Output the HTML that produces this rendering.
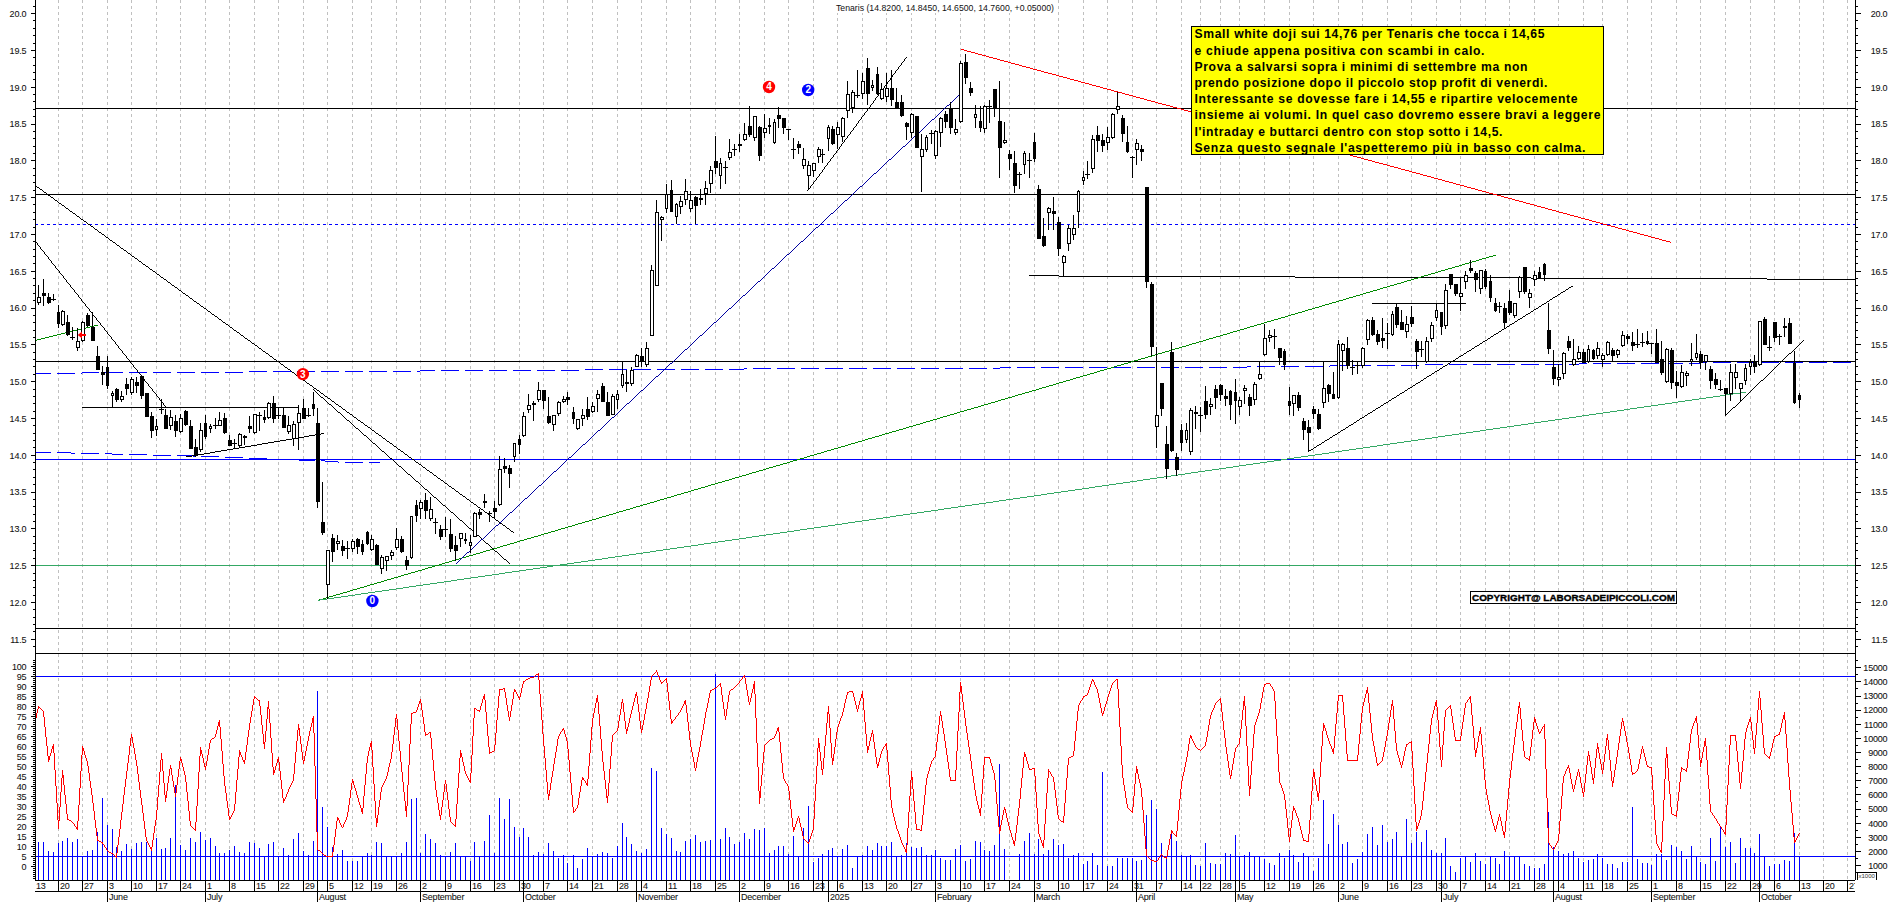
<!DOCTYPE html>
<html><head><meta charset="utf-8"><title>Tenaris</title>
<style>html,body{margin:0;padding:0;background:#fff;overflow:hidden}svg{display:block}</style></head>
<body>
<svg width="1890" height="902" viewBox="0 0 1890 902" style="display:block">
<rect width="1890" height="902" fill="#fff"/>
<g stroke="#c0c0c0" stroke-width="1" stroke-dasharray="3 3" shape-rendering="crispEdges">
<line x1="58.5" y1="0" x2="58.5" y2="880"/>
<line x1="82.5" y1="0" x2="82.5" y2="880"/>
<line x1="107.5" y1="0" x2="107.5" y2="880"/>
<line x1="131.5" y1="0" x2="131.5" y2="880"/>
<line x1="156.5" y1="0" x2="156.5" y2="880"/>
<line x1="180.5" y1="0" x2="180.5" y2="880"/>
<line x1="205.5" y1="0" x2="205.5" y2="880"/>
<line x1="229.5" y1="0" x2="229.5" y2="880"/>
<line x1="254.5" y1="0" x2="254.5" y2="880"/>
<line x1="278.5" y1="0" x2="278.5" y2="880"/>
<line x1="303.5" y1="0" x2="303.5" y2="880"/>
<line x1="327.5" y1="0" x2="327.5" y2="880"/>
<line x1="352.5" y1="0" x2="352.5" y2="880"/>
<line x1="371.5" y1="0" x2="371.5" y2="880"/>
<line x1="396.5" y1="0" x2="396.5" y2="880"/>
<line x1="420.5" y1="0" x2="420.5" y2="880"/>
<line x1="445.5" y1="0" x2="445.5" y2="880"/>
<line x1="470.5" y1="0" x2="470.5" y2="880"/>
<line x1="494.5" y1="0" x2="494.5" y2="880"/>
<line x1="519.5" y1="0" x2="519.5" y2="880"/>
<line x1="543.5" y1="0" x2="543.5" y2="880"/>
<line x1="567.5" y1="0" x2="567.5" y2="880"/>
<line x1="592.5" y1="0" x2="592.5" y2="880"/>
<line x1="617.5" y1="0" x2="617.5" y2="880"/>
<line x1="641.5" y1="0" x2="641.5" y2="880"/>
<line x1="666.5" y1="0" x2="666.5" y2="880"/>
<line x1="690.5" y1="0" x2="690.5" y2="880"/>
<line x1="715.5" y1="0" x2="715.5" y2="880"/>
<line x1="739.5" y1="0" x2="739.5" y2="880"/>
<line x1="764.5" y1="0" x2="764.5" y2="880"/>
<line x1="788.5" y1="0" x2="788.5" y2="880"/>
<line x1="813.5" y1="0" x2="813.5" y2="880"/>
<line x1="837.5" y1="0" x2="837.5" y2="880"/>
<line x1="862.5" y1="0" x2="862.5" y2="880"/>
<line x1="886.5" y1="0" x2="886.5" y2="880"/>
<line x1="911.5" y1="0" x2="911.5" y2="880"/>
<line x1="935.5" y1="0" x2="935.5" y2="880"/>
<line x1="960.5" y1="0" x2="960.5" y2="880"/>
<line x1="984.5" y1="0" x2="984.5" y2="880"/>
<line x1="1009.5" y1="0" x2="1009.5" y2="880"/>
<line x1="1034.5" y1="0" x2="1034.5" y2="880"/>
<line x1="1058.5" y1="0" x2="1058.5" y2="880"/>
<line x1="1083.5" y1="0" x2="1083.5" y2="880"/>
<line x1="1107.5" y1="0" x2="1107.5" y2="880"/>
<line x1="1132.5" y1="0" x2="1132.5" y2="880"/>
<line x1="1156.5" y1="0" x2="1156.5" y2="880"/>
<line x1="1181.5" y1="0" x2="1181.5" y2="880"/>
<line x1="1200.5" y1="0" x2="1200.5" y2="880"/>
<line x1="1220.5" y1="0" x2="1220.5" y2="880"/>
<line x1="1239.5" y1="0" x2="1239.5" y2="880"/>
<line x1="1264.5" y1="0" x2="1264.5" y2="880"/>
<line x1="1289.5" y1="0" x2="1289.5" y2="880"/>
<line x1="1313.5" y1="0" x2="1313.5" y2="880"/>
<line x1="1338.5" y1="0" x2="1338.5" y2="880"/>
<line x1="1362.5" y1="0" x2="1362.5" y2="880"/>
<line x1="1387.5" y1="0" x2="1387.5" y2="880"/>
<line x1="1411.5" y1="0" x2="1411.5" y2="880"/>
<line x1="1436.5" y1="0" x2="1436.5" y2="880"/>
<line x1="1460.5" y1="0" x2="1460.5" y2="880"/>
<line x1="1485.5" y1="0" x2="1485.5" y2="880"/>
<line x1="1509.5" y1="0" x2="1509.5" y2="880"/>
<line x1="1534.5" y1="0" x2="1534.5" y2="880"/>
<line x1="1558.5" y1="0" x2="1558.5" y2="880"/>
<line x1="1583.5" y1="0" x2="1583.5" y2="880"/>
<line x1="1602.5" y1="0" x2="1602.5" y2="880"/>
<line x1="1627.5" y1="0" x2="1627.5" y2="880"/>
<line x1="1651.5" y1="0" x2="1651.5" y2="880"/>
<line x1="1676.5" y1="0" x2="1676.5" y2="880"/>
<line x1="1700.5" y1="0" x2="1700.5" y2="880"/>
<line x1="1725.5" y1="0" x2="1725.5" y2="880"/>
<line x1="1750.5" y1="0" x2="1750.5" y2="880"/>
<line x1="1774.5" y1="0" x2="1774.5" y2="880"/>
<line x1="1799.5" y1="0" x2="1799.5" y2="880"/>
<line x1="1823.5" y1="0" x2="1823.5" y2="880"/>
<line x1="1847.5" y1="0" x2="1847.5" y2="880"/>
</g>
<clipPath id="cp"><rect x="36" y="0" width="1819" height="653"/></clipPath>
<clipPath id="cl"><rect x="36" y="653" width="1819" height="227"/></clipPath>
<g clip-path="url(#cl)">
<g fill="#0000ff" shape-rendering="crispEdges">
<rect x="38" y="842" width="1" height="38"/>
<rect x="43" y="842" width="1" height="38"/>
<rect x="48" y="851" width="1" height="29"/>
<rect x="53" y="852" width="1" height="28"/>
<rect x="58" y="843" width="1" height="37"/>
<rect x="62" y="841" width="1" height="39"/>
<rect x="67" y="838" width="1" height="42"/>
<rect x="72" y="842" width="1" height="38"/>
<rect x="77" y="839" width="1" height="41"/>
<rect x="82" y="856" width="1" height="24"/>
<rect x="87" y="851" width="1" height="29"/>
<rect x="92" y="850" width="1" height="30"/>
<rect x="97" y="832" width="1" height="48"/>
<rect x="102" y="798" width="1" height="82"/>
<rect x="107" y="825" width="1" height="55"/>
<rect x="112" y="829" width="1" height="51"/>
<rect x="116" y="847" width="1" height="33"/>
<rect x="121" y="851" width="1" height="29"/>
<rect x="126" y="844" width="1" height="36"/>
<rect x="131" y="849" width="1" height="31"/>
<rect x="136" y="843" width="1" height="37"/>
<rect x="141" y="842" width="1" height="38"/>
<rect x="146" y="842" width="1" height="38"/>
<rect x="151" y="851" width="1" height="29"/>
<rect x="156" y="838" width="1" height="42"/>
<rect x="161" y="849" width="1" height="31"/>
<rect x="165" y="848" width="1" height="32"/>
<rect x="170" y="838" width="1" height="42"/>
<rect x="175" y="785" width="1" height="95"/>
<rect x="180" y="845" width="1" height="35"/>
<rect x="185" y="850" width="1" height="30"/>
<rect x="190" y="838" width="1" height="42"/>
<rect x="195" y="842" width="1" height="38"/>
<rect x="200" y="832" width="1" height="48"/>
<rect x="205" y="840" width="1" height="40"/>
<rect x="210" y="838" width="1" height="42"/>
<rect x="215" y="846" width="1" height="34"/>
<rect x="219" y="853" width="1" height="27"/>
<rect x="224" y="853" width="1" height="27"/>
<rect x="229" y="850" width="1" height="30"/>
<rect x="234" y="846" width="1" height="34"/>
<rect x="239" y="852" width="1" height="28"/>
<rect x="244" y="853" width="1" height="27"/>
<rect x="249" y="842" width="1" height="38"/>
<rect x="254" y="843" width="1" height="37"/>
<rect x="259" y="848" width="1" height="32"/>
<rect x="264" y="857" width="1" height="23"/>
<rect x="268" y="844" width="1" height="36"/>
<rect x="273" y="842" width="1" height="38"/>
<rect x="278" y="856" width="1" height="24"/>
<rect x="283" y="848" width="1" height="32"/>
<rect x="288" y="855" width="1" height="25"/>
<rect x="293" y="839" width="1" height="41"/>
<rect x="298" y="833" width="1" height="47"/>
<rect x="303" y="851" width="1" height="29"/>
<rect x="308" y="855" width="1" height="25"/>
<rect x="313" y="841" width="1" height="39"/>
<rect x="317" y="691" width="1" height="189"/>
<rect x="322" y="807" width="1" height="73"/>
<rect x="327" y="827" width="1" height="53"/>
<rect x="332" y="847" width="1" height="33"/>
<rect x="337" y="854" width="1" height="26"/>
<rect x="342" y="850" width="1" height="30"/>
<rect x="347" y="861" width="1" height="19"/>
<rect x="352" y="861" width="1" height="19"/>
<rect x="357" y="861" width="1" height="19"/>
<rect x="362" y="856" width="1" height="24"/>
<rect x="367" y="853" width="1" height="27"/>
<rect x="371" y="855" width="1" height="25"/>
<rect x="376" y="842" width="1" height="38"/>
<rect x="381" y="843" width="1" height="37"/>
<rect x="386" y="856" width="1" height="24"/>
<rect x="391" y="856" width="1" height="24"/>
<rect x="396" y="856" width="1" height="24"/>
<rect x="401" y="853" width="1" height="27"/>
<rect x="406" y="842" width="1" height="38"/>
<rect x="411" y="799" width="1" height="81"/>
<rect x="416" y="798" width="1" height="82"/>
<rect x="420" y="853" width="1" height="27"/>
<rect x="425" y="834" width="1" height="46"/>
<rect x="430" y="839" width="1" height="41"/>
<rect x="435" y="843" width="1" height="37"/>
<rect x="440" y="855" width="1" height="25"/>
<rect x="445" y="856" width="1" height="24"/>
<rect x="450" y="852" width="1" height="28"/>
<rect x="455" y="843" width="1" height="37"/>
<rect x="460" y="856" width="1" height="24"/>
<rect x="465" y="857" width="1" height="23"/>
<rect x="470" y="861" width="1" height="19"/>
<rect x="474" y="842" width="1" height="38"/>
<rect x="479" y="857" width="1" height="23"/>
<rect x="484" y="841" width="1" height="39"/>
<rect x="489" y="815" width="1" height="65"/>
<rect x="494" y="853" width="1" height="27"/>
<rect x="499" y="798" width="1" height="82"/>
<rect x="504" y="819" width="1" height="61"/>
<rect x="509" y="799" width="1" height="81"/>
<rect x="514" y="827" width="1" height="53"/>
<rect x="519" y="837" width="1" height="43"/>
<rect x="523" y="828" width="1" height="52"/>
<rect x="528" y="837" width="1" height="43"/>
<rect x="533" y="855" width="1" height="25"/>
<rect x="538" y="852" width="1" height="28"/>
<rect x="543" y="854" width="1" height="26"/>
<rect x="548" y="843" width="1" height="37"/>
<rect x="553" y="851" width="1" height="29"/>
<rect x="558" y="858" width="1" height="22"/>
<rect x="563" y="855" width="1" height="25"/>
<rect x="567" y="863" width="1" height="17"/>
<rect x="573" y="855" width="1" height="25"/>
<rect x="577" y="868" width="1" height="12"/>
<rect x="582" y="859" width="1" height="21"/>
<rect x="587" y="848" width="1" height="32"/>
<rect x="592" y="856" width="1" height="24"/>
<rect x="597" y="854" width="1" height="26"/>
<rect x="602" y="852" width="1" height="28"/>
<rect x="607" y="853" width="1" height="27"/>
<rect x="612" y="858" width="1" height="22"/>
<rect x="617" y="846" width="1" height="34"/>
<rect x="622" y="823" width="1" height="57"/>
<rect x="626" y="837" width="1" height="43"/>
<rect x="631" y="844" width="1" height="36"/>
<rect x="636" y="851" width="1" height="29"/>
<rect x="641" y="853" width="1" height="27"/>
<rect x="646" y="849" width="1" height="31"/>
<rect x="651" y="768" width="1" height="112"/>
<rect x="656" y="771" width="1" height="109"/>
<rect x="661" y="828" width="1" height="52"/>
<rect x="666" y="834" width="1" height="46"/>
<rect x="671" y="838" width="1" height="42"/>
<rect x="676" y="851" width="1" height="29"/>
<rect x="680" y="852" width="1" height="28"/>
<rect x="685" y="841" width="1" height="39"/>
<rect x="690" y="839" width="1" height="41"/>
<rect x="695" y="835" width="1" height="45"/>
<rect x="700" y="842" width="1" height="38"/>
<rect x="705" y="841" width="1" height="39"/>
<rect x="710" y="840" width="1" height="40"/>
<rect x="715" y="674" width="1" height="206"/>
<rect x="720" y="839" width="1" height="41"/>
<rect x="725" y="828" width="1" height="52"/>
<rect x="729" y="837" width="1" height="43"/>
<rect x="734" y="844" width="1" height="36"/>
<rect x="739" y="842" width="1" height="38"/>
<rect x="744" y="833" width="1" height="47"/>
<rect x="749" y="839" width="1" height="41"/>
<rect x="754" y="829" width="1" height="51"/>
<rect x="759" y="830" width="1" height="50"/>
<rect x="764" y="828" width="1" height="52"/>
<rect x="769" y="853" width="1" height="27"/>
<rect x="774" y="850" width="1" height="30"/>
<rect x="778" y="846" width="1" height="34"/>
<rect x="783" y="846" width="1" height="34"/>
<rect x="788" y="854" width="1" height="26"/>
<rect x="793" y="836" width="1" height="44"/>
<rect x="798" y="856" width="1" height="24"/>
<rect x="803" y="828" width="1" height="52"/>
<rect x="808" y="806" width="1" height="74"/>
<rect x="813" y="862" width="1" height="18"/>
<rect x="818" y="858" width="1" height="22"/>
<rect x="822" y="854" width="1" height="26"/>
<rect x="828" y="850" width="1" height="30"/>
<rect x="832" y="848" width="1" height="32"/>
<rect x="837" y="856" width="1" height="24"/>
<rect x="842" y="849" width="1" height="31"/>
<rect x="847" y="845" width="1" height="35"/>
<rect x="852" y="868" width="1" height="12"/>
<rect x="857" y="857" width="1" height="23"/>
<rect x="862" y="855" width="1" height="25"/>
<rect x="867" y="846" width="1" height="34"/>
<rect x="872" y="850" width="1" height="30"/>
<rect x="877" y="843" width="1" height="37"/>
<rect x="881" y="846" width="1" height="34"/>
<rect x="886" y="846" width="1" height="34"/>
<rect x="891" y="842" width="1" height="38"/>
<rect x="896" y="857" width="1" height="23"/>
<rect x="901" y="855" width="1" height="25"/>
<rect x="906" y="843" width="1" height="37"/>
<rect x="911" y="847" width="1" height="33"/>
<rect x="916" y="848" width="1" height="32"/>
<rect x="921" y="847" width="1" height="33"/>
<rect x="926" y="855" width="1" height="25"/>
<rect x="931" y="855" width="1" height="25"/>
<rect x="935" y="850" width="1" height="30"/>
<rect x="940" y="858" width="1" height="22"/>
<rect x="945" y="860" width="1" height="20"/>
<rect x="950" y="860" width="1" height="20"/>
<rect x="955" y="849" width="1" height="31"/>
<rect x="960" y="845" width="1" height="35"/>
<rect x="965" y="861" width="1" height="19"/>
<rect x="970" y="859" width="1" height="21"/>
<rect x="975" y="841" width="1" height="39"/>
<rect x="980" y="842" width="1" height="38"/>
<rect x="984" y="850" width="1" height="30"/>
<rect x="989" y="851" width="1" height="29"/>
<rect x="994" y="845" width="1" height="35"/>
<rect x="999" y="764" width="1" height="116"/>
<rect x="1004" y="849" width="1" height="31"/>
<rect x="1019" y="854" width="1" height="26"/>
<rect x="1024" y="841" width="1" height="39"/>
<rect x="1029" y="833" width="1" height="47"/>
<rect x="1034" y="854" width="1" height="26"/>
<rect x="1038" y="839" width="1" height="41"/>
<rect x="1043" y="854" width="1" height="26"/>
<rect x="1048" y="850" width="1" height="30"/>
<rect x="1053" y="839" width="1" height="41"/>
<rect x="1058" y="845" width="1" height="35"/>
<rect x="1063" y="844" width="1" height="36"/>
<rect x="1068" y="858" width="1" height="22"/>
<rect x="1073" y="855" width="1" height="25"/>
<rect x="1078" y="853" width="1" height="27"/>
<rect x="1083" y="864" width="1" height="16"/>
<rect x="1087" y="861" width="1" height="19"/>
<rect x="1092" y="853" width="1" height="27"/>
<rect x="1097" y="865" width="1" height="15"/>
<rect x="1102" y="772" width="1" height="108"/>
<rect x="1107" y="866" width="1" height="14"/>
<rect x="1112" y="866" width="1" height="14"/>
<rect x="1117" y="858" width="1" height="22"/>
<rect x="1122" y="858" width="1" height="22"/>
<rect x="1127" y="858" width="1" height="22"/>
<rect x="1132" y="858" width="1" height="22"/>
<rect x="1136" y="861" width="1" height="19"/>
<rect x="1141" y="860" width="1" height="20"/>
<rect x="1146" y="815" width="1" height="65"/>
<rect x="1151" y="800" width="1" height="80"/>
<rect x="1156" y="809" width="1" height="71"/>
<rect x="1161" y="843" width="1" height="37"/>
<rect x="1166" y="858" width="1" height="22"/>
<rect x="1171" y="833" width="1" height="47"/>
<rect x="1176" y="841" width="1" height="39"/>
<rect x="1181" y="855" width="1" height="25"/>
<rect x="1186" y="857" width="1" height="23"/>
<rect x="1190" y="855" width="1" height="25"/>
<rect x="1195" y="865" width="1" height="15"/>
<rect x="1200" y="866" width="1" height="14"/>
<rect x="1205" y="843" width="1" height="37"/>
<rect x="1210" y="863" width="1" height="17"/>
<rect x="1215" y="864" width="1" height="16"/>
<rect x="1220" y="864" width="1" height="16"/>
<rect x="1225" y="853" width="1" height="27"/>
<rect x="1230" y="854" width="1" height="26"/>
<rect x="1235" y="835" width="1" height="45"/>
<rect x="1239" y="857" width="1" height="23"/>
<rect x="1244" y="855" width="1" height="25"/>
<rect x="1249" y="852" width="1" height="28"/>
<rect x="1254" y="857" width="1" height="23"/>
<rect x="1259" y="857" width="1" height="23"/>
<rect x="1264" y="859" width="1" height="21"/>
<rect x="1269" y="863" width="1" height="17"/>
<rect x="1274" y="865" width="1" height="15"/>
<rect x="1279" y="853" width="1" height="27"/>
<rect x="1284" y="858" width="1" height="22"/>
<rect x="1289" y="850" width="1" height="30"/>
<rect x="1293" y="855" width="1" height="25"/>
<rect x="1298" y="862" width="1" height="18"/>
<rect x="1303" y="853" width="1" height="27"/>
<rect x="1308" y="857" width="1" height="23"/>
<rect x="1313" y="871" width="1" height="9"/>
<rect x="1318" y="858" width="1" height="22"/>
<rect x="1323" y="800" width="1" height="80"/>
<rect x="1328" y="844" width="1" height="36"/>
<rect x="1333" y="814" width="1" height="66"/>
<rect x="1338" y="825" width="1" height="55"/>
<rect x="1342" y="844" width="1" height="36"/>
<rect x="1347" y="842" width="1" height="38"/>
<rect x="1352" y="863" width="1" height="17"/>
<rect x="1357" y="859" width="1" height="21"/>
<rect x="1362" y="852" width="1" height="28"/>
<rect x="1367" y="834" width="1" height="46"/>
<rect x="1372" y="827" width="1" height="53"/>
<rect x="1377" y="845" width="1" height="35"/>
<rect x="1382" y="825" width="1" height="55"/>
<rect x="1387" y="842" width="1" height="38"/>
<rect x="1392" y="839" width="1" height="41"/>
<rect x="1396" y="832" width="1" height="48"/>
<rect x="1401" y="857" width="1" height="23"/>
<rect x="1406" y="819" width="1" height="61"/>
<rect x="1411" y="843" width="1" height="37"/>
<rect x="1416" y="832" width="1" height="48"/>
<rect x="1421" y="842" width="1" height="38"/>
<rect x="1426" y="830" width="1" height="50"/>
<rect x="1431" y="850" width="1" height="30"/>
<rect x="1436" y="853" width="1" height="27"/>
<rect x="1441" y="853" width="1" height="27"/>
<rect x="1445" y="838" width="1" height="42"/>
<rect x="1450" y="866" width="1" height="14"/>
<rect x="1455" y="872" width="1" height="8"/>
<rect x="1460" y="858" width="1" height="22"/>
<rect x="1465" y="857" width="1" height="23"/>
<rect x="1470" y="862" width="1" height="18"/>
<rect x="1475" y="853" width="1" height="27"/>
<rect x="1480" y="861" width="1" height="19"/>
<rect x="1485" y="864" width="1" height="16"/>
<rect x="1490" y="857" width="1" height="23"/>
<rect x="1495" y="858" width="1" height="22"/>
<rect x="1499" y="864" width="1" height="16"/>
<rect x="1504" y="851" width="1" height="29"/>
<rect x="1509" y="857" width="1" height="23"/>
<rect x="1514" y="857" width="1" height="23"/>
<rect x="1519" y="857" width="1" height="23"/>
<rect x="1524" y="864" width="1" height="16"/>
<rect x="1529" y="866" width="1" height="14"/>
<rect x="1534" y="868" width="1" height="12"/>
<rect x="1539" y="868" width="1" height="12"/>
<rect x="1544" y="864" width="1" height="16"/>
<rect x="1548" y="812" width="1" height="68"/>
<rect x="1553" y="847" width="1" height="33"/>
<rect x="1558" y="851" width="1" height="29"/>
<rect x="1563" y="854" width="1" height="26"/>
<rect x="1568" y="853" width="1" height="27"/>
<rect x="1573" y="851" width="1" height="29"/>
<rect x="1578" y="858" width="1" height="22"/>
<rect x="1583" y="862" width="1" height="18"/>
<rect x="1588" y="860" width="1" height="20"/>
<rect x="1593" y="859" width="1" height="21"/>
<rect x="1597" y="854" width="1" height="26"/>
<rect x="1602" y="858" width="1" height="22"/>
<rect x="1607" y="864" width="1" height="16"/>
<rect x="1612" y="864" width="1" height="16"/>
<rect x="1617" y="868" width="1" height="12"/>
<rect x="1622" y="862" width="1" height="18"/>
<rect x="1627" y="862" width="1" height="18"/>
<rect x="1632" y="807" width="1" height="73"/>
<rect x="1637" y="859" width="1" height="21"/>
<rect x="1642" y="863" width="1" height="17"/>
<rect x="1647" y="863" width="1" height="17"/>
<rect x="1651" y="865" width="1" height="15"/>
<rect x="1656" y="854" width="1" height="26"/>
<rect x="1661" y="854" width="1" height="26"/>
<rect x="1666" y="860" width="1" height="20"/>
<rect x="1671" y="845" width="1" height="35"/>
<rect x="1676" y="847" width="1" height="33"/>
<rect x="1681" y="851" width="1" height="29"/>
<rect x="1686" y="859" width="1" height="21"/>
<rect x="1691" y="846" width="1" height="34"/>
<rect x="1696" y="857" width="1" height="23"/>
<rect x="1700" y="862" width="1" height="18"/>
<rect x="1705" y="864" width="1" height="16"/>
<rect x="1710" y="838" width="1" height="42"/>
<rect x="1715" y="861" width="1" height="19"/>
<rect x="1720" y="827" width="1" height="53"/>
<rect x="1725" y="847" width="1" height="33"/>
<rect x="1730" y="842" width="1" height="38"/>
<rect x="1735" y="863" width="1" height="17"/>
<rect x="1740" y="838" width="1" height="42"/>
<rect x="1745" y="848" width="1" height="32"/>
<rect x="1750" y="848" width="1" height="32"/>
<rect x="1754" y="853" width="1" height="27"/>
<rect x="1759" y="834" width="1" height="46"/>
<rect x="1764" y="857" width="1" height="23"/>
<rect x="1769" y="866" width="1" height="14"/>
<rect x="1774" y="864" width="1" height="16"/>
<rect x="1779" y="864" width="1" height="16"/>
<rect x="1784" y="860" width="1" height="20"/>
<rect x="1789" y="861" width="1" height="19"/>
<rect x="1794" y="833" width="1" height="47"/>
<rect x="1799" y="856" width="1" height="24"/>
</g>
<line x1="35" y1="676.5" x2="1855" y2="676.5" stroke="#0000ff" stroke-width="1" shape-rendering="crispEdges"/>
<line x1="35" y1="856.5" x2="1855" y2="856.5" stroke="#0000ff" stroke-width="1" shape-rendering="crispEdges"/>
<path d="M38.5 706v3M37.5 709v4M36.5 713v5M35.5 718v4M34.5 722v5M33.5 727v3M38.5 706v1M39.5 707v1M40.5 708v1M41.5 709v1M42.5 710v1M43.5 711v1M43.5 711v6M44.5 717v10M45.5 727v10M46.5 737v9M47.5 746v10M48.5 756v6M53.5 744v2M52.5 746v3M51.5 749v4M50.5 753v3M49.5 756v4M48.5 760v2M53.5 744v9M54.5 753v17M55.5 770v16M56.5 786v17M57.5 803v17M58.5 820v9M62.5 770v8M61.5 778v14M60.5 792v15M59.5 807v14M58.5 821v8M62.5 770v5M63.5 775v10M64.5 785v10M65.5 795v9M66.5 804v10M67.5 814v6M67 819.5h2M69 820.5h2M71 821.5h1M72 822.5h1M72.5 822v1M73.5 823v1M74.5 824v2M75.5 826v1M76.5 827v2M77.5 829v1M82.5 746v9M81.5 755v16M80.5 771v17M79.5 788v17M78.5 805v16M77.5 821v9M82.5 746v2M83.5 748v3M84.5 751v4M85.5 755v3M86.5 758v3M87.5 761v2M87.5 762v4M88.5 766v7M89.5 773v8M90.5 781v7M91.5 788v7M92.5 795v5M92.5 799v4M93.5 803v8M94.5 811v9M95.5 820v8M96.5 828v8M97.5 836v5M97 840.5h2M99 841.5h2M101 842.5h2M102.5 842v2M103.5 844v1M104.5 845v2M105.5 847v1M106.5 848v2M107.5 850v1M107 850.5h1M108 851.5h1M109 852.5h2M111 853.5h2M112 853.5h1M113 854.5h1M114 855.5h1M115 856.5h1M116 857.5h1M121.5 816v4M120.5 820v9M119.5 829v8M118.5 837v8M117.5 845v8M116.5 853v5M126.5 774v5M125.5 779v8M124.5 787v8M123.5 795v9M122.5 804v8M121.5 812v5M131.5 734v4M130.5 738v8M129.5 746v9M128.5 755v8M127.5 763v8M126.5 771v4M131.5 734v3M132.5 737v6M133.5 743v5M134.5 748v6M135.5 754v6M136.5 760v3M136.5 762v4M137.5 766v8M138.5 774v8M139.5 782v8M140.5 790v8M141.5 798v4M141.5 801v4M142.5 805v8M143.5 813v8M144.5 821v8M145.5 829v8M146.5 837v4M146.5 840v1M147.5 841v2M148.5 843v2M149.5 845v2M150.5 847v2M151.5 849v2M156.5 816v4M155.5 820v6M154.5 826v7M153.5 833v7M152.5 840v7M151.5 847v4M161.5 753v7M160.5 760v12M159.5 772v13M158.5 785v12M157.5 797v13M156.5 810v7M161.5 753v6M162.5 759v12M163.5 771v12M164.5 783v12M165.5 795v7M170.5 765v4M169.5 769v7M168.5 776v7M167.5 783v8M166.5 791v7M165.5 798v4M170.5 765v3M171.5 768v7M172.5 775v6M173.5 781v6M174.5 787v6M175.5 793v4M180.5 757v4M179.5 761v8M178.5 769v8M177.5 777v8M176.5 785v8M175.5 793v4M180.5 757v2M181.5 759v4M182.5 763v4M183.5 767v4M184.5 771v4M185.5 775v3M185.5 777v5M186.5 782v10M187.5 792v9M188.5 801v10M189.5 811v10M190.5 821v5M190 825.5h1M191 826.5h1M192 827.5h1M193 828.5h1M194 829.5h1M195 830.5h1M200.5 747v9M199.5 756v16M198.5 772v17M197.5 789v17M196.5 806v16M195.5 822v9M200.5 747v3M201.5 750v4M202.5 754v4M203.5 758v5M204.5 763v4M205.5 767v3M210.5 740v3M209.5 743v6M208.5 749v6M207.5 755v6M206.5 761v5M205.5 766v4M210 740.5h1M211 739.5h1M212 738.5h2M214 737.5h1M215 736.5h1M219.5 720v2M218.5 722v4M217.5 726v4M216.5 730v4M215.5 734v3M219.5 720v7M220.5 727v12M221.5 739v12M222.5 751v13M223.5 764v12M224.5 776v6M224.5 781v5M225.5 786v7M226.5 793v8M227.5 801v7M228.5 808v8M229.5 816v4M234.5 810v1M233.5 811v2M232.5 813v2M231.5 815v2M230.5 817v2M229.5 819v1M239.5 750v7M238.5 757v12M237.5 769v11M236.5 780v12M235.5 792v12M234.5 804v7M239.5 750v2M240.5 752v3M241.5 755v2M242.5 757v3M243.5 760v2M244.5 762v2M249.5 725v5M248.5 730v7M247.5 737v8M246.5 745v7M245.5 752v8M244.5 760v4M254.5 696v3M253.5 699v6M252.5 705v6M251.5 711v6M250.5 717v6M249.5 723v3M254 696.5h1M255 697.5h1M256 698.5h1M257 699.5h1M258 700.5h2M259.5 700v6M260.5 706v9M261.5 715v10M262.5 725v9M263.5 734v10M264.5 744v5M268.5 701v6M267.5 707v12M266.5 719v12M265.5 731v11M264.5 742v7M268.5 701v8M269.5 709v14M270.5 723v15M271.5 738v15M272.5 753v14M273.5 767v8M278.5 757v2M277.5 759v4M276.5 763v3M275.5 766v4M274.5 770v3M273.5 773v2M278.5 757v5M279.5 762v9M280.5 771v9M281.5 780v9M282.5 789v9M283.5 798v5M288.5 790v2M287.5 792v2M286.5 794v3M285.5 797v2M284.5 799v2M283.5 801v2M293.5 779v2M292.5 781v2M291.5 783v2M290.5 785v2M289.5 787v2M288.5 789v2M298.5 724v6M297.5 730v11M296.5 741v11M295.5 752v11M294.5 763v11M293.5 774v6M298.5 724v4M299.5 728v8M300.5 736v8M301.5 744v8M302.5 752v8M303.5 760v4M308.5 738v3M307.5 741v5M306.5 746v5M305.5 751v5M304.5 756v5M303.5 761v3M313.5 716v2M312.5 718v5M311.5 723v4M310.5 727v4M309.5 731v5M308.5 736v3M313.5 716v17M314.5 733v33M315.5 766v33M316.5 799v33M317.5 832v18M317 849.5h1M318 850.5h2M320 851.5h1M321 852.5h1M322 853.5h1M322 853.5h1M323 854.5h1M324 855.5h2M326 856.5h2M327 856.5h6M337.5 817v4M336.5 821v8M335.5 829v8M334.5 837v8M333.5 845v7M332.5 852v5M337.5 817v1M338.5 818v2M339.5 820v3M340.5 823v2M341.5 825v2M342.5 827v1M347.5 816v1M346.5 817v3M345.5 820v2M344.5 822v2M343.5 824v3M342.5 827v1M352.5 779v4M351.5 783v7M350.5 790v8M349.5 798v7M348.5 805v7M347.5 812v5M352.5 779v2M353.5 781v4M354.5 785v3M355.5 788v3M356.5 791v4M357.5 795v2M357.5 796v2M358.5 798v4M359.5 802v3M360.5 805v3M361.5 808v4M362.5 812v2M367.5 757v6M366.5 763v11M365.5 774v11M364.5 785v11M363.5 796v12M362.5 808v6M371.5 741v2M370.5 743v4M369.5 747v4M368.5 751v5M367.5 756v2M371.5 741v9M372.5 750v17M373.5 767v17M374.5 784v17M375.5 801v17M376.5 818v9M381.5 788v4M380.5 792v8M379.5 800v7M378.5 807v8M377.5 815v8M376.5 823v4M386.5 778v1M385.5 779v2M384.5 781v2M383.5 783v2M382.5 785v2M381.5 787v2M391.5 756v3M390.5 759v4M389.5 763v4M388.5 767v5M387.5 772v4M386.5 776v3M396.5 714v4M395.5 718v9M394.5 727v8M393.5 735v9M392.5 744v8M391.5 752v5M396.5 714v5M397.5 719v11M398.5 730v11M399.5 741v10M400.5 751v11M401.5 762v6M401.5 767v5M402.5 772v10M403.5 782v10M404.5 792v9M405.5 801v10M406.5 811v6M411.5 713v11M410.5 724v20M409.5 744v21M408.5 765v20M407.5 785v21M406.5 806v11M411 713.5h2M413 712.5h3M416 711.5h1M420.5 699v2M419.5 701v3M418.5 704v3M417.5 707v3M416.5 710v2M420.5 699v4M421.5 703v7M422.5 710v7M423.5 717v7M424.5 724v8M425.5 732v4M425 735.5h1M426 734.5h2M428 733.5h1M429 732.5h2M430.5 732v6M431.5 738v11M432.5 749v11M433.5 760v11M434.5 771v10M435.5 781v6M435.5 786v4M436.5 790v7M437.5 797v6M438.5 803v7M439.5 810v6M440.5 816v4M445.5 780v4M444.5 784v8M443.5 792v8M442.5 800v7M441.5 807v8M440.5 815v5M445.5 780v4M446.5 784v8M447.5 792v8M448.5 800v9M449.5 809v8M450.5 817v4M450.5 820v2M451.5 822v1M452.5 823v1M453.5 824v1M454.5 825v1M455.5 826v1M460.5 750v8M459.5 758v15M458.5 773v15M457.5 788v16M456.5 804v15M455.5 819v8M460.5 750v3M461.5 753v4M462.5 757v5M463.5 762v4M464.5 766v5M465.5 771v3M465.5 773v1M466.5 774v2M467.5 776v2M468.5 778v2M469.5 780v2M470.5 782v1M474.5 708v10M473.5 718v18M472.5 736v19M471.5 755v18M470.5 773v10M474 708.5h2M476 709.5h1M477 710.5h2M479 711.5h1M484.5 694v2M483.5 696v3M482.5 699v4M481.5 703v3M480.5 706v4M479.5 710v2M484.5 694v6M485.5 700v12M486.5 712v12M487.5 724v12M488.5 736v11M489.5 747v7M489 753.5h1M490 752.5h2M492 751.5h2M494 750.5h1M499.5 689v7M498.5 696v12M497.5 708v12M496.5 720v13M495.5 733v12M494.5 745v6M499 689.5h4M503 688.5h2M504.5 688v4M505.5 692v6M506.5 698v7M507.5 705v6M508.5 711v6M509.5 717v4M514.5 689v3M513.5 692v7M512.5 699v6M511.5 705v6M510.5 711v6M509.5 717v4M514.5 689v1M515.5 690v2M516.5 692v2M517.5 694v2M518.5 696v2M519.5 698v2M523.5 681v3M522.5 684v4M521.5 688v5M520.5 693v4M519.5 697v3M523 681.5h2M525 680.5h1M526 679.5h2M528 678.5h1M528 678.5h2M530 677.5h4M533 677.5h1M534 676.5h1M535 675.5h1M536 674.5h2M538 673.5h1M538.5 673v7M539.5 680v14M540.5 694v13M541.5 707v13M542.5 720v14M543.5 734v7M543.5 740v6M544.5 746v12M545.5 758v12M546.5 770v12M547.5 782v12M548.5 794v6M553.5 767v4M552.5 771v6M551.5 777v6M550.5 783v7M549.5 790v6M548.5 796v4M558.5 736v3M557.5 739v7M556.5 746v6M555.5 752v6M554.5 758v6M553.5 764v4M563.5 728v1M562.5 729v2M561.5 731v1M560.5 732v2M559.5 734v2M558.5 736v1M563.5 728v2M564.5 730v4M565.5 734v3M566.5 737v4M567.5 741v2M567.5 742v7M568.5 749v11M569.5 760v12M570.5 772v11M571.5 783v12M572.5 795v12M573.5 807v6M577.5 807v1M576.5 808v1M575.5 809v2M574.5 811v1M573.5 812v1M582.5 777v3M581.5 780v6M580.5 786v6M579.5 792v6M578.5 798v7M577.5 805v3M582.5 777v1M583.5 778v2M584.5 780v1M585.5 781v2M586.5 783v2M587.5 785v1M592.5 720v7M591.5 727v13M590.5 740v13M589.5 753v13M588.5 766v13M587.5 779v7M597.5 695v3M596.5 698v5M595.5 703v5M594.5 708v5M593.5 713v5M592.5 718v3M597.5 695v7M598.5 702v12M599.5 714v12M600.5 726v13M601.5 739v12M602.5 751v7M602.5 757v5M603.5 762v9M604.5 771v9M605.5 780v9M606.5 789v9M607.5 798v5M612.5 735v7M611.5 742v14M610.5 756v13M609.5 769v14M608.5 783v13M607.5 796v7M612 735.5h1M613 734.5h1M614 733.5h1M615 732.5h1M616 731.5h1M617 730.5h1M622.5 699v3M621.5 702v7M620.5 709v6M619.5 715v6M618.5 721v7M617.5 728v3M622.5 699v4M623.5 703v9M624.5 712v9M625.5 721v8M626.5 729v5M631.5 711v3M630.5 714v4M629.5 718v5M628.5 723v4M627.5 727v4M626.5 731v3M636.5 692v2M635.5 694v4M634.5 698v4M633.5 702v4M632.5 706v4M631.5 710v2M636.5 692v4M637.5 696v8M638.5 704v8M639.5 712v9M640.5 721v8M641.5 729v4M646.5 706v3M645.5 709v5M644.5 714v6M643.5 720v5M642.5 725v5M641.5 730v3M651.5 677v3M650.5 680v6M649.5 686v6M648.5 692v6M647.5 698v5M646.5 703v4M656.5 670v2M655.5 672v1M654.5 673v1M653.5 674v1M652.5 675v1M651.5 676v2M656.5 670v2M657.5 672v3M658.5 675v2M659.5 677v3M660.5 680v2M661.5 682v2M661 683.5h1M662 682.5h1M663 681.5h1M664 680.5h1M665 679.5h1M666 678.5h1M666.5 678v5M667.5 683v9M668.5 692v9M669.5 701v9M670.5 710v9M671.5 719v5M676.5 716v1M675.5 717v2M674.5 719v1M673.5 720v1M672.5 721v2M671.5 723v1M680.5 711v1M679.5 712v1M678.5 713v2M677.5 715v1M676.5 716v1M685.5 700v1M684.5 701v3M683.5 704v2M682.5 706v2M681.5 708v2M680.5 710v2M685.5 700v5M686.5 705v8M687.5 713v9M688.5 722v9M689.5 731v9M690.5 740v5M690.5 744v3M691.5 747v5M692.5 752v5M693.5 757v5M694.5 762v6M695.5 768v3M700.5 744v3M699.5 747v5M698.5 752v5M697.5 757v5M696.5 762v6M695.5 768v3M705.5 714v4M704.5 718v6M703.5 724v6M702.5 730v5M701.5 735v6M700.5 741v4M710.5 690v3M709.5 693v5M708.5 698v5M707.5 703v5M706.5 708v4M705.5 712v3M710 690.5h2M712 689.5h2M714 688.5h2M715 688.5h1M716 687.5h1M717 686.5h1M718 685.5h1M719 684.5h1M720 683.5h1M720.5 683v4M721.5 687v8M722.5 695v7M723.5 702v7M724.5 709v7M725.5 716v4M729.5 691v4M728.5 695v7M727.5 702v7M726.5 709v7M725.5 716v4M729 691.5h1M730 690.5h1M731 689.5h2M733 688.5h1M734 687.5h1M739.5 681v2M738.5 683v1M737.5 684v1M736.5 685v1M735.5 686v1M734.5 687v1M744.5 675v1M743.5 676v1M742.5 677v2M741.5 679v1M740.5 680v1M739.5 681v1M744.5 675v3M745.5 678v6M746.5 684v6M747.5 690v6M748.5 696v6M749.5 702v3M754.5 681v3M753.5 684v5M752.5 689v4M751.5 693v5M750.5 698v4M749.5 702v3M754.5 681v13M755.5 694v24M756.5 718v25M757.5 743v24M758.5 767v24M759.5 791v13M764.5 746v6M763.5 752v11M762.5 763v12M761.5 775v11M760.5 786v12M759.5 798v6M769.5 740v1M768.5 741v1M767.5 742v1M766.5 743v1M765.5 744v1M764.5 745v2M769 740.5h1M770 739.5h2M772 738.5h2M774 737.5h1M778.5 727v1M777.5 728v3M776.5 731v3M775.5 734v2M774.5 736v2M778.5 727v5M779.5 732v10M780.5 742v11M781.5 753v10M782.5 763v10M783.5 773v6M783.5 778v1M784.5 779v2M785.5 781v2M786.5 783v1M787.5 784v2M788.5 786v1M788.5 786v5M789.5 791v9M790.5 800v9M791.5 809v9M792.5 818v9M793.5 827v5M798.5 816v2M797.5 818v3M796.5 821v3M795.5 824v3M794.5 827v3M793.5 830v2M798.5 816v2M799.5 818v5M800.5 823v4M801.5 827v4M802.5 831v5M803.5 836v3M803.5 838v1M804.5 839v1M805.5 840v1M806.5 841v1M807.5 842v1M808.5 843v1M813.5 828v2M812.5 830v3M811.5 833v3M810.5 836v3M809.5 839v3M808.5 842v2M818.5 738v10M817.5 748v18M816.5 766v18M815.5 784v17M814.5 801v18M813.5 819v10M818.5 738v5M819.5 743v9M820.5 752v9M821.5 761v9M822.5 770v5M828.5 706v6M827.5 712v11M826.5 723v12M825.5 735v11M824.5 746v12M823.5 758v11M822.5 769v6M828.5 706v8M829.5 714v14M830.5 728v15M831.5 743v15M832.5 758v7M837.5 728v4M836.5 732v7M835.5 739v8M834.5 747v7M833.5 754v7M832.5 761v4M842.5 714v2M841.5 716v2M840.5 718v3M839.5 721v3M838.5 724v3M837.5 727v2M847.5 692v3M846.5 695v4M845.5 699v4M844.5 703v5M843.5 708v4M842.5 712v3M847 692.5h2M849 691.5h4M852.5 691v2M853.5 693v4M854.5 697v4M855.5 701v4M856.5 705v4M857.5 709v3M862.5 691v3M861.5 694v4M860.5 698v3M859.5 701v4M858.5 705v4M857.5 709v3M862.5 691v7M863.5 698v12M864.5 710v12M865.5 722v12M866.5 734v12M867.5 746v7M872.5 730v3M871.5 733v4M870.5 737v4M869.5 741v5M868.5 746v4M867.5 750v3M872.5 730v4M873.5 734v8M874.5 742v7M875.5 749v8M876.5 757v7M877.5 764v4M881.5 751v3M880.5 754v4M879.5 758v4M878.5 762v4M877.5 766v2M886.5 743v1M885.5 744v2M884.5 746v1M883.5 747v2M882.5 749v2M881.5 751v1M886.5 743v7M887.5 750v12M888.5 762v13M889.5 775v12M890.5 787v13M891.5 800v7M891.5 806v2M892.5 808v5M893.5 813v4M894.5 817v4M895.5 821v4M896.5 825v3M896.5 827v2M897.5 829v2M898.5 831v3M899.5 834v3M900.5 837v3M901.5 840v2M901.5 841v2M902.5 843v2M903.5 845v2M904.5 847v2M905.5 849v3M906.5 852v1M911.5 771v9M910.5 780v16M909.5 796v16M908.5 812v16M907.5 828v17M906.5 845v8M911.5 771v6M912.5 777v12M913.5 789v12M914.5 801v11M915.5 812v12M916.5 824v6M916 829.5h4M920 830.5h2M926.5 779v6M925.5 785v10M924.5 795v10M923.5 805v10M922.5 815v10M921.5 825v6M931.5 761v3M930.5 764v3M929.5 767v4M928.5 771v3M927.5 774v4M926.5 778v2M935.5 755v2M934.5 757v1M933.5 758v2M932.5 760v1M931.5 761v1M940.5 711v5M939.5 716v9M938.5 725v9M937.5 734v8M936.5 742v9M935.5 751v5M940.5 711v4M941.5 715v6M942.5 721v7M943.5 728v6M944.5 734v7M945.5 741v4M945.5 744v4M946.5 748v7M947.5 755v7M948.5 762v7M949.5 769v8M950.5 777v4M950 780.5h6M960.5 682v10M959.5 692v20M958.5 712v19M957.5 731v20M956.5 751v19M955.5 770v11M960.5 682v4M961.5 686v8M962.5 694v8M963.5 702v8M964.5 710v8M965.5 718v5M965.5 722v4M966.5 726v7M967.5 733v7M968.5 740v7M969.5 747v7M970.5 754v4M970.5 757v4M971.5 761v8M972.5 769v7M973.5 776v7M974.5 783v7M975.5 790v5M975.5 794v2M976.5 796v5M977.5 801v4M978.5 805v4M979.5 809v4M980.5 813v3M984.5 757v8M983.5 765v14M982.5 779v15M981.5 794v14M980.5 808v8M984 757.5h6M989.5 757v2M990.5 759v4M991.5 763v3M992.5 766v4M993.5 770v3M994.5 773v2M994.5 774v6M995.5 780v12M996.5 792v12M997.5 804v12M998.5 816v11M999.5 827v7M1004.5 807v3M1003.5 810v5M1002.5 815v5M1001.5 820v5M1000.5 825v6M999.5 831v3M1004.5 807v2M1005.5 809v4M1006.5 813v5M1007.5 818v4M1008.5 822v4M1009.5 826v3M1009.5 828v2M1010.5 830v3M1011.5 833v4M1012.5 837v3M1013.5 840v4M1014.5 844v2M1019.5 803v5M1018.5 808v8M1017.5 816v9M1016.5 825v8M1015.5 833v8M1014.5 841v5M1024.5 752v5M1023.5 757v11M1022.5 768v10M1021.5 778v10M1020.5 788v11M1019.5 799v5M1024.5 752v2M1025.5 754v3M1026.5 757v4M1027.5 761v3M1028.5 764v4M1029.5 768v2M1029 769.5h3M1032 768.5h3M1034.5 768v8M1035.5 776v16M1036.5 792v16M1037.5 808v16M1038.5 824v8M1038.5 831v3M1039.5 834v3M1040.5 837v3M1041.5 840v3M1042.5 843v3M1043.5 846v2M1048.5 769v9M1047.5 778v15M1046.5 793v16M1045.5 809v15M1044.5 824v16M1043.5 840v8M1048.5 769v2M1049.5 771v1M1050.5 772v2M1051.5 774v2M1052.5 776v1M1053.5 777v2M1053.5 778v4M1054.5 782v8M1055.5 790v8M1056.5 798v8M1057.5 806v9M1058.5 815v4M1058 818.5h1M1059 819.5h1M1060 820.5h1M1061 821.5h2M1063 822.5h1M1068.5 758v7M1067.5 765v13M1066.5 778v12M1065.5 790v13M1064.5 803v13M1063.5 816v7M1068 758.5h1M1069 757.5h2M1071 756.5h2M1073 755.5h1M1078.5 706v5M1077.5 711v10M1076.5 721v10M1075.5 731v10M1074.5 741v10M1073.5 751v5M1083.5 696v2M1082.5 698v2M1081.5 700v1M1080.5 701v2M1079.5 703v2M1078.5 705v2M1083 696.5h2M1085 695.5h2M1087 694.5h1M1092.5 679v2M1091.5 681v3M1090.5 684v3M1089.5 687v3M1088.5 690v3M1087.5 693v2M1092.5 679v1M1093.5 680v2M1094.5 682v3M1095.5 685v2M1096.5 687v2M1097.5 689v2M1097.5 690v3M1098.5 693v5M1099.5 698v5M1100.5 703v5M1101.5 708v5M1102.5 713v3M1107.5 699v2M1106.5 701v3M1105.5 704v3M1104.5 707v4M1103.5 711v3M1102.5 714v2M1112.5 683v2M1111.5 685v3M1110.5 688v3M1109.5 691v3M1108.5 694v3M1107.5 697v3M1112 683.5h1M1113 682.5h1M1114 681.5h1M1115 680.5h1M1116 679.5h2M1117.5 679v10M1118.5 689v19M1119.5 708v19M1120.5 727v19M1121.5 746v19M1122.5 765v10M1122.5 774v4M1123.5 778v7M1124.5 785v6M1125.5 791v7M1126.5 798v6M1127.5 804v4M1127.5 807v1M1128.5 808v1M1129.5 809v1M1130.5 810v1M1131.5 811v1M1132.5 812v1M1136.5 766v7M1135.5 773v11M1134.5 784v12M1133.5 796v11M1132.5 807v6M1136.5 766v3M1137.5 769v5M1138.5 774v5M1139.5 779v4M1140.5 783v5M1141.5 788v3M1141.5 790v7M1142.5 797v13M1143.5 810v13M1144.5 823v13M1145.5 836v13M1146.5 849v7M1146 855.5h1M1147 856.5h1M1148 857.5h1M1149 858.5h1M1150 859.5h1M1151 860.5h1M1151 860.5h3M1154 861.5h3M1161.5 854v1M1160.5 855v2M1159.5 857v1M1158.5 858v2M1157.5 860v1M1156.5 861v1M1161 854.5h1M1162 855.5h1M1163 856.5h1M1164 857.5h2M1166 858.5h1M1171.5 830v4M1170.5 834v5M1169.5 839v6M1168.5 845v5M1167.5 850v6M1166.5 856v3M1171.5 830v1M1172.5 831v2M1173.5 833v1M1174.5 834v1M1175.5 835v1M1176.5 836v1M1181.5 783v6M1180.5 789v10M1179.5 799v11M1178.5 810v11M1177.5 821v10M1176.5 831v6M1186.5 760v2M1185.5 762v5M1184.5 767v5M1183.5 772v4M1182.5 776v5M1181.5 781v3M1190.5 735v3M1189.5 738v6M1188.5 744v7M1187.5 751v6M1186.5 757v4M1190.5 735v1M1191.5 736v3M1192.5 739v2M1193.5 741v2M1194.5 743v2M1195.5 745v2M1195 746.5h1M1196 747.5h1M1197 748.5h1M1198 749.5h2M1200 750.5h1M1205.5 745v1M1204.5 746v1M1203.5 747v1M1202.5 748v1M1201.5 749v1M1200.5 750v1M1210.5 716v3M1209.5 719v6M1208.5 725v6M1207.5 731v6M1206.5 737v5M1205.5 742v4M1215.5 703v2M1214.5 705v3M1213.5 708v2M1212.5 710v2M1211.5 712v3M1210.5 715v2M1220.5 698v1M1219.5 699v1M1218.5 700v1M1217.5 701v1M1216.5 702v1M1215.5 703v1M1220.5 698v5M1221.5 703v9M1222.5 712v9M1223.5 721v9M1224.5 730v8M1225.5 738v5M1225.5 742v5M1226.5 747v7M1227.5 754v7M1228.5 761v7M1229.5 768v7M1230.5 775v4M1235.5 749v3M1234.5 752v6M1233.5 758v6M1232.5 764v6M1231.5 770v6M1230.5 776v3M1239.5 742v2M1238.5 744v1M1237.5 745v2M1236.5 747v1M1235.5 748v2M1244.5 696v5M1243.5 701v9M1242.5 710v10M1241.5 720v9M1240.5 729v9M1239.5 738v5M1244.5 696v10M1245.5 706v20M1246.5 726v20M1247.5 746v20M1248.5 766v20M1249.5 786v10M1254.5 727v7M1253.5 734v14M1252.5 748v13M1251.5 761v14M1250.5 775v14M1249.5 789v7M1259.5 711v2M1258.5 713v3M1257.5 716v3M1256.5 719v3M1255.5 722v3M1254.5 725v3M1264.5 684v3M1263.5 687v5M1262.5 692v6M1261.5 698v5M1260.5 703v6M1259.5 709v3M1264 684.5h2M1266 683.5h4M1269.5 683v1M1270.5 684v2M1271.5 686v1M1272.5 687v2M1273.5 689v2M1274.5 691v1M1274.5 691v10M1275.5 701v18M1276.5 719v17M1277.5 736v18M1278.5 754v18M1279.5 772v10M1279.5 781v2M1280.5 783v2M1281.5 785v3M1282.5 788v3M1283.5 791v3M1284.5 794v1M1284.5 794v6M1285.5 800v9M1286.5 809v9M1287.5 818v10M1288.5 828v9M1289.5 837v5M1293.5 806v5M1292.5 811v9M1291.5 820v8M1290.5 828v9M1289.5 837v5M1293.5 806v2M1294.5 808v2M1295.5 810v3M1296.5 813v3M1297.5 816v2M1298.5 818v2M1298.5 819v3M1299.5 822v4M1300.5 826v4M1301.5 830v4M1302.5 834v4M1303.5 838v3M1303 840.5h3M1306 841.5h3M1313.5 769v8M1312.5 777v14M1311.5 791v14M1310.5 805v15M1309.5 820v14M1308.5 834v8M1313.5 769v3M1314.5 772v7M1315.5 779v6M1316.5 785v6M1317.5 791v6M1318.5 797v4M1323.5 723v8M1322.5 731v15M1321.5 746v16M1320.5 762v15M1319.5 777v16M1318.5 793v8M1323.5 723v2M1324.5 725v3M1325.5 728v3M1326.5 731v4M1327.5 735v3M1328.5 738v2M1328.5 739v2M1329.5 741v3M1330.5 744v2M1331.5 746v3M1332.5 749v3M1333.5 752v2M1338.5 695v6M1337.5 701v12M1336.5 713v11M1335.5 724v12M1334.5 736v12M1333.5 748v6M1338 695.5h5M1342.5 695v7M1343.5 702v13M1344.5 715v13M1345.5 728v13M1346.5 741v13M1347.5 754v7M1347 760.5h6M1352 760.5h6M1362.5 707v6M1361.5 713v10M1360.5 723v11M1359.5 734v10M1358.5 744v11M1357.5 755v6M1367.5 687v3M1366.5 690v4M1365.5 694v4M1364.5 698v4M1363.5 702v4M1362.5 706v2M1367.5 687v6M1368.5 693v10M1369.5 703v10M1370.5 713v10M1371.5 723v10M1372.5 733v6M1372.5 738v3M1373.5 741v5M1374.5 746v6M1375.5 752v5M1376.5 757v6M1377.5 763v3M1382.5 760v1M1381.5 761v1M1380.5 762v1M1379.5 763v1M1378.5 764v1M1377.5 765v1M1387.5 733v3M1386.5 736v5M1385.5 741v6M1384.5 747v5M1383.5 752v5M1382.5 757v4M1392.5 700v4M1391.5 704v6M1390.5 710v7M1389.5 717v6M1388.5 723v7M1387.5 730v4M1392.5 700v6M1393.5 706v13M1394.5 719v12M1395.5 731v12M1396.5 743v7M1396.5 749v2M1397.5 751v4M1398.5 755v3M1399.5 758v4M1400.5 762v3M1401.5 765v3M1406.5 744v3M1405.5 747v4M1404.5 751v5M1403.5 756v5M1402.5 761v4M1401.5 765v3M1406 744.5h2M1408 743.5h1M1409 742.5h2M1411 741.5h1M1411.5 741v10M1412.5 751v17M1413.5 768v18M1414.5 786v18M1415.5 804v18M1416.5 822v9M1421.5 814v2M1420.5 816v4M1419.5 820v3M1418.5 823v3M1417.5 826v3M1416.5 829v2M1426.5 767v5M1425.5 772v10M1424.5 782v9M1423.5 791v10M1422.5 801v9M1421.5 810v5M1431.5 719v6M1430.5 725v9M1429.5 734v10M1428.5 744v9M1427.5 753v10M1426.5 763v5M1436.5 700v2M1435.5 702v4M1434.5 706v4M1433.5 710v4M1432.5 714v4M1431.5 718v2M1436.5 700v7M1437.5 707v13M1438.5 720v13M1439.5 733v14M1440.5 747v13M1441.5 760v7M1445.5 710v7M1444.5 717v14M1443.5 731v14M1442.5 745v15M1441.5 760v7M1445 710.5h1M1446 709.5h1M1447 708.5h1M1448 707.5h1M1449 706.5h1M1450 705.5h1M1450.5 705v4M1451.5 709v7M1452.5 716v7M1453.5 723v7M1454.5 730v7M1455.5 737v4M1455 740.5h6M1465.5 703v5M1464.5 708v7M1463.5 715v7M1462.5 722v7M1461.5 729v7M1460.5 736v5M1470.5 696v1M1469.5 697v2M1468.5 699v1M1467.5 700v2M1466.5 702v1M1465.5 703v1M1470.5 696v7M1471.5 703v12M1472.5 715v11M1473.5 726v12M1474.5 738v12M1475.5 750v7M1480.5 727v4M1479.5 731v5M1478.5 736v6M1477.5 742v6M1476.5 748v5M1475.5 753v4M1480.5 727v7M1481.5 734v11M1482.5 745v12M1483.5 757v12M1484.5 769v11M1485.5 780v7M1485.5 786v3M1486.5 789v6M1487.5 795v5M1488.5 800v5M1489.5 805v6M1490.5 811v3M1490.5 813v2M1491.5 815v4M1492.5 819v4M1493.5 823v3M1494.5 826v4M1495.5 830v2M1499.5 814v3M1498.5 817v4M1497.5 821v4M1496.5 825v4M1495.5 829v3M1499.5 814v3M1500.5 817v4M1501.5 821v5M1502.5 826v5M1503.5 831v4M1504.5 835v3M1509.5 781v7M1508.5 788v11M1507.5 799v11M1506.5 810v11M1505.5 821v11M1504.5 832v6M1514.5 740v5M1513.5 745v8M1512.5 753v8M1511.5 761v9M1510.5 770v8M1509.5 778v4M1519.5 702v4M1518.5 706v8M1517.5 714v8M1516.5 722v7M1515.5 729v8M1514.5 737v4M1519.5 702v6M1520.5 708v11M1521.5 719v11M1522.5 730v11M1523.5 741v10M1524.5 751v6M1524 756.5h1M1525 757.5h1M1526 758.5h2M1528 759.5h1M1529 760.5h1M1534.5 717v5M1533.5 722v8M1532.5 730v9M1531.5 739v8M1530.5 747v9M1529.5 756v5M1534.5 717v2M1535.5 719v4M1536.5 723v3M1537.5 726v3M1538.5 729v3M1539.5 732v2M1544.5 724v2M1543.5 726v1M1542.5 727v2M1541.5 729v2M1540.5 731v2M1539.5 733v1M1544.5 724v15M1545.5 739v30M1546.5 769v29M1547.5 798v30M1548.5 828v15M1548.5 842v1M1549.5 843v2M1550.5 845v1M1551.5 846v2M1552.5 848v1M1553.5 849v1M1558.5 840v1M1557.5 841v2M1556.5 843v2M1555.5 845v2M1554.5 847v2M1553.5 849v1M1563.5 777v6M1562.5 783v13M1561.5 796v13M1560.5 809v12M1559.5 821v13M1558.5 834v7M1568.5 765v2M1567.5 767v2M1566.5 769v2M1565.5 771v3M1564.5 774v2M1563.5 776v2M1568.5 765v3M1569.5 768v5M1570.5 773v6M1571.5 779v5M1572.5 784v5M1573.5 789v3M1578.5 769v3M1577.5 772v4M1576.5 776v4M1575.5 780v5M1574.5 785v4M1573.5 789v3M1578.5 769v3M1579.5 772v5M1580.5 777v6M1581.5 783v5M1582.5 788v5M1583.5 793v4M1588.5 751v5M1587.5 756v9M1586.5 765v9M1585.5 774v9M1584.5 783v9M1583.5 792v5M1588.5 751v4M1589.5 755v6M1590.5 761v6M1591.5 767v7M1592.5 774v6M1593.5 780v4M1597.5 743v6M1596.5 749v9M1595.5 758v10M1594.5 768v10M1593.5 778v6M1597.5 743v4M1598.5 747v6M1599.5 753v6M1600.5 759v5M1601.5 764v6M1602.5 770v4M1607.5 734v4M1606.5 738v8M1605.5 746v8M1604.5 754v8M1603.5 762v8M1602.5 770v4M1607.5 734v6M1608.5 740v10M1609.5 750v10M1610.5 760v11M1611.5 771v10M1612.5 781v6M1617.5 753v4M1616.5 757v7M1615.5 764v6M1614.5 770v7M1613.5 777v6M1612.5 783v4M1622.5 718v4M1621.5 722v7M1620.5 729v7M1619.5 736v7M1618.5 743v7M1617.5 750v4M1622.5 718v3M1623.5 721v5M1624.5 726v5M1625.5 731v5M1626.5 736v6M1627.5 742v3M1627.5 744v3M1628.5 747v6M1629.5 753v6M1630.5 759v6M1631.5 765v7M1632.5 772v3M1632 774.5h1M1633 773.5h2M1635 772.5h1M1636 771.5h1M1637 770.5h1M1642.5 746v3M1641.5 749v5M1640.5 754v5M1639.5 759v5M1638.5 764v5M1637.5 769v2M1642.5 746v3M1643.5 749v4M1644.5 753v4M1645.5 757v4M1646.5 761v4M1647.5 765v2M1647 766.5h2M1649 767.5h3M1651.5 767v8M1652.5 775v15M1653.5 790v15M1654.5 805v15M1655.5 820v15M1656.5 835v8M1656.5 842v2M1657.5 844v2M1658.5 846v2M1659.5 848v2M1660.5 850v2M1661.5 852v1M1666.5 747v11M1665.5 758v21M1664.5 779v21M1663.5 800v21M1662.5 821v21M1661.5 842v11M1666.5 747v7M1667.5 754v14M1668.5 768v13M1669.5 781v13M1670.5 794v13M1671.5 807v7M1671 813.5h1M1672 814.5h2M1674 815.5h2M1676 816.5h1M1681.5 767v5M1680.5 772v10M1679.5 782v10M1678.5 792v9M1677.5 801v10M1676.5 811v6M1681 767.5h1M1682 768.5h1M1683 769.5h2M1685 770.5h1M1686 771.5h1M1691.5 730v4M1690.5 734v9M1689.5 743v8M1688.5 751v8M1687.5 759v9M1686.5 768v4M1696.5 716v2M1695.5 718v3M1694.5 721v2M1693.5 723v3M1692.5 726v3M1691.5 729v2M1696.5 716v7M1697.5 723v12M1698.5 735v13M1699.5 748v12M1700.5 760v7M1705.5 738v3M1704.5 741v6M1703.5 747v5M1702.5 752v6M1701.5 758v5M1700.5 763v4M1705.5 738v8M1706.5 746v14M1707.5 760v15M1708.5 775v14M1709.5 789v15M1710.5 804v8M1710.5 811v1M1711.5 812v1M1712.5 813v2M1713.5 815v1M1714.5 816v2M1715.5 818v1M1715.5 818v1M1716.5 819v2M1717.5 821v2M1718.5 823v1M1719.5 824v2M1720.5 826v1M1720.5 826v1M1721.5 827v2M1722.5 829v1M1723.5 830v2M1724.5 832v2M1725.5 834v1M1730.5 735v10M1729.5 745v20M1728.5 765v20M1727.5 785v20M1726.5 805v20M1725.5 825v10M1730 735.5h6M1735.5 735v6M1736.5 741v10M1737.5 751v11M1738.5 762v10M1739.5 772v11M1740.5 783v6M1745.5 733v6M1744.5 739v11M1743.5 750v11M1742.5 761v11M1741.5 772v11M1740.5 783v6M1750.5 717v2M1749.5 719v3M1748.5 722v3M1747.5 725v3M1746.5 728v4M1745.5 732v2M1750.5 717v5M1751.5 722v9M1752.5 731v9M1753.5 740v9M1754.5 749v5M1759.5 691v7M1758.5 698v12M1757.5 710v13M1756.5 723v12M1755.5 735v13M1754.5 748v6M1759.5 691v7M1760.5 698v12M1761.5 710v13M1762.5 723v12M1763.5 735v13M1764.5 748v6M1764 753.5h1M1765 754.5h1M1766 755.5h1M1767 756.5h1M1768 757.5h1M1769 758.5h1M1774.5 736v3M1773.5 739v4M1772.5 743v5M1771.5 748v4M1770.5 752v4M1769.5 756v3M1774 736.5h2M1776 735.5h2M1778 734.5h2M1784.5 712v3M1783.5 715v4M1782.5 719v4M1781.5 723v5M1780.5 728v4M1779.5 732v3M1784.5 712v8M1785.5 720v14M1786.5 734v14M1787.5 748v15M1788.5 763v14M1789.5 777v8M1789.5 784v6M1790.5 790v12M1791.5 802v11M1792.5 813v12M1793.5 825v12M1794.5 837v6M1799.5 833v1M1798.5 834v2M1797.5 836v2M1796.5 838v2M1795.5 840v2M1794.5 842v1" stroke="#ff0000" stroke-width="1" fill="none" shape-rendering="crispEdges"/>
</g>
<g clip-path="url(#cp)">
<line x1="35" y1="108.5" x2="1855" y2="108.5" stroke="#000" stroke-width="1" shape-rendering="crispEdges"/>
<line x1="35" y1="194.5" x2="1855" y2="194.5" stroke="#000" stroke-width="1" shape-rendering="crispEdges"/>
<line x1="35" y1="224.5" x2="1855" y2="224.5" stroke="#0000ff" stroke-width="1" stroke-dasharray="3 3" shape-rendering="crispEdges"/>
<line x1="35" y1="361.5" x2="1855" y2="361.5" stroke="#000" stroke-width="1" shape-rendering="crispEdges"/>
<line x1="35" y1="459.5" x2="1855" y2="459.5" stroke="#0000ff" stroke-width="1" shape-rendering="crispEdges"/>
<line x1="35" y1="565.5" x2="1855" y2="565.5" stroke="#34a864" stroke-width="1" shape-rendering="crispEdges"/>
<line x1="35" y1="628.5" x2="1855" y2="628.5" stroke="#000" stroke-width="1" shape-rendering="crispEdges"/>
<g fill="#0000ff" shape-rendering="crispEdges">
<rect x="36" y="373" width="15" height="1"/>
<rect x="57" y="373" width="18" height="1"/>
<rect x="81" y="373" width="1" height="1"/>
<rect x="82" y="372" width="17" height="1"/>
<rect x="105" y="372" width="18" height="1"/>
<rect x="129" y="372" width="18" height="1"/>
<rect x="153" y="372" width="18" height="1"/>
<rect x="177" y="372" width="18" height="1"/>
<rect x="201" y="372" width="18" height="1"/>
<rect x="225" y="372" width="18" height="1"/>
<rect x="249" y="371" width="18" height="1"/>
<rect x="273" y="371" width="18" height="1"/>
<rect x="297" y="371" width="18" height="1"/>
<rect x="321" y="371" width="18" height="1"/>
<rect x="345" y="371" width="18" height="1"/>
<rect x="369" y="371" width="18" height="1"/>
<rect x="393" y="371" width="18" height="1"/>
<rect x="417" y="371" width="3" height="1"/>
<rect x="420" y="370" width="15" height="1"/>
<rect x="441" y="370" width="18" height="1"/>
<rect x="465" y="370" width="18" height="1"/>
<rect x="489" y="370" width="18" height="1"/>
<rect x="513" y="370" width="18" height="1"/>
<rect x="537" y="370" width="18" height="1"/>
<rect x="561" y="370" width="18" height="1"/>
<rect x="585" y="369" width="18" height="1"/>
<rect x="609" y="369" width="18" height="1"/>
<rect x="633" y="369" width="18" height="1"/>
<rect x="657" y="369" width="18" height="1"/>
<rect x="681" y="369" width="18" height="1"/>
<rect x="705" y="369" width="18" height="1"/>
<rect x="729" y="369" width="15" height="1"/>
<rect x="744" y="368" width="3" height="1"/>
<rect x="753" y="368" width="18" height="1"/>
<rect x="777" y="368" width="18" height="1"/>
<rect x="801" y="368" width="18" height="1"/>
<rect x="825" y="368" width="18" height="1"/>
<rect x="849" y="368" width="18" height="1"/>
<rect x="873" y="368" width="18" height="1"/>
<rect x="897" y="368" width="18" height="1"/>
<rect x="921" y="368" width="18" height="1"/>
<rect x="945" y="368" width="18" height="1"/>
<rect x="969" y="368" width="18" height="1"/>
<rect x="993" y="368" width="7" height="1"/>
<rect x="1000" y="367" width="11" height="1"/>
<rect x="1017" y="367" width="18" height="1"/>
<rect x="1041" y="367" width="18" height="1"/>
<rect x="1065" y="367" width="18" height="1"/>
<rect x="1089" y="367" width="18" height="1"/>
<rect x="1113" y="367" width="18" height="1"/>
<rect x="1137" y="367" width="18" height="1"/>
<rect x="1161" y="367" width="18" height="1"/>
<rect x="1185" y="367" width="18" height="1"/>
<rect x="1209" y="367" width="18" height="1"/>
<rect x="1233" y="367" width="14" height="1"/>
<rect x="1247" y="366" width="4" height="1"/>
<rect x="1257" y="366" width="18" height="1"/>
<rect x="1281" y="366" width="18" height="1"/>
<rect x="1305" y="366" width="18" height="1"/>
<rect x="1329" y="366" width="1" height="1"/>
<rect x="1330" y="365" width="17" height="1"/>
<rect x="1353" y="365" width="18" height="1"/>
<rect x="1377" y="365" width="18" height="1"/>
<rect x="1401" y="365" width="18" height="1"/>
<rect x="1425" y="364" width="18" height="1"/>
<rect x="1449" y="364" width="18" height="1"/>
<rect x="1473" y="364" width="18" height="1"/>
<rect x="1497" y="364" width="18" height="1"/>
<rect x="1521" y="364" width="18" height="1"/>
<rect x="1545" y="364" width="18" height="1"/>
<rect x="1569" y="364" width="10" height="1"/>
<rect x="1579" y="363" width="8" height="1"/>
<rect x="1593" y="363" width="18" height="1"/>
<rect x="1617" y="363" width="18" height="1"/>
<rect x="1641" y="363" width="18" height="1"/>
<rect x="1665" y="363" width="18" height="1"/>
<rect x="1689" y="363" width="11" height="1"/>
<rect x="1700" y="362" width="7" height="1"/>
<rect x="1713" y="362" width="18" height="1"/>
<rect x="1737" y="362" width="18" height="1"/>
<rect x="1761" y="362" width="18" height="1"/>
<rect x="1785" y="362" width="18" height="1"/>
<rect x="1809" y="362" width="18" height="1"/>
<rect x="1833" y="362" width="18" height="1"/>
</g>
<g fill="#0000ff" shape-rendering="crispEdges">
<rect x="36" y="452" width="15" height="1"/>
<rect x="57" y="452" width="14" height="1"/>
<rect x="71" y="453" width="4" height="1"/>
<rect x="81" y="453" width="18" height="1"/>
<rect x="105" y="453" width="7" height="1"/>
<rect x="112" y="454" width="11" height="1"/>
<rect x="129" y="454" width="18" height="1"/>
<rect x="153" y="455" width="18" height="1"/>
<rect x="177" y="455" width="16" height="1"/>
<rect x="193" y="456" width="2" height="1"/>
<rect x="201" y="456" width="18" height="1"/>
<rect x="225" y="457" width="18" height="1"/>
<rect x="249" y="458" width="18" height="1"/>
<rect x="273" y="459" width="18" height="1"/>
<rect x="297" y="459" width="2" height="1"/>
<rect x="299" y="460" width="16" height="1"/>
<rect x="321" y="460" width="4" height="1"/>
<rect x="325" y="461" width="13" height="1"/>
<rect x="338" y="462" width="1" height="1"/>
<rect x="345" y="462" width="18" height="1"/>
<rect x="369" y="462" width="11" height="1"/>
</g>
<rect x="1029" y="275" width="30" height="1" fill="#000" shape-rendering="crispEdges"/>
<rect x="1059" y="276" width="236" height="1" fill="#000" shape-rendering="crispEdges"/>
<rect x="1295" y="277" width="236" height="1" fill="#000" shape-rendering="crispEdges"/>
<rect x="1531" y="278" width="236" height="1" fill="#000" shape-rendering="crispEdges"/>
<rect x="1767" y="279" width="88" height="1" fill="#000" shape-rendering="crispEdges"/>
<line x1="1372" y1="303.5" x2="1466" y2="303.5" stroke="#000" stroke-width="1" shape-rendering="crispEdges"/>
<line x1="82" y1="407.5" x2="298" y2="407.5" stroke="#000" stroke-width="1" shape-rendering="crispEdges"/>
<path d="M36.5 242v1M37.5 243v2M38.5 245v1M39.5 246v1M40.5 247v2M41.5 249v1M42.5 250v1M43.5 251v1M44.5 252v2M45.5 254v1M46.5 255v1M47.5 256v1M48.5 257v2M49.5 259v1M50.5 260v1M51.5 261v2M52.5 263v1M53.5 264v1M54.5 265v1M55.5 266v2M56.5 268v1M57.5 269v1M58.5 270v1M59.5 271v2M60.5 273v1M61.5 274v1M62.5 275v1M63.5 276v2M64.5 278v1M65.5 279v1M66.5 280v2M67.5 282v1M68.5 283v1M69.5 284v1M70.5 285v2M71.5 287v1M72.5 288v1M73.5 289v1M74.5 290v2M75.5 292v1M76.5 293v1M77.5 294v1M78.5 295v2M79.5 297v1M80.5 298v1M81.5 299v2M82.5 301v1M83.5 302v1M84.5 303v1M85.5 304v2M86.5 306v1M87.5 307v1M88.5 308v1M89.5 309v2M90.5 311v1M91.5 312v1M92.5 313v2M93.5 315v1M94.5 316v1M95.5 317v1M96.5 318v2M97.5 320v1M98.5 321v1M99.5 322v1M100.5 323v2M101.5 325v1M102.5 326v1M103.5 327v1M104.5 328v2M105.5 330v1M106.5 331v1M107.5 332v2M108.5 334v1M109.5 335v1M110.5 336v1M111.5 337v2M112.5 339v1M113.5 340v1M114.5 341v1M115.5 342v2M116.5 344v1M117.5 345v1M118.5 346v2M119.5 348v1M120.5 349v1M121.5 350v1M122.5 351v2M123.5 353v1M124.5 354v1M125.5 355v1M126.5 356v2M127.5 358v1M128.5 359v1M129.5 360v1M130.5 361v2M131.5 363v1M132.5 364v1M133.5 365v2M134.5 367v1M135.5 368v1M136.5 369v1M137.5 370v2M138.5 372v1M139.5 373v1M140.5 374v1M141.5 375v2M142.5 377v1M143.5 378v1M144.5 379v2M145.5 381v1M146.5 382v1M147.5 383v1M148.5 384v2M149.5 386v1M150.5 387v1M151.5 388v1M152.5 389v2M153.5 391v1M154.5 392v1M155.5 393v1M156.5 394v2M157.5 396v1M158.5 397v1M159.5 398v2M160.5 400v1M161.5 401v1M162.5 402v1M163.5 403v2M164.5 405v1M165.5 406v1M166.5 407v1" stroke="#000" stroke-width="1" fill="none" shape-rendering="crispEdges"/>
<path d="M36 186.5h1M37 187.5h2M39 188.5h1M40 189.5h2M42 190.5h1M43 191.5h1M44 192.5h2M46 193.5h1M47 194.5h1M48 195.5h2M50 196.5h1M51 197.5h2M53 198.5h1M54 199.5h1M55 200.5h2M57 201.5h1M58 202.5h1M59 203.5h2M61 204.5h1M62 205.5h2M64 206.5h1M65 207.5h1M66 208.5h2M68 209.5h1M69 210.5h1M70 211.5h2M72 212.5h1M73 213.5h2M75 214.5h1M76 215.5h1M77 216.5h2M79 217.5h1M80 218.5h1M81 219.5h2M83 220.5h1M84 221.5h2M86 222.5h1M87 223.5h1M88 224.5h2M90 225.5h1M91 226.5h2M93 227.5h1M94 228.5h1M95 229.5h2M97 230.5h1M98 231.5h1M99 232.5h2M101 233.5h1M102 234.5h2M104 235.5h1M105 236.5h1M106 237.5h2M108 238.5h1M109 239.5h1M110 240.5h2M112 241.5h1M113 242.5h2M115 243.5h1M116 244.5h1M117 245.5h2M119 246.5h1M120 247.5h1M121 248.5h2M123 249.5h1M124 250.5h2M126 251.5h1M127 252.5h1M128 253.5h2M130 254.5h1M131 255.5h1M132 256.5h2M134 257.5h1M135 258.5h2M137 259.5h1M138 260.5h1M139 261.5h2M141 262.5h1M142 263.5h1M143 264.5h2M145 265.5h1M146 266.5h2M148 267.5h1M149 268.5h1M150 269.5h2M152 270.5h1M153 271.5h2M155 272.5h1M156 273.5h1M157 274.5h2M159 275.5h1M160 276.5h1M161 277.5h2M163 278.5h1M164 279.5h2M166 280.5h1M167 281.5h1M168 282.5h2M170 283.5h1M171 284.5h1M172 285.5h2M174 286.5h1M175 287.5h2M177 288.5h1M178 289.5h1M179 290.5h2M181 291.5h1M182 292.5h1M183 293.5h2M185 294.5h1M186 295.5h2M188 296.5h1M189 297.5h1M190 298.5h2M192 299.5h1M193 300.5h1M194 301.5h2M196 302.5h1M197 303.5h2M199 304.5h1M200 305.5h1M201 306.5h2M203 307.5h1M204 308.5h2M206 309.5h1M207 310.5h1M208 311.5h2M210 312.5h1M211 313.5h1M212 314.5h2M214 315.5h1M215 316.5h2M217 317.5h1M218 318.5h1M219 319.5h2M221 320.5h1M222 321.5h1M223 322.5h2M225 323.5h1M226 324.5h2M228 325.5h1M229 326.5h1M230 327.5h2M232 328.5h1M233 329.5h1M234 330.5h2M236 331.5h1M237 332.5h2M239 333.5h1M240 334.5h1M241 335.5h2M243 336.5h1M244 337.5h1M245 338.5h2M247 339.5h1M248 340.5h2M250 341.5h1M251 342.5h1M252 343.5h2M254 344.5h1M255 345.5h2M257 346.5h1M258 347.5h1M259 348.5h2M261 349.5h1M262 350.5h1M263 351.5h2M265 352.5h1M266 353.5h2M268 354.5h1M269 355.5h1M270 356.5h2M272 357.5h1M273 358.5h1M274 359.5h2M276 360.5h1M277 361.5h2M279 362.5h1M280 363.5h1M281 364.5h2M283 365.5h1M284 366.5h1M285 367.5h2M287 368.5h1M288 369.5h2M290 370.5h1M291 371.5h1M292 372.5h2M294 373.5h1M295 374.5h1M296 375.5h2M298 376.5h1M299 377.5h2M301 378.5h1M302 379.5h1M303 380.5h2M305 381.5h1M306 382.5h1M307 383.5h2M309 384.5h1M310 385.5h2M312 386.5h1M313 387.5h1M314 388.5h2M316 389.5h1M317 390.5h2M319 391.5h1M320 392.5h1M321 393.5h2M323 394.5h1M324 395.5h1M325 396.5h2M327 397.5h1M328 398.5h2M330 399.5h1M331 400.5h1M332 401.5h2M334 402.5h1M335 403.5h1M336 404.5h2M338 405.5h1M339 406.5h2M341 407.5h1M342 408.5h1M343 409.5h2M345 410.5h1M346 411.5h1M347 412.5h2M349 413.5h1M350 414.5h2M352 415.5h1M353 416.5h1M354 417.5h2M356 418.5h1M357 419.5h1M358 420.5h2M360 421.5h1M361 422.5h2M363 423.5h1M364 424.5h1M365 425.5h2M367 426.5h1M368 427.5h2M370 428.5h1M371 429.5h1M372 430.5h2M374 431.5h1M375 432.5h1M376 433.5h2M378 434.5h1M379 435.5h2M381 436.5h1M382 437.5h1M383 438.5h2M385 439.5h1M386 440.5h1M387 441.5h2M389 442.5h1M390 443.5h2M392 444.5h1M393 445.5h1M394 446.5h2M396 447.5h1M397 448.5h1M398 449.5h2M400 450.5h1M401 451.5h2M403 452.5h1M404 453.5h1M405 454.5h2M407 455.5h1M408 456.5h1M409 457.5h2M411 458.5h1M412 459.5h2M414 460.5h1M415 461.5h1M416 462.5h2M418 463.5h1M419 464.5h2M421 465.5h1M422 466.5h1M423 467.5h2M425 468.5h1M426 469.5h1M427 470.5h2M429 471.5h1M430 472.5h2M432 473.5h1M433 474.5h1M434 475.5h2M436 476.5h1M437 477.5h1M438 478.5h2M440 479.5h1M441 480.5h2M443 481.5h1M444 482.5h1M445 483.5h2M447 484.5h1M448 485.5h1M449 486.5h2M451 487.5h1M452 488.5h2M454 489.5h1M455 490.5h1M456 491.5h2M458 492.5h1M459 493.5h1M460 494.5h2M462 495.5h1M463 496.5h2M465 497.5h1M466 498.5h1M467 499.5h2M469 500.5h1M470 501.5h1M471 502.5h2M473 503.5h1M474 504.5h2M476 505.5h1M477 506.5h1M478 507.5h2M480 508.5h1M481 509.5h2M483 510.5h1M484 511.5h1M485 512.5h2M487 513.5h1M488 514.5h1M489 515.5h2M491 516.5h1M492 517.5h2M494 518.5h1M495 519.5h1M496 520.5h2M498 521.5h1M499 522.5h1M500 523.5h2M502 524.5h1M503 525.5h2M505 526.5h1M506 527.5h1M507 528.5h2M509 529.5h1M510 530.5h1M511 531.5h2M513 532.5h1" stroke="#000" stroke-width="1" fill="none" shape-rendering="crispEdges"/>
<path d="M313 389.5h1M314 390.5h1M315 391.5h1M316 392.5h1M317 393.5h1M318 394.5h1M319 395.5h1M320 396.5h1M321 397.5h2M323 398.5h1M324 399.5h1M325 400.5h1M326 401.5h1M327 402.5h1M328 403.5h1M329 404.5h2M331 405.5h1M332 406.5h1M333 407.5h1M334 408.5h1M335 409.5h1M336 410.5h1M337 411.5h1M338 412.5h2M340 413.5h1M341 414.5h1M342 415.5h1M343 416.5h1M344 417.5h1M345 418.5h1M346 419.5h1M347 420.5h2M349 421.5h1M350 422.5h1M351 423.5h1M352 424.5h1M353 425.5h1M354 426.5h1M355 427.5h1M356 428.5h2M358 429.5h1M359 430.5h1M360 431.5h1M361 432.5h1M362 433.5h1M363 434.5h1M364 435.5h2M366 436.5h1M367 437.5h1M368 438.5h1M369 439.5h1M370 440.5h1M371 441.5h1M372 442.5h1M373 443.5h2M375 444.5h1M376 445.5h1M377 446.5h1M378 447.5h1M379 448.5h1M380 449.5h1M381 450.5h1M382 451.5h2M384 452.5h1M385 453.5h1M386 454.5h1M387 455.5h1M388 456.5h1M389 457.5h1M390 458.5h2M392 459.5h1M393 460.5h1M394 461.5h1M395 462.5h1M396 463.5h1M397 464.5h1M398 465.5h1M399 466.5h2M401 467.5h1M402 468.5h1M403 469.5h1M404 470.5h1M405 471.5h1M406 472.5h1M407 473.5h1M408 474.5h2M410 475.5h1M411 476.5h1M412 477.5h1M413 478.5h1M414 479.5h1M415 480.5h1M416 481.5h2M418 482.5h1M419 483.5h1M420 484.5h1M421 485.5h1M422 486.5h1M423 487.5h1M424 488.5h1M425 489.5h2M427 490.5h1M428 491.5h1M429 492.5h1M430 493.5h1M431 494.5h1M432 495.5h1M433 496.5h1M434 497.5h2M436 498.5h1M437 499.5h1M438 500.5h1M439 501.5h1M440 502.5h1M441 503.5h1M442 504.5h1M443 505.5h2M445 506.5h1M446 507.5h1M447 508.5h1M448 509.5h1M449 510.5h1M450 511.5h1M451 512.5h2M453 513.5h1M454 514.5h1M455 515.5h1M456 516.5h1M457 517.5h1M458 518.5h1M459 519.5h1M460 520.5h2M462 521.5h1M463 522.5h1M464 523.5h1M465 524.5h1M466 525.5h1M467 526.5h1M468 527.5h1M469 528.5h2M471 529.5h1M472 530.5h1M473 531.5h1M474 532.5h1M475 533.5h1M476 534.5h1M477 535.5h2M479 536.5h1M480 537.5h1M481 538.5h1M482 539.5h1M483 540.5h1M484 541.5h1M485 542.5h1M486 543.5h2M488 544.5h1M489 545.5h1M490 546.5h1M491 547.5h1M492 548.5h1M493 549.5h1M494 550.5h1M495 551.5h2M497 552.5h1M498 553.5h1M499 554.5h1M500 555.5h1M501 556.5h1M502 557.5h1M503 558.5h1M504 559.5h2M506 560.5h1M507 561.5h1M508 562.5h1M509 563.5h1" stroke="#000" stroke-width="1" fill="none" shape-rendering="crispEdges"/>
<path d="M186 456.5h6M192 455.5h6M198 454.5h6M204 453.5h6M210 452.5h5M215 451.5h6M221 450.5h6M227 449.5h6M233 448.5h6M239 447.5h6M245 446.5h6M251 445.5h6M257 444.5h5M262 443.5h6M268 442.5h6M274 441.5h6M280 440.5h6M286 439.5h6M292 438.5h6M298 437.5h6M304 436.5h5M309 435.5h6M315 434.5h6M321 433.5h3" stroke="#000" stroke-width="1" fill="none" shape-rendering="crispEdges"/>
<path d="M36 340.5h1M37 339.5h4M41 338.5h4M45 337.5h4M49 336.5h4M53 335.5h4M57 334.5h4M61 333.5h4M65 332.5h4M69 331.5h4M73 330.5h4M77 329.5h5M82 328.5h4M86 327.5h4M90 326.5h4M94 325.5h4" stroke="#008a00" stroke-width="1" fill="none" shape-rendering="crispEdges"/>
<path d="M318 600.5h1M319 599.5h4M323 598.5h3M326 597.5h3M329 596.5h4M333 595.5h3M336 594.5h4M340 593.5h3M343 592.5h4M347 591.5h3M350 590.5h3M353 589.5h4M357 588.5h3M360 587.5h4M364 586.5h3M367 585.5h3M370 584.5h4M374 583.5h3M377 582.5h4M381 581.5h3M384 580.5h3M387 579.5h4M391 578.5h3M394 577.5h4M398 576.5h3M401 575.5h3M404 574.5h4M408 573.5h3M411 572.5h4M415 571.5h3M418 570.5h4M422 569.5h3M425 568.5h3M428 567.5h4M432 566.5h3M435 565.5h4M439 564.5h3M442 563.5h3M445 562.5h4M449 561.5h3M452 560.5h4M456 559.5h3M459 558.5h3M462 557.5h4M466 556.5h3M469 555.5h4M473 554.5h3M476 553.5h4M480 552.5h3M483 551.5h3M486 550.5h4M490 549.5h3M493 548.5h4M497 547.5h3M500 546.5h3M503 545.5h4M507 544.5h3M510 543.5h4M514 542.5h3M517 541.5h3M520 540.5h4M524 539.5h3M527 538.5h4M531 537.5h3M534 536.5h4M538 535.5h3M541 534.5h3M544 533.5h4M548 532.5h3M551 531.5h4M555 530.5h3M558 529.5h3M561 528.5h4M565 527.5h3M568 526.5h4M572 525.5h3M575 524.5h3M578 523.5h4M582 522.5h3M585 521.5h4M589 520.5h3M592 519.5h4M596 518.5h3M599 517.5h3M602 516.5h4M606 515.5h3M609 514.5h4M613 513.5h3M616 512.5h3M619 511.5h4M623 510.5h3M626 509.5h4M630 508.5h3M633 507.5h3M636 506.5h4M640 505.5h3M643 504.5h4M647 503.5h3M650 502.5h4M654 501.5h3M657 500.5h3M660 499.5h4M664 498.5h3M667 497.5h4M671 496.5h3M674 495.5h3M677 494.5h4M681 493.5h3M684 492.5h4M688 491.5h3M691 490.5h3M694 489.5h4M698 488.5h3M701 487.5h4M705 486.5h3M708 485.5h3M711 484.5h4M715 483.5h3M718 482.5h4M722 481.5h3M725 480.5h4M729 479.5h3M732 478.5h3M735 477.5h4M739 476.5h3M742 475.5h4M746 474.5h3M749 473.5h3M752 472.5h4M756 471.5h3M759 470.5h4M763 469.5h3M766 468.5h3M769 467.5h4M773 466.5h3M776 465.5h4M780 464.5h3M783 463.5h4M787 462.5h3M790 461.5h3M793 460.5h4M797 459.5h3M800 458.5h4M804 457.5h3M807 456.5h3M810 455.5h4M814 454.5h3M817 453.5h4M821 452.5h3M824 451.5h3M827 450.5h4M831 449.5h3M834 448.5h4M838 447.5h3M841 446.5h4M845 445.5h3M848 444.5h3M851 443.5h4M855 442.5h3M858 441.5h4M862 440.5h3M865 439.5h3M868 438.5h4M872 437.5h3M875 436.5h4M879 435.5h3M882 434.5h3M885 433.5h4M889 432.5h3M892 431.5h4M896 430.5h3M899 429.5h4M903 428.5h3M906 427.5h3M909 426.5h4M913 425.5h3M916 424.5h4M920 423.5h3M923 422.5h3M926 421.5h4M930 420.5h3M933 419.5h4M937 418.5h3M940 417.5h3M943 416.5h4M947 415.5h3M950 414.5h4M954 413.5h3M957 412.5h3M960 411.5h4M964 410.5h3M967 409.5h4M971 408.5h3M974 407.5h4M978 406.5h3M981 405.5h3M984 404.5h4M988 403.5h3M991 402.5h4M995 401.5h3M998 400.5h3M1001 399.5h4M1005 398.5h3M1008 397.5h4M1012 396.5h3M1015 395.5h3M1018 394.5h4M1022 393.5h3M1025 392.5h4M1029 391.5h3M1032 390.5h4M1036 389.5h3M1039 388.5h3M1042 387.5h4M1046 386.5h3M1049 385.5h4M1053 384.5h3M1056 383.5h3M1059 382.5h4M1063 381.5h3M1066 380.5h4M1070 379.5h3M1073 378.5h3M1076 377.5h4M1080 376.5h3M1083 375.5h4M1087 374.5h3M1090 373.5h4M1094 372.5h3M1097 371.5h3M1100 370.5h4M1104 369.5h3M1107 368.5h4M1111 367.5h3M1114 366.5h3M1117 365.5h4M1121 364.5h3M1124 363.5h4M1128 362.5h3M1131 361.5h3M1134 360.5h4M1138 359.5h3M1141 358.5h4M1145 357.5h3M1148 356.5h4M1152 355.5h3M1155 354.5h3M1158 353.5h4M1162 352.5h3M1165 351.5h4M1169 350.5h3M1172 349.5h3M1175 348.5h4M1179 347.5h3M1182 346.5h4M1186 345.5h3M1189 344.5h3M1192 343.5h4M1196 342.5h3M1199 341.5h4M1203 340.5h3M1206 339.5h3M1209 338.5h4M1213 337.5h3M1216 336.5h4M1220 335.5h3M1223 334.5h4M1227 333.5h3M1230 332.5h3M1233 331.5h4M1237 330.5h3M1240 329.5h4M1244 328.5h3M1247 327.5h3M1250 326.5h4M1254 325.5h3M1257 324.5h4M1261 323.5h3M1264 322.5h3M1267 321.5h4M1271 320.5h3M1274 319.5h4M1278 318.5h3M1281 317.5h4M1285 316.5h3M1288 315.5h3M1291 314.5h4M1295 313.5h3M1298 312.5h4M1302 311.5h3M1305 310.5h3M1308 309.5h4M1312 308.5h3M1315 307.5h4M1319 306.5h3M1322 305.5h3M1325 304.5h4M1329 303.5h3M1332 302.5h4M1336 301.5h3M1339 300.5h4M1343 299.5h3M1346 298.5h3M1349 297.5h4M1353 296.5h3M1356 295.5h4M1360 294.5h3M1363 293.5h3M1366 292.5h4M1370 291.5h3M1373 290.5h4M1377 289.5h3M1380 288.5h3M1383 287.5h4M1387 286.5h3M1390 285.5h4M1394 284.5h3M1397 283.5h4M1401 282.5h3M1404 281.5h3M1407 280.5h4M1411 279.5h3M1414 278.5h4M1418 277.5h3M1421 276.5h3M1424 275.5h4M1428 274.5h3M1431 273.5h4M1435 272.5h3M1438 271.5h3M1441 270.5h4M1445 269.5h3M1448 268.5h4M1452 267.5h3M1455 266.5h4M1459 265.5h3M1462 264.5h3M1465 263.5h4M1469 262.5h3M1472 261.5h4M1476 260.5h3M1479 259.5h3M1482 258.5h4M1486 257.5h3M1489 256.5h4M1493 255.5h3" stroke="#008a00" stroke-width="1" fill="none" shape-rendering="crispEdges"/>
<path d="M318 600.5h2M320 599.5h7M327 598.5h7M334 597.5h7M341 596.5h7M348 595.5h7M355 594.5h6M361 593.5h7M368 592.5h7M375 591.5h7M382 590.5h7M389 589.5h7M396 588.5h7M403 587.5h6M409 586.5h7M416 585.5h7M423 584.5h7M430 583.5h7M437 582.5h7M444 581.5h7M451 580.5h6M457 579.5h7M464 578.5h7M471 577.5h7M478 576.5h7M485 575.5h7M492 574.5h7M499 573.5h6M505 572.5h7M512 571.5h7M519 570.5h7M526 569.5h7M533 568.5h7M540 567.5h7M547 566.5h6M553 565.5h7M560 564.5h7M567 563.5h7M574 562.5h7M581 561.5h7M588 560.5h7M595 559.5h7M602 558.5h6M608 557.5h7M615 556.5h7M622 555.5h7M629 554.5h7M636 553.5h7M643 552.5h7M650 551.5h6M656 550.5h7M663 549.5h7M670 548.5h7M677 547.5h7M684 546.5h7M691 545.5h7M698 544.5h6M704 543.5h7M711 542.5h7M718 541.5h7M725 540.5h7M732 539.5h7M739 538.5h7M746 537.5h6M752 536.5h7M759 535.5h7M766 534.5h7M773 533.5h7M780 532.5h7M787 531.5h7M794 530.5h6M800 529.5h7M807 528.5h7M814 527.5h7M821 526.5h7M828 525.5h7M835 524.5h7M842 523.5h6M848 522.5h7M855 521.5h7M862 520.5h7M869 519.5h7M876 518.5h7M883 517.5h7M890 516.5h6M896 515.5h7M903 514.5h7M910 513.5h7M917 512.5h7M924 511.5h7M931 510.5h7M938 509.5h6M944 508.5h7M951 507.5h7M958 506.5h7M965 505.5h7M972 504.5h7M979 503.5h7M986 502.5h7M993 501.5h6M999 500.5h7M1006 499.5h7M1013 498.5h7M1020 497.5h7M1027 496.5h7M1034 495.5h7M1041 494.5h6M1047 493.5h7M1054 492.5h7M1061 491.5h7M1068 490.5h7M1075 489.5h7M1082 488.5h7M1089 487.5h6M1095 486.5h7M1102 485.5h7M1109 484.5h7M1116 483.5h7M1123 482.5h7M1130 481.5h7M1137 480.5h6M1143 479.5h7M1150 478.5h7M1157 477.5h7M1164 476.5h7M1171 475.5h7M1178 474.5h7M1185 473.5h6M1191 472.5h7M1198 471.5h7M1205 470.5h7M1212 469.5h7M1219 468.5h7M1226 467.5h7M1233 466.5h6M1239 465.5h7M1246 464.5h7M1253 463.5h7M1260 462.5h7M1267 461.5h7M1274 460.5h7M1281 459.5h6M1287 458.5h7M1294 457.5h7M1301 456.5h7M1308 455.5h7M1315 454.5h7M1322 453.5h7M1329 452.5h6M1335 451.5h7M1342 450.5h7M1349 449.5h7M1356 448.5h7M1363 447.5h7M1370 446.5h7M1377 445.5h6M1383 444.5h7M1390 443.5h7M1397 442.5h7M1404 441.5h7M1411 440.5h7M1418 439.5h7M1425 438.5h7M1432 437.5h6M1438 436.5h7M1445 435.5h7M1452 434.5h7M1459 433.5h7M1466 432.5h7M1473 431.5h7M1480 430.5h6M1486 429.5h7M1493 428.5h7M1500 427.5h7M1507 426.5h7M1514 425.5h7M1521 424.5h7M1528 423.5h6M1534 422.5h7M1541 421.5h7M1548 420.5h7M1555 419.5h7M1562 418.5h7M1569 417.5h7M1576 416.5h6M1582 415.5h7M1589 414.5h7M1596 413.5h7M1603 412.5h7M1610 411.5h7M1617 410.5h7M1624 409.5h6M1630 408.5h7M1637 407.5h7M1644 406.5h7M1651 405.5h7M1658 404.5h7M1665 403.5h7M1672 402.5h6M1678 401.5h7M1685 400.5h7M1692 399.5h7M1699 398.5h7M1706 397.5h7M1713 396.5h7M1720 395.5h6M1726 394.5h7M1733 393.5h7M1740 392.5h6" stroke="#34a864" stroke-width="1" fill="none" shape-rendering="crispEdges"/>
<path d="M456 563.5h1M457 562.5h1M458 561.5h1M459 560.5h1M460 559.5h1M461 558.5h1M462 557.5h1M463 556.5h1M464 555.5h1M465 554.5h1M466 553.5h1M467 552.5h2M469 551.5h1M470 550.5h1M471 549.5h1M472 548.5h1M473 547.5h1M474 546.5h1M475 545.5h1M476 544.5h1M477 543.5h1M478 542.5h1M479 541.5h1M480 540.5h1M481 539.5h2M483 538.5h1M484 537.5h1M485 536.5h1M486 535.5h1M487 534.5h1M488 533.5h1M489 532.5h1M490 531.5h1M491 530.5h1M492 529.5h1M493 528.5h1M494 527.5h1M495 526.5h1M496 525.5h2M498 524.5h1M499 523.5h1M500 522.5h1M501 521.5h1M502 520.5h1M503 519.5h1M504 518.5h1M505 517.5h1M506 516.5h1M507 515.5h1M508 514.5h1M509 513.5h1M510 512.5h2M512 511.5h1M513 510.5h1M514 509.5h1M515 508.5h1M516 507.5h1M517 506.5h1M518 505.5h1M519 504.5h1M520 503.5h1M521 502.5h1M522 501.5h1M523 500.5h1M524 499.5h1M525 498.5h2M527 497.5h1M528 496.5h1M529 495.5h1M530 494.5h1M531 493.5h1M532 492.5h1M533 491.5h1M534 490.5h1M535 489.5h1M536 488.5h1M537 487.5h1M538 486.5h1M539 485.5h2M541 484.5h1M542 483.5h1M543 482.5h1M544 481.5h1M545 480.5h1M546 479.5h1M547 478.5h1M548 477.5h1M549 476.5h1M550 475.5h1M551 474.5h1M552 473.5h1M553 472.5h1M554 471.5h2M556 470.5h1M557 469.5h1M558 468.5h1M559 467.5h1M560 466.5h1M561 465.5h1M562 464.5h1M563 463.5h1M564 462.5h1M565 461.5h1M566 460.5h1M567 459.5h1M568 458.5h1M569 457.5h2M571 456.5h1M572 455.5h1M573 454.5h1M574 453.5h1M575 452.5h1M576 451.5h1M577 450.5h1M578 449.5h1M579 448.5h1M580 447.5h1M581 446.5h1M582 445.5h1M583 444.5h2M585 443.5h1M586 442.5h1M587 441.5h1M588 440.5h1M589 439.5h1M590 438.5h1M591 437.5h1M592 436.5h1M593 435.5h1M594 434.5h1M595 433.5h1M596 432.5h1M597 431.5h1M598 430.5h2M600 429.5h1M601 428.5h1M602 427.5h1M603 426.5h1M604 425.5h1M605 424.5h1M606 423.5h1M607 422.5h1M608 421.5h1M609 420.5h1M610 419.5h1M611 418.5h1M612 417.5h2M614 416.5h1M615 415.5h1M616 414.5h1M617 413.5h1M618 412.5h1M619 411.5h1M620 410.5h1M621 409.5h1M622 408.5h1M623 407.5h1M624 406.5h1M625 405.5h1M626 404.5h1M627 403.5h2M629 402.5h1M630 401.5h1M631 400.5h1M632 399.5h1M633 398.5h1M634 397.5h1M635 396.5h1M636 395.5h1M637 394.5h1M638 393.5h1M639 392.5h1M640 391.5h1M641 390.5h2M643 389.5h1M644 388.5h1M645 387.5h1M646 386.5h1M647 385.5h1M648 384.5h1M649 383.5h1M650 382.5h1M651 381.5h1M652 380.5h1M653 379.5h1M654 378.5h1M655 377.5h1M656 376.5h2M658 375.5h1M659 374.5h1M660 373.5h1M661 372.5h1M662 371.5h1M663 370.5h1M664 369.5h1M665 368.5h1M666 367.5h1M667 366.5h1M668 365.5h1M669 364.5h1M670 363.5h2M672 362.5h1M673 361.5h1M674 360.5h1M675 359.5h1M676 358.5h1M677 357.5h1M678 356.5h1M679 355.5h1M680 354.5h1M681 353.5h1M682 352.5h1M683 351.5h1M684 350.5h1M685 349.5h2M687 348.5h1M688 347.5h1M689 346.5h1M690 345.5h1M691 344.5h1M692 343.5h1M693 342.5h1M694 341.5h1M695 340.5h1M696 339.5h1M697 338.5h1M698 337.5h1M699 336.5h1M700 335.5h2M702 334.5h1M703 333.5h1M704 332.5h1M705 331.5h1M706 330.5h1M707 329.5h1M708 328.5h1M709 327.5h1M710 326.5h1M711 325.5h1M712 324.5h1M713 323.5h1M714 322.5h2M716 321.5h1M717 320.5h1M718 319.5h1M719 318.5h1M720 317.5h1M721 316.5h1M722 315.5h1M723 314.5h1M724 313.5h1M725 312.5h1M726 311.5h1M727 310.5h1M728 309.5h1M729 308.5h2M731 307.5h1M732 306.5h1M733 305.5h1M734 304.5h1M735 303.5h1M736 302.5h1M737 301.5h1M738 300.5h1M739 299.5h1M740 298.5h1M741 297.5h1M742 296.5h1M743 295.5h2M745 294.5h1M746 293.5h1M747 292.5h1M748 291.5h1M749 290.5h1M750 289.5h1M751 288.5h1M752 287.5h1M753 286.5h1M754 285.5h1M755 284.5h1M756 283.5h1M757 282.5h1M758 281.5h2M760 280.5h1M761 279.5h1M762 278.5h1M763 277.5h1M764 276.5h1M765 275.5h1M766 274.5h1M767 273.5h1M768 272.5h1M769 271.5h1M770 270.5h1M771 269.5h1M772 268.5h2M774 267.5h1M775 266.5h1M776 265.5h1M777 264.5h1M778 263.5h1M779 262.5h1M780 261.5h1M781 260.5h1M782 259.5h1M783 258.5h1M784 257.5h1M785 256.5h1M786 255.5h1M787 254.5h2M789 253.5h1M790 252.5h1M791 251.5h1M792 250.5h1M793 249.5h1M794 248.5h1M795 247.5h1M796 246.5h1M797 245.5h1M798 244.5h1M799 243.5h1M800 242.5h1M801 241.5h2M803 240.5h1M804 239.5h1M805 238.5h1M806 237.5h1M807 236.5h1M808 235.5h1M809 234.5h1M810 233.5h1M811 232.5h1M812 231.5h1M813 230.5h1M814 229.5h1M815 228.5h1M816 227.5h2M818 226.5h1M819 225.5h1M820 224.5h1M821 223.5h1M822 222.5h1M823 221.5h1M824 220.5h1M825 219.5h1M826 218.5h1M827 217.5h1M828 216.5h1M829 215.5h1M830 214.5h1M831 213.5h2M833 212.5h1M834 211.5h1M835 210.5h1M836 209.5h1M837 208.5h1M838 207.5h1M839 206.5h1M840 205.5h1M841 204.5h1M842 203.5h1M843 202.5h1M844 201.5h1M845 200.5h2M847 199.5h1M848 198.5h1M849 197.5h1M850 196.5h1M851 195.5h1M852 194.5h1M853 193.5h1M854 192.5h1M855 191.5h1M856 190.5h1M857 189.5h1M858 188.5h1M859 187.5h1M860 186.5h2M862 185.5h1M863 184.5h1M864 183.5h1M865 182.5h1M866 181.5h1M867 180.5h1M868 179.5h1M869 178.5h1M870 177.5h1M871 176.5h1M872 175.5h1M873 174.5h1M874 173.5h2M876 172.5h1M877 171.5h1M878 170.5h1M879 169.5h1M880 168.5h1M881 167.5h1M882 166.5h1M883 165.5h1M884 164.5h1M885 163.5h1M886 162.5h1M887 161.5h1M888 160.5h1M889 159.5h2M891 158.5h1M892 157.5h1M893 156.5h1M894 155.5h1M895 154.5h1M896 153.5h1M897 152.5h1M898 151.5h1M899 150.5h1M900 149.5h1M901 148.5h1M902 147.5h1M903 146.5h2M905 145.5h1M906 144.5h1M907 143.5h1M908 142.5h1M909 141.5h1M910 140.5h1M911 139.5h1M912 138.5h1M913 137.5h1M914 136.5h1M915 135.5h1M916 134.5h1M917 133.5h1M918 132.5h2M920 131.5h1M921 130.5h1M922 129.5h1M923 128.5h1M924 127.5h1M925 126.5h1M926 125.5h1M927 124.5h1M928 123.5h1M929 122.5h1M930 121.5h1M931 120.5h1M932 119.5h2M934 118.5h1M935 117.5h1M936 116.5h1M937 115.5h1M938 114.5h1M939 113.5h1M940 112.5h1M941 111.5h1M942 110.5h1M943 109.5h1M944 108.5h1M945 107.5h1M946 106.5h1M947 105.5h2M949 104.5h1M950 103.5h1M951 102.5h1M952 101.5h1M953 100.5h1M954 99.5h1M955 98.5h1M956 97.5h1M957 96.5h1M958 95.5h1M959 94.5h1" stroke="#0000a0" stroke-width="1" fill="none" shape-rendering="crispEdges"/>
<path d="M906.5 57v1M905.5 58v1M904.5 59v2M903.5 61v1M902.5 62v1M901.5 63v2M900.5 65v1M899.5 66v1M898.5 67v2M897.5 69v1M896.5 70v1M895.5 71v2M894.5 73v1M893.5 74v1M892.5 75v2M891.5 77v1M890.5 78v2M889.5 80v1M888.5 81v1M887.5 82v2M886.5 84v1M885.5 85v1M884.5 86v2M883.5 88v1M882.5 89v1M881.5 90v2M880.5 92v1M879.5 93v1M878.5 94v2M877.5 96v1M876.5 97v1M875.5 98v2M874.5 100v1M873.5 101v2M872.5 103v1M871.5 104v1M870.5 105v2M869.5 107v1M868.5 108v1M867.5 109v2M866.5 111v1M865.5 112v1M864.5 113v2M863.5 115v1M862.5 116v1M861.5 117v2M860.5 119v1M859.5 120v1M858.5 121v2M857.5 123v1M856.5 124v2M855.5 126v1M854.5 127v1M853.5 128v2M852.5 130v1M851.5 131v1M850.5 132v2M849.5 134v1M848.5 135v1M847.5 136v2M846.5 138v1M845.5 139v1M844.5 140v2M843.5 142v1M842.5 143v1M841.5 144v2M840.5 146v1M839.5 147v2M838.5 149v1M837.5 150v1M836.5 151v2M835.5 153v1M834.5 154v1M833.5 155v2M832.5 157v1M831.5 158v1M830.5 159v2M829.5 161v1M828.5 162v1M827.5 163v2M826.5 165v1M825.5 166v1M824.5 167v2M823.5 169v1M822.5 170v2M821.5 172v1M820.5 173v1M819.5 174v2M818.5 176v1M817.5 177v1M816.5 178v2M815.5 180v1M814.5 181v1M813.5 182v2M812.5 184v1M811.5 185v1M810.5 186v2M809.5 188v1M808.5 189v1M807.5 190v1" stroke="#000" stroke-width="1" fill="none" shape-rendering="crispEdges"/>
<path d="M961 49.5h3M964 50.5h3M967 51.5h4M971 52.5h4M975 53.5h3M978 54.5h4M982 55.5h4M986 56.5h3M989 57.5h4M993 58.5h4M997 59.5h3M1000 60.5h4M1004 61.5h4M1008 62.5h3M1011 63.5h4M1015 64.5h4M1019 65.5h3M1022 66.5h4M1026 67.5h4M1030 68.5h3M1033 69.5h4M1037 70.5h4M1041 71.5h3M1044 72.5h4M1048 73.5h4M1052 74.5h4M1056 75.5h3M1059 76.5h4M1063 77.5h4M1067 78.5h3M1070 79.5h4M1074 80.5h4M1078 81.5h3M1081 82.5h4M1085 83.5h4M1089 84.5h3M1092 85.5h4M1096 86.5h4M1100 87.5h3M1103 88.5h4M1107 89.5h4M1111 90.5h3M1114 91.5h4M1118 92.5h4M1122 93.5h3M1125 94.5h4M1129 95.5h4M1133 96.5h3M1136 97.5h4M1140 98.5h4M1144 99.5h3M1147 100.5h4M1151 101.5h4M1155 102.5h3M1158 103.5h4M1162 104.5h4M1166 105.5h4M1170 106.5h3M1173 107.5h4M1177 108.5h4M1181 109.5h3M1184 110.5h4M1188 111.5h4M1192 112.5h3M1195 113.5h4M1199 114.5h4M1203 115.5h3M1206 116.5h4M1210 117.5h4M1214 118.5h3M1217 119.5h4M1221 120.5h4M1225 121.5h3M1228 122.5h4M1232 123.5h4M1236 124.5h3M1239 125.5h4M1243 126.5h4M1247 127.5h3M1250 128.5h4M1254 129.5h4M1258 130.5h3M1261 131.5h4M1265 132.5h4M1269 133.5h4M1273 134.5h3M1276 135.5h4M1280 136.5h4M1284 137.5h3M1287 138.5h4M1291 139.5h4M1295 140.5h3M1298 141.5h4M1302 142.5h4M1306 143.5h3M1309 144.5h4M1313 145.5h4M1317 146.5h3M1320 147.5h4M1324 148.5h4M1328 149.5h3M1331 150.5h4M1335 151.5h4M1339 152.5h3M1342 153.5h4M1346 154.5h4M1350 155.5h3M1353 156.5h4M1357 157.5h4M1361 158.5h3M1364 159.5h4M1368 160.5h4M1372 161.5h3M1375 162.5h4M1379 163.5h4M1383 164.5h4M1387 165.5h3M1390 166.5h4M1394 167.5h4M1398 168.5h3M1401 169.5h4M1405 170.5h4M1409 171.5h3M1412 172.5h4M1416 173.5h4M1420 174.5h3M1423 175.5h4M1427 176.5h4M1431 177.5h3M1434 178.5h4M1438 179.5h4M1442 180.5h3M1445 181.5h4M1449 182.5h4M1453 183.5h3M1456 184.5h4M1460 185.5h4M1464 186.5h3M1467 187.5h4M1471 188.5h4M1475 189.5h3M1478 190.5h4M1482 191.5h4M1486 192.5h3M1489 193.5h4M1493 194.5h4M1497 195.5h4M1501 196.5h3M1504 197.5h4M1508 198.5h4M1512 199.5h3M1515 200.5h4M1519 201.5h4M1523 202.5h3M1526 203.5h4M1530 204.5h4M1534 205.5h3M1537 206.5h4M1541 207.5h4M1545 208.5h3M1548 209.5h4M1552 210.5h4M1556 211.5h3M1559 212.5h4M1563 213.5h4M1567 214.5h3M1570 215.5h4M1574 216.5h4M1578 217.5h3M1581 218.5h4M1585 219.5h4M1589 220.5h3M1592 221.5h4M1596 222.5h4M1600 223.5h3M1603 224.5h4M1607 225.5h4M1611 226.5h4M1615 227.5h3M1618 228.5h4M1622 229.5h4M1626 230.5h3M1629 231.5h4M1633 232.5h4M1637 233.5h3M1640 234.5h4M1644 235.5h4M1648 236.5h3M1651 237.5h4M1655 238.5h4M1659 239.5h3M1662 240.5h4M1666 241.5h4M1670 242.5h1" stroke="#ff0000" stroke-width="1" fill="none" shape-rendering="crispEdges"/>
<path d="M1308 451.5h1M1309 450.5h2M1311 449.5h2M1313 448.5h1M1314 447.5h2M1316 446.5h1M1317 445.5h2M1319 444.5h2M1321 443.5h1M1322 442.5h2M1324 441.5h1M1325 440.5h2M1327 439.5h2M1329 438.5h1M1330 437.5h2M1332 436.5h1M1333 435.5h2M1335 434.5h2M1337 433.5h1M1338 432.5h2M1340 431.5h1M1341 430.5h2M1343 429.5h2M1345 428.5h1M1346 427.5h2M1348 426.5h1M1349 425.5h2M1351 424.5h2M1353 423.5h1M1354 422.5h2M1356 421.5h1M1357 420.5h2M1359 419.5h1M1360 418.5h2M1362 417.5h2M1364 416.5h1M1365 415.5h2M1367 414.5h1M1368 413.5h2M1370 412.5h2M1372 411.5h1M1373 410.5h2M1375 409.5h1M1376 408.5h2M1378 407.5h2M1380 406.5h1M1381 405.5h2M1383 404.5h1M1384 403.5h2M1386 402.5h2M1388 401.5h1M1389 400.5h2M1391 399.5h1M1392 398.5h2M1394 397.5h2M1396 396.5h1M1397 395.5h2M1399 394.5h1M1400 393.5h2M1402 392.5h2M1404 391.5h1M1405 390.5h2M1407 389.5h1M1408 388.5h2M1410 387.5h2M1412 386.5h1M1413 385.5h2M1415 384.5h1M1416 383.5h2M1418 382.5h2M1420 381.5h1M1421 380.5h2M1423 379.5h1M1424 378.5h2M1426 377.5h1M1427 376.5h2M1429 375.5h2M1431 374.5h1M1432 373.5h2M1434 372.5h1M1435 371.5h2M1437 370.5h2M1439 369.5h1M1440 368.5h2M1442 367.5h1M1443 366.5h2M1445 365.5h2M1447 364.5h1M1448 363.5h2M1450 362.5h1M1451 361.5h2M1453 360.5h2M1455 359.5h1M1456 358.5h2M1458 357.5h1M1459 356.5h2M1461 355.5h2M1463 354.5h1M1464 353.5h2M1466 352.5h1M1467 351.5h2M1469 350.5h2M1471 349.5h1M1472 348.5h2M1474 347.5h1M1475 346.5h2M1477 345.5h2M1479 344.5h1M1480 343.5h2M1482 342.5h1M1483 341.5h2M1485 340.5h2M1487 339.5h1M1488 338.5h2M1490 337.5h1M1491 336.5h2M1493 335.5h1M1494 334.5h2M1496 333.5h2M1498 332.5h1M1499 331.5h2M1501 330.5h1M1502 329.5h2M1504 328.5h2M1506 327.5h1M1507 326.5h2M1509 325.5h1M1510 324.5h2M1512 323.5h2M1514 322.5h1M1515 321.5h2M1517 320.5h1M1518 319.5h2M1520 318.5h2M1522 317.5h1M1523 316.5h2M1525 315.5h1M1526 314.5h2M1528 313.5h2M1530 312.5h1M1531 311.5h2M1533 310.5h1M1534 309.5h2M1536 308.5h2M1538 307.5h1M1539 306.5h2M1541 305.5h1M1542 304.5h2M1544 303.5h2M1546 302.5h1M1547 301.5h2M1549 300.5h1M1550 299.5h2M1552 298.5h1M1553 297.5h2M1555 296.5h2M1557 295.5h1M1558 294.5h2M1560 293.5h1M1561 292.5h2M1563 291.5h2M1565 290.5h1M1566 289.5h2M1568 288.5h1M1569 287.5h2M1571 286.5h2" stroke="#000" stroke-width="1" fill="none" shape-rendering="crispEdges"/>
<path d="M1725 415.5h1M1726 414.5h1M1727 413.5h1M1728 412.5h1M1729 411.5h1M1730 410.5h1M1731 409.5h1M1732 408.5h1M1733 407.5h2M1735 406.5h1M1736 405.5h1M1737 404.5h1M1738 403.5h1M1739 402.5h1M1740 401.5h1M1741 400.5h1M1742 399.5h1M1743 398.5h1M1744 397.5h1M1745 396.5h1M1746 395.5h1M1747 394.5h1M1748 393.5h1M1749 392.5h1M1750 391.5h1M1751 390.5h1M1752 389.5h1M1753 388.5h1M1754 387.5h1M1755 386.5h1M1756 385.5h1M1757 384.5h1M1758 383.5h1M1759 382.5h1M1760 381.5h1M1761 380.5h2M1763 379.5h1M1764 378.5h1M1765 377.5h1M1766 376.5h1M1767 375.5h1M1768 374.5h1M1769 373.5h1M1770 372.5h1M1771 371.5h1M1772 370.5h1M1773 369.5h1M1774 368.5h1M1775 367.5h1M1776 366.5h1M1777 365.5h1M1778 364.5h1M1779 363.5h1M1780 362.5h1M1781 361.5h1M1782 360.5h1M1783 359.5h1M1784 358.5h1M1785 357.5h1M1786 356.5h1M1787 355.5h1M1788 354.5h1M1789 353.5h2M1791 352.5h1M1792 351.5h1M1793 350.5h1M1794 349.5h1M1795 348.5h1M1796 347.5h1M1797 346.5h1M1798 345.5h1M1799 344.5h1M1800 343.5h1M1801 342.5h1M1802 341.5h1M1803 340.5h1" stroke="#000" stroke-width="1" fill="none" shape-rendering="crispEdges"/>
<g shape-rendering="crispEdges">
<rect x="38" y="285" width="1" height="20" fill="#000"/>
<rect x="37.5" y="297.5" width="3" height="5" fill="#fff" stroke="#000" stroke-width="1"/>
<rect x="43" y="279" width="1" height="27" fill="#000"/>
<rect x="42" y="293" width="4" height="3" fill="#000"/>
<rect x="48" y="293" width="1" height="11" fill="#000"/>
<rect x="47" y="297" width="4" height="6" fill="#000"/>
<rect x="53" y="294" width="1" height="7" fill="#000"/>
<rect x="51" y="299" width="5" height="1" fill="#000"/>
<rect x="58" y="305" width="1" height="23" fill="#000"/>
<rect x="57" y="312" width="3" height="12" fill="#000"/>
<rect x="62" y="310" width="1" height="16" fill="#000"/>
<rect x="61.5" y="311.5" width="3" height="13" fill="#fff" stroke="#000" stroke-width="1"/>
<rect x="67" y="315" width="1" height="21" fill="#000"/>
<rect x="66" y="322" width="4" height="13" fill="#000"/>
<rect x="72" y="327" width="1" height="13" fill="#000"/>
<rect x="70" y="337" width="5" height="1" fill="#000"/>
<rect x="77" y="328" width="1" height="23" fill="#000"/>
<rect x="76.5" y="341.5" width="3" height="6" fill="#fff" stroke="#000" stroke-width="1"/>
<rect x="82" y="321" width="1" height="21" fill="#000"/>
<rect x="81.5" y="322.5" width="3" height="18" fill="#fff" stroke="#000" stroke-width="1"/>
<rect x="87" y="313" width="1" height="14" fill="#000"/>
<rect x="86" y="315" width="4" height="11" fill="#000"/>
<rect x="92" y="312" width="1" height="29" fill="#000"/>
<rect x="91" y="327" width="4" height="14" fill="#000"/>
<rect x="97" y="346" width="1" height="24" fill="#000"/>
<rect x="96" y="356" width="4" height="14" fill="#000"/>
<rect x="102" y="366" width="1" height="19" fill="#000"/>
<rect x="101" y="372" width="4" height="3" fill="#000"/>
<rect x="107" y="356" width="1" height="33" fill="#000"/>
<rect x="106" y="367" width="3" height="19" fill="#000"/>
<rect x="112" y="391" width="1" height="16" fill="#000"/>
<rect x="111.5" y="393.5" width="2" height="2" fill="#fff" stroke="#000" stroke-width="1"/>
<rect x="116" y="388" width="1" height="14" fill="#000"/>
<rect x="115" y="389" width="4" height="11" fill="#000"/>
<rect x="121" y="391" width="1" height="11" fill="#000"/>
<rect x="120.5" y="396.5" width="3" height="3" fill="#fff" stroke="#000" stroke-width="1"/>
<rect x="126" y="378" width="1" height="17" fill="#000"/>
<rect x="125" y="384" width="4" height="5" fill="#000"/>
<rect x="131" y="377" width="1" height="18" fill="#000"/>
<rect x="130.5" y="379.5" width="3" height="13" fill="#fff" stroke="#000" stroke-width="1"/>
<rect x="136" y="377" width="1" height="16" fill="#000"/>
<rect x="135" y="382" width="4" height="4" fill="#000"/>
<rect x="141" y="376" width="1" height="23" fill="#000"/>
<rect x="140" y="376" width="4" height="20" fill="#000"/>
<rect x="146" y="393" width="1" height="24" fill="#000"/>
<rect x="145" y="393" width="4" height="24" fill="#000"/>
<rect x="151" y="412" width="1" height="26" fill="#000"/>
<rect x="150" y="416" width="4" height="15" fill="#000"/>
<rect x="156" y="419" width="1" height="17" fill="#000"/>
<rect x="155.5" y="426.5" width="2" height="3" fill="#fff" stroke="#000" stroke-width="1"/>
<rect x="161" y="399" width="1" height="15" fill="#000"/>
<rect x="159" y="409" width="5" height="1" fill="#000"/>
<rect x="165" y="409" width="1" height="20" fill="#000"/>
<rect x="164" y="415" width="4" height="14" fill="#000"/>
<rect x="170" y="410" width="1" height="20" fill="#000"/>
<rect x="169.5" y="417.5" width="3" height="8" fill="#fff" stroke="#000" stroke-width="1"/>
<rect x="175" y="415" width="1" height="22" fill="#000"/>
<rect x="174" y="421" width="4" height="10" fill="#000"/>
<rect x="180" y="414" width="1" height="19" fill="#000"/>
<rect x="179.5" y="418.5" width="3" height="13" fill="#fff" stroke="#000" stroke-width="1"/>
<rect x="185" y="410" width="1" height="16" fill="#000"/>
<rect x="184" y="411" width="4" height="14" fill="#000"/>
<rect x="190" y="420" width="1" height="29" fill="#000"/>
<rect x="189" y="426" width="4" height="23" fill="#000"/>
<rect x="195" y="439" width="1" height="18" fill="#000"/>
<rect x="194" y="447" width="4" height="9" fill="#000"/>
<rect x="200" y="423" width="1" height="29" fill="#000"/>
<rect x="199.5" y="430.5" width="3" height="19" fill="#fff" stroke="#000" stroke-width="1"/>
<rect x="205" y="415" width="1" height="24" fill="#000"/>
<rect x="204" y="423" width="3" height="14" fill="#000"/>
<rect x="210" y="424" width="1" height="9" fill="#000"/>
<rect x="209.5" y="426.5" width="2" height="2" fill="#fff" stroke="#000" stroke-width="1"/>
<rect x="215" y="418" width="1" height="11" fill="#000"/>
<rect x="213" y="425" width="5" height="1" fill="#000"/>
<rect x="219" y="412" width="1" height="14" fill="#000"/>
<rect x="218.5" y="420.5" width="3" height="5" fill="#fff" stroke="#000" stroke-width="1"/>
<rect x="224" y="413" width="1" height="21" fill="#000"/>
<rect x="223" y="418" width="4" height="15" fill="#000"/>
<rect x="229" y="435" width="1" height="11" fill="#000"/>
<rect x="228" y="440" width="4" height="6" fill="#000"/>
<rect x="234" y="439" width="1" height="9" fill="#000"/>
<rect x="232" y="443" width="5" height="1" fill="#000"/>
<rect x="239" y="433" width="1" height="14" fill="#000"/>
<rect x="238.5" y="434.5" width="3" height="11" fill="#fff" stroke="#000" stroke-width="1"/>
<rect x="244" y="435" width="1" height="10" fill="#000"/>
<rect x="243.5" y="436.5" width="3" height="1" fill="#fff" stroke="#000" stroke-width="1"/>
<rect x="249" y="416" width="1" height="17" fill="#000"/>
<rect x="248" y="426" width="4" height="3" fill="#000"/>
<rect x="254" y="414" width="1" height="20" fill="#000"/>
<rect x="253.5" y="414.5" width="3" height="18" fill="#fff" stroke="#000" stroke-width="1"/>
<rect x="259" y="412" width="1" height="19" fill="#000"/>
<rect x="257" y="415" width="5" height="1" fill="#000"/>
<rect x="264" y="410" width="1" height="13" fill="#000"/>
<rect x="263" y="417" width="3" height="3" fill="#000"/>
<rect x="268" y="402" width="1" height="17" fill="#000"/>
<rect x="267.5" y="403.5" width="3" height="14" fill="#fff" stroke="#000" stroke-width="1"/>
<rect x="273" y="396" width="1" height="27" fill="#000"/>
<rect x="272" y="403" width="4" height="16" fill="#000"/>
<rect x="278" y="407" width="1" height="12" fill="#000"/>
<rect x="276" y="415" width="5" height="1" fill="#000"/>
<rect x="283" y="408" width="1" height="20" fill="#000"/>
<rect x="282" y="415" width="4" height="13" fill="#000"/>
<rect x="288" y="416" width="1" height="18" fill="#000"/>
<rect x="287.5" y="425.5" width="3" height="6" fill="#fff" stroke="#000" stroke-width="1"/>
<rect x="293" y="421" width="1" height="25" fill="#000"/>
<rect x="292.5" y="424.5" width="3" height="14" fill="#fff" stroke="#000" stroke-width="1"/>
<rect x="298" y="405" width="1" height="45" fill="#000"/>
<rect x="297.5" y="413.5" width="3" height="9" fill="#fff" stroke="#000" stroke-width="1"/>
<rect x="303" y="399" width="1" height="20" fill="#000"/>
<rect x="302" y="408" width="4" height="11" fill="#000"/>
<rect x="308" y="408" width="1" height="9" fill="#000"/>
<rect x="306" y="415" width="5" height="1" fill="#000"/>
<rect x="313" y="392" width="1" height="24" fill="#000"/>
<rect x="312" y="404" width="3" height="5" fill="#000"/>
<rect x="317" y="408" width="1" height="100" fill="#000"/>
<rect x="316" y="423" width="4" height="79" fill="#000"/>
<rect x="322" y="482" width="1" height="53" fill="#000"/>
<rect x="321" y="522" width="4" height="11" fill="#000"/>
<rect x="327" y="550" width="1" height="49" fill="#000"/>
<rect x="326.5" y="550.5" width="3" height="34" fill="#fff" stroke="#000" stroke-width="1"/>
<rect x="332" y="534" width="1" height="28" fill="#000"/>
<rect x="331" y="538" width="4" height="14" fill="#000"/>
<rect x="337" y="535" width="1" height="15" fill="#000"/>
<rect x="336.5" y="541.5" width="3" height="2" fill="#fff" stroke="#000" stroke-width="1"/>
<rect x="342" y="540" width="1" height="16" fill="#000"/>
<rect x="341" y="546" width="4" height="5" fill="#000"/>
<rect x="347" y="541" width="1" height="18" fill="#000"/>
<rect x="345" y="548" width="5" height="1" fill="#000"/>
<rect x="352" y="539" width="1" height="13" fill="#000"/>
<rect x="351.5" y="541.5" width="3" height="7" fill="#fff" stroke="#000" stroke-width="1"/>
<rect x="357" y="538" width="1" height="16" fill="#000"/>
<rect x="356" y="539" width="4" height="8" fill="#000"/>
<rect x="362" y="540" width="1" height="15" fill="#000"/>
<rect x="361" y="544" width="3" height="8" fill="#000"/>
<rect x="367" y="531" width="1" height="14" fill="#000"/>
<rect x="366" y="532" width="3" height="12" fill="#000"/>
<rect x="371" y="535" width="1" height="16" fill="#000"/>
<rect x="370.5" y="539.5" width="3" height="10" fill="#fff" stroke="#000" stroke-width="1"/>
<rect x="376" y="544" width="1" height="21" fill="#000"/>
<rect x="375" y="545" width="4" height="20" fill="#000"/>
<rect x="381" y="555" width="1" height="19" fill="#000"/>
<rect x="380.5" y="557.5" width="3" height="11" fill="#fff" stroke="#000" stroke-width="1"/>
<rect x="386" y="556" width="1" height="15" fill="#000"/>
<rect x="385.5" y="556.5" width="3" height="4" fill="#fff" stroke="#000" stroke-width="1"/>
<rect x="391" y="550" width="1" height="10" fill="#000"/>
<rect x="390.5" y="552.5" width="3" height="3" fill="#fff" stroke="#000" stroke-width="1"/>
<rect x="396" y="528" width="1" height="22" fill="#000"/>
<rect x="395.5" y="539.5" width="3" height="8" fill="#fff" stroke="#000" stroke-width="1"/>
<rect x="401" y="536" width="1" height="17" fill="#000"/>
<rect x="400" y="539" width="4" height="13" fill="#000"/>
<rect x="406" y="556" width="1" height="14" fill="#000"/>
<rect x="405" y="560" width="4" height="6" fill="#000"/>
<rect x="411" y="516" width="1" height="43" fill="#000"/>
<rect x="410.5" y="516.5" width="2" height="41" fill="#fff" stroke="#000" stroke-width="1"/>
<rect x="416" y="500" width="1" height="22" fill="#000"/>
<rect x="415" y="505" width="3" height="11" fill="#000"/>
<rect x="420" y="500" width="1" height="19" fill="#000"/>
<rect x="419.5" y="502.5" width="3" height="6" fill="#fff" stroke="#000" stroke-width="1"/>
<rect x="425" y="493" width="1" height="26" fill="#000"/>
<rect x="424" y="500" width="4" height="11" fill="#000"/>
<rect x="430" y="497" width="1" height="24" fill="#000"/>
<rect x="429.5" y="509.5" width="3" height="9" fill="#fff" stroke="#000" stroke-width="1"/>
<rect x="435" y="518" width="1" height="16" fill="#000"/>
<rect x="433" y="522" width="5" height="1" fill="#000"/>
<rect x="440" y="525" width="1" height="15" fill="#000"/>
<rect x="439" y="529" width="4" height="8" fill="#000"/>
<rect x="445" y="517" width="1" height="20" fill="#000"/>
<rect x="443" y="529" width="5" height="1" fill="#000"/>
<rect x="450" y="519" width="1" height="33" fill="#000"/>
<rect x="449" y="534" width="4" height="15" fill="#000"/>
<rect x="455" y="536" width="1" height="25" fill="#000"/>
<rect x="454" y="545" width="4" height="6" fill="#000"/>
<rect x="460" y="533" width="1" height="14" fill="#000"/>
<rect x="459.5" y="533.5" width="3" height="5" fill="#fff" stroke="#000" stroke-width="1"/>
<rect x="465" y="533" width="1" height="11" fill="#000"/>
<rect x="464.5" y="539.5" width="2" height="1" fill="#fff" stroke="#000" stroke-width="1"/>
<rect x="470" y="535" width="1" height="18" fill="#000"/>
<rect x="469.5" y="542.5" width="2" height="3" fill="#fff" stroke="#000" stroke-width="1"/>
<rect x="474" y="512" width="1" height="25" fill="#000"/>
<rect x="473.5" y="513.5" width="3" height="23" fill="#fff" stroke="#000" stroke-width="1"/>
<rect x="479" y="509" width="1" height="10" fill="#000"/>
<rect x="478" y="512" width="4" height="3" fill="#000"/>
<rect x="484" y="494" width="1" height="14" fill="#000"/>
<rect x="483.5" y="501.5" width="3" height="1" fill="#fff" stroke="#000" stroke-width="1"/>
<rect x="489" y="511" width="1" height="11" fill="#000"/>
<rect x="487" y="513" width="5" height="1" fill="#000"/>
<rect x="494" y="501" width="1" height="17" fill="#000"/>
<rect x="493" y="508" width="4" height="4" fill="#000"/>
<rect x="499" y="456" width="1" height="50" fill="#000"/>
<rect x="498.5" y="469.5" width="3" height="35" fill="#fff" stroke="#000" stroke-width="1"/>
<rect x="504" y="458" width="1" height="15" fill="#000"/>
<rect x="503" y="466" width="4" height="3" fill="#000"/>
<rect x="509" y="465" width="1" height="23" fill="#000"/>
<rect x="508" y="468" width="4" height="6" fill="#000"/>
<rect x="514" y="443" width="1" height="19" fill="#000"/>
<rect x="513.5" y="443.5" width="2" height="13" fill="#fff" stroke="#000" stroke-width="1"/>
<rect x="519" y="435" width="1" height="19" fill="#000"/>
<rect x="518" y="439" width="3" height="6" fill="#000"/>
<rect x="523" y="412" width="1" height="25" fill="#000"/>
<rect x="522.5" y="416.5" width="3" height="19" fill="#fff" stroke="#000" stroke-width="1"/>
<rect x="528" y="394" width="1" height="19" fill="#000"/>
<rect x="527.5" y="405.5" width="3" height="4" fill="#fff" stroke="#000" stroke-width="1"/>
<rect x="533" y="401" width="1" height="20" fill="#000"/>
<rect x="532.5" y="403.5" width="3" height="1" fill="#fff" stroke="#000" stroke-width="1"/>
<rect x="538" y="382" width="1" height="20" fill="#000"/>
<rect x="537.5" y="390.5" width="3" height="9" fill="#fff" stroke="#000" stroke-width="1"/>
<rect x="543" y="390" width="1" height="19" fill="#000"/>
<rect x="542" y="390" width="4" height="11" fill="#000"/>
<rect x="548" y="397" width="1" height="27" fill="#000"/>
<rect x="547" y="416" width="4" height="7" fill="#000"/>
<rect x="553" y="415" width="1" height="16" fill="#000"/>
<rect x="552.5" y="415.5" width="3" height="9" fill="#fff" stroke="#000" stroke-width="1"/>
<rect x="558" y="401" width="1" height="15" fill="#000"/>
<rect x="557.5" y="402.5" width="3" height="11" fill="#fff" stroke="#000" stroke-width="1"/>
<rect x="563" y="396" width="1" height="7" fill="#000"/>
<rect x="562.5" y="399.5" width="3" height="2" fill="#fff" stroke="#000" stroke-width="1"/>
<rect x="567" y="392" width="1" height="13" fill="#000"/>
<rect x="566" y="397" width="4" height="3" fill="#000"/>
<rect x="573" y="407" width="1" height="17" fill="#000"/>
<rect x="572" y="412" width="3" height="7" fill="#000"/>
<rect x="577" y="419" width="1" height="11" fill="#000"/>
<rect x="576.5" y="419.5" width="3" height="9" fill="#fff" stroke="#000" stroke-width="1"/>
<rect x="582" y="409" width="1" height="17" fill="#000"/>
<rect x="581.5" y="415.5" width="3" height="3" fill="#fff" stroke="#000" stroke-width="1"/>
<rect x="587" y="397" width="1" height="23" fill="#000"/>
<rect x="586" y="409" width="4" height="8" fill="#000"/>
<rect x="592" y="402" width="1" height="11" fill="#000"/>
<rect x="591.5" y="406.5" width="3" height="5" fill="#fff" stroke="#000" stroke-width="1"/>
<rect x="597" y="390" width="1" height="22" fill="#000"/>
<rect x="596.5" y="394.5" width="3" height="4" fill="#fff" stroke="#000" stroke-width="1"/>
<rect x="602" y="383" width="1" height="19" fill="#000"/>
<rect x="601" y="386" width="4" height="16" fill="#000"/>
<rect x="607" y="392" width="1" height="24" fill="#000"/>
<rect x="606" y="402" width="4" height="14" fill="#000"/>
<rect x="612" y="394" width="1" height="21" fill="#000"/>
<rect x="611.5" y="396.5" width="3" height="18" fill="#fff" stroke="#000" stroke-width="1"/>
<rect x="617" y="390" width="1" height="19" fill="#000"/>
<rect x="616.5" y="394.5" width="2" height="5" fill="#fff" stroke="#000" stroke-width="1"/>
<rect x="622" y="362" width="1" height="26" fill="#000"/>
<rect x="621.5" y="374.5" width="2" height="11" fill="#fff" stroke="#000" stroke-width="1"/>
<rect x="626" y="370" width="1" height="22" fill="#000"/>
<rect x="625.5" y="382.5" width="3" height="1" fill="#fff" stroke="#000" stroke-width="1"/>
<rect x="631" y="367" width="1" height="19" fill="#000"/>
<rect x="630.5" y="370.5" width="3" height="13" fill="#fff" stroke="#000" stroke-width="1"/>
<rect x="636" y="354" width="1" height="13" fill="#000"/>
<rect x="635.5" y="355.5" width="3" height="11" fill="#fff" stroke="#000" stroke-width="1"/>
<rect x="641" y="348" width="1" height="19" fill="#000"/>
<rect x="640" y="356" width="4" height="6" fill="#000"/>
<rect x="646" y="342" width="1" height="25" fill="#000"/>
<rect x="645.5" y="348.5" width="3" height="16" fill="#fff" stroke="#000" stroke-width="1"/>
<rect x="651" y="265" width="1" height="71" fill="#000"/>
<rect x="650.5" y="270.5" width="3" height="65" fill="#fff" stroke="#000" stroke-width="1"/>
<rect x="656" y="200" width="1" height="86" fill="#000"/>
<rect x="655.5" y="212.5" width="3" height="73" fill="#fff" stroke="#000" stroke-width="1"/>
<rect x="661" y="216" width="1" height="25" fill="#000"/>
<rect x="660.5" y="217.5" width="3" height="2" fill="#fff" stroke="#000" stroke-width="1"/>
<rect x="666" y="184" width="1" height="29" fill="#000"/>
<rect x="665.5" y="194.5" width="2" height="14" fill="#fff" stroke="#000" stroke-width="1"/>
<rect x="671" y="180" width="1" height="32" fill="#000"/>
<rect x="670" y="190" width="3" height="22" fill="#000"/>
<rect x="676" y="203" width="1" height="21" fill="#000"/>
<rect x="675.5" y="204.5" width="2" height="12" fill="#fff" stroke="#000" stroke-width="1"/>
<rect x="680" y="196" width="1" height="18" fill="#000"/>
<rect x="679.5" y="201.5" width="3" height="5" fill="#fff" stroke="#000" stroke-width="1"/>
<rect x="685" y="179" width="1" height="26" fill="#000"/>
<rect x="684.5" y="191.5" width="3" height="8" fill="#fff" stroke="#000" stroke-width="1"/>
<rect x="690" y="191" width="1" height="21" fill="#000"/>
<rect x="689.5" y="200.5" width="3" height="8" fill="#fff" stroke="#000" stroke-width="1"/>
<rect x="695" y="196" width="1" height="28" fill="#000"/>
<rect x="694" y="197" width="4" height="9" fill="#000"/>
<rect x="700" y="189" width="1" height="16" fill="#000"/>
<rect x="699" y="198" width="4" height="2" fill="#000"/>
<rect x="705" y="181" width="1" height="24" fill="#000"/>
<rect x="704.5" y="188.5" width="3" height="5" fill="#fff" stroke="#000" stroke-width="1"/>
<rect x="710" y="166" width="1" height="27" fill="#000"/>
<rect x="709.5" y="170.5" width="3" height="13" fill="#fff" stroke="#000" stroke-width="1"/>
<rect x="715" y="136" width="1" height="38" fill="#000"/>
<rect x="714" y="161" width="4" height="7" fill="#000"/>
<rect x="720" y="158" width="1" height="31" fill="#000"/>
<rect x="719.5" y="163.5" width="2" height="12" fill="#fff" stroke="#000" stroke-width="1"/>
<rect x="725" y="161" width="1" height="23" fill="#000"/>
<rect x="723" y="167" width="5" height="1" fill="#000"/>
<rect x="729" y="139" width="1" height="21" fill="#000"/>
<rect x="728.5" y="152.5" width="3" height="5" fill="#fff" stroke="#000" stroke-width="1"/>
<rect x="734" y="144" width="1" height="12" fill="#000"/>
<rect x="732" y="149" width="5" height="1" fill="#000"/>
<rect x="739" y="134" width="1" height="18" fill="#000"/>
<rect x="738.5" y="144.5" width="3" height="1" fill="#fff" stroke="#000" stroke-width="1"/>
<rect x="744" y="123" width="1" height="18" fill="#000"/>
<rect x="743.5" y="134.5" width="3" height="5" fill="#fff" stroke="#000" stroke-width="1"/>
<rect x="749" y="106" width="1" height="31" fill="#000"/>
<rect x="748" y="126" width="4" height="9" fill="#000"/>
<rect x="754" y="116" width="1" height="25" fill="#000"/>
<rect x="753.5" y="116.5" width="3" height="21" fill="#fff" stroke="#000" stroke-width="1"/>
<rect x="759" y="126" width="1" height="35" fill="#000"/>
<rect x="758" y="127" width="4" height="29" fill="#000"/>
<rect x="764" y="114" width="1" height="24" fill="#000"/>
<rect x="763.5" y="128.5" width="3" height="4" fill="#fff" stroke="#000" stroke-width="1"/>
<rect x="769" y="118" width="1" height="16" fill="#000"/>
<rect x="768.5" y="125.5" width="2" height="1" fill="#fff" stroke="#000" stroke-width="1"/>
<rect x="774" y="119" width="1" height="25" fill="#000"/>
<rect x="773.5" y="122.5" width="2" height="20" fill="#fff" stroke="#000" stroke-width="1"/>
<rect x="778" y="107" width="1" height="21" fill="#000"/>
<rect x="777" y="115" width="4" height="4" fill="#000"/>
<rect x="783" y="118" width="1" height="16" fill="#000"/>
<rect x="782" y="118" width="4" height="10" fill="#000"/>
<rect x="788" y="129" width="1" height="11" fill="#000"/>
<rect x="786" y="129" width="5" height="1" fill="#000"/>
<rect x="793" y="138" width="1" height="21" fill="#000"/>
<rect x="791" y="149" width="5" height="1" fill="#000"/>
<rect x="798" y="141" width="1" height="13" fill="#000"/>
<rect x="797" y="144" width="4" height="4" fill="#000"/>
<rect x="803" y="148" width="1" height="21" fill="#000"/>
<rect x="802.5" y="159.5" width="3" height="6" fill="#fff" stroke="#000" stroke-width="1"/>
<rect x="808" y="161" width="1" height="29" fill="#000"/>
<rect x="807.5" y="165.5" width="3" height="10" fill="#fff" stroke="#000" stroke-width="1"/>
<rect x="813" y="163" width="1" height="14" fill="#000"/>
<rect x="812.5" y="163.5" width="3" height="7" fill="#fff" stroke="#000" stroke-width="1"/>
<rect x="818" y="147" width="1" height="16" fill="#000"/>
<rect x="817.5" y="149.5" width="3" height="7" fill="#fff" stroke="#000" stroke-width="1"/>
<rect x="822" y="149" width="1" height="14" fill="#000"/>
<rect x="820" y="154" width="5" height="1" fill="#000"/>
<rect x="828" y="125" width="1" height="26" fill="#000"/>
<rect x="827.5" y="127.5" width="2" height="11" fill="#fff" stroke="#000" stroke-width="1"/>
<rect x="832" y="126" width="1" height="19" fill="#000"/>
<rect x="831" y="129" width="4" height="15" fill="#000"/>
<rect x="837" y="122" width="1" height="27" fill="#000"/>
<rect x="836.5" y="127.5" width="3" height="7" fill="#fff" stroke="#000" stroke-width="1"/>
<rect x="842" y="117" width="1" height="25" fill="#000"/>
<rect x="841.5" y="118.5" width="3" height="18" fill="#fff" stroke="#000" stroke-width="1"/>
<rect x="847" y="81" width="1" height="37" fill="#000"/>
<rect x="846.5" y="94.5" width="3" height="16" fill="#fff" stroke="#000" stroke-width="1"/>
<rect x="852" y="90" width="1" height="23" fill="#000"/>
<rect x="851.5" y="92.5" width="3" height="15" fill="#fff" stroke="#000" stroke-width="1"/>
<rect x="857" y="70" width="1" height="28" fill="#000"/>
<rect x="855" y="95" width="5" height="1" fill="#000"/>
<rect x="862" y="73" width="1" height="26" fill="#000"/>
<rect x="861.5" y="81.5" width="3" height="12" fill="#fff" stroke="#000" stroke-width="1"/>
<rect x="867" y="58" width="1" height="47" fill="#000"/>
<rect x="866" y="68" width="4" height="26" fill="#000"/>
<rect x="872" y="80" width="1" height="11" fill="#000"/>
<rect x="871.5" y="85.5" width="2" height="2" fill="#fff" stroke="#000" stroke-width="1"/>
<rect x="877" y="67" width="1" height="28" fill="#000"/>
<rect x="876" y="74" width="3" height="20" fill="#000"/>
<rect x="881" y="83" width="1" height="17" fill="#000"/>
<rect x="880.5" y="89.5" width="3" height="9" fill="#fff" stroke="#000" stroke-width="1"/>
<rect x="886" y="73" width="1" height="29" fill="#000"/>
<rect x="885.5" y="88.5" width="3" height="8" fill="#fff" stroke="#000" stroke-width="1"/>
<rect x="891" y="70" width="1" height="36" fill="#000"/>
<rect x="890" y="88" width="4" height="12" fill="#000"/>
<rect x="896" y="88" width="1" height="20" fill="#000"/>
<rect x="895" y="102" width="4" height="6" fill="#000"/>
<rect x="901" y="95" width="1" height="22" fill="#000"/>
<rect x="900" y="102" width="4" height="14" fill="#000"/>
<rect x="906" y="122" width="1" height="18" fill="#000"/>
<rect x="905" y="123" width="4" height="4" fill="#000"/>
<rect x="911" y="113" width="1" height="25" fill="#000"/>
<rect x="910.5" y="114.5" width="3" height="18" fill="#fff" stroke="#000" stroke-width="1"/>
<rect x="916" y="116" width="1" height="32" fill="#000"/>
<rect x="915" y="116" width="4" height="32" fill="#000"/>
<rect x="921" y="134" width="1" height="58" fill="#000"/>
<rect x="920.5" y="149.5" width="3" height="7" fill="#fff" stroke="#000" stroke-width="1"/>
<rect x="926" y="135" width="1" height="17" fill="#000"/>
<rect x="925.5" y="137.5" width="2" height="12" fill="#fff" stroke="#000" stroke-width="1"/>
<rect x="931" y="130" width="1" height="14" fill="#000"/>
<rect x="929" y="133" width="5" height="1" fill="#000"/>
<rect x="935" y="130" width="1" height="29" fill="#000"/>
<rect x="934.5" y="131.5" width="3" height="24" fill="#fff" stroke="#000" stroke-width="1"/>
<rect x="940" y="117" width="1" height="30" fill="#000"/>
<rect x="939.5" y="118.5" width="3" height="14" fill="#fff" stroke="#000" stroke-width="1"/>
<rect x="945" y="111" width="1" height="17" fill="#000"/>
<rect x="944" y="114" width="4" height="8" fill="#000"/>
<rect x="950" y="102" width="1" height="32" fill="#000"/>
<rect x="949" y="109" width="4" height="19" fill="#000"/>
<rect x="955" y="119" width="1" height="16" fill="#000"/>
<rect x="954.5" y="129.5" width="3" height="3" fill="#fff" stroke="#000" stroke-width="1"/>
<rect x="960" y="61" width="1" height="62" fill="#000"/>
<rect x="959.5" y="63.5" width="3" height="58" fill="#fff" stroke="#000" stroke-width="1"/>
<rect x="965" y="54" width="1" height="30" fill="#000"/>
<rect x="964" y="62" width="4" height="16" fill="#000"/>
<rect x="970" y="82" width="1" height="14" fill="#000"/>
<rect x="969" y="88" width="4" height="5" fill="#000"/>
<rect x="975" y="105" width="1" height="23" fill="#000"/>
<rect x="974.5" y="114.5" width="2" height="3" fill="#fff" stroke="#000" stroke-width="1"/>
<rect x="980" y="106" width="1" height="26" fill="#000"/>
<rect x="979" y="121" width="3" height="7" fill="#000"/>
<rect x="984" y="105" width="1" height="28" fill="#000"/>
<rect x="983.5" y="106.5" width="3" height="22" fill="#fff" stroke="#000" stroke-width="1"/>
<rect x="989" y="100" width="1" height="23" fill="#000"/>
<rect x="987" y="106" width="5" height="1" fill="#000"/>
<rect x="994" y="89" width="1" height="28" fill="#000"/>
<rect x="993" y="89" width="4" height="20" fill="#000"/>
<rect x="999" y="81" width="1" height="97" fill="#000"/>
<rect x="998" y="121" width="4" height="27" fill="#000"/>
<rect x="1004" y="122" width="1" height="22" fill="#000"/>
<rect x="1003.5" y="140.5" width="3" height="2" fill="#fff" stroke="#000" stroke-width="1"/>
<rect x="1009" y="150" width="1" height="20" fill="#000"/>
<rect x="1008" y="154" width="4" height="5" fill="#000"/>
<rect x="1014" y="151" width="1" height="42" fill="#000"/>
<rect x="1013" y="163" width="4" height="23" fill="#000"/>
<rect x="1019" y="172" width="1" height="17" fill="#000"/>
<rect x="1017" y="174" width="5" height="1" fill="#000"/>
<rect x="1024" y="151" width="1" height="23" fill="#000"/>
<rect x="1023.5" y="153.5" width="2" height="11" fill="#fff" stroke="#000" stroke-width="1"/>
<rect x="1029" y="153" width="1" height="25" fill="#000"/>
<rect x="1027" y="160" width="5" height="1" fill="#000"/>
<rect x="1034" y="133" width="1" height="29" fill="#000"/>
<rect x="1033" y="142" width="3" height="17" fill="#000"/>
<rect x="1038" y="185" width="1" height="54" fill="#000"/>
<rect x="1037" y="189" width="4" height="50" fill="#000"/>
<rect x="1043" y="218" width="1" height="29" fill="#000"/>
<rect x="1042" y="236" width="4" height="10" fill="#000"/>
<rect x="1048" y="207" width="1" height="23" fill="#000"/>
<rect x="1047.5" y="208.5" width="3" height="4" fill="#fff" stroke="#000" stroke-width="1"/>
<rect x="1053" y="197" width="1" height="33" fill="#000"/>
<rect x="1052" y="211" width="4" height="3" fill="#000"/>
<rect x="1058" y="217" width="1" height="39" fill="#000"/>
<rect x="1057" y="222" width="4" height="27" fill="#000"/>
<rect x="1063" y="255" width="1" height="21" fill="#000"/>
<rect x="1062.5" y="256.5" width="3" height="6" fill="#fff" stroke="#000" stroke-width="1"/>
<rect x="1068" y="225" width="1" height="26" fill="#000"/>
<rect x="1067.5" y="228.5" width="3" height="15" fill="#fff" stroke="#000" stroke-width="1"/>
<rect x="1073" y="215" width="1" height="25" fill="#000"/>
<rect x="1072.5" y="228.5" width="3" height="6" fill="#fff" stroke="#000" stroke-width="1"/>
<rect x="1078" y="190" width="1" height="38" fill="#000"/>
<rect x="1077.5" y="191.5" width="2" height="20" fill="#fff" stroke="#000" stroke-width="1"/>
<rect x="1083" y="171" width="1" height="14" fill="#000"/>
<rect x="1082.5" y="177.5" width="2" height="3" fill="#fff" stroke="#000" stroke-width="1"/>
<rect x="1087" y="161" width="1" height="18" fill="#000"/>
<rect x="1085" y="174" width="5" height="1" fill="#000"/>
<rect x="1092" y="135" width="1" height="38" fill="#000"/>
<rect x="1091.5" y="139.5" width="3" height="29" fill="#fff" stroke="#000" stroke-width="1"/>
<rect x="1097" y="126" width="1" height="26" fill="#000"/>
<rect x="1096" y="135" width="4" height="6" fill="#000"/>
<rect x="1102" y="134" width="1" height="18" fill="#000"/>
<rect x="1101" y="140" width="4" height="6" fill="#000"/>
<rect x="1107" y="127" width="1" height="23" fill="#000"/>
<rect x="1106.5" y="137.5" width="3" height="5" fill="#fff" stroke="#000" stroke-width="1"/>
<rect x="1112" y="113" width="1" height="26" fill="#000"/>
<rect x="1111.5" y="114.5" width="3" height="23" fill="#fff" stroke="#000" stroke-width="1"/>
<rect x="1117" y="92" width="1" height="22" fill="#000"/>
<rect x="1116.5" y="106.5" width="3" height="3" fill="#fff" stroke="#000" stroke-width="1"/>
<rect x="1122" y="115" width="1" height="27" fill="#000"/>
<rect x="1121" y="118" width="4" height="16" fill="#000"/>
<rect x="1127" y="126" width="1" height="27" fill="#000"/>
<rect x="1126" y="142" width="3" height="10" fill="#000"/>
<rect x="1132" y="156" width="1" height="22" fill="#000"/>
<rect x="1130" y="157" width="5" height="1" fill="#000"/>
<rect x="1136" y="139" width="1" height="26" fill="#000"/>
<rect x="1135.5" y="143.5" width="3" height="6" fill="#fff" stroke="#000" stroke-width="1"/>
<rect x="1141" y="145" width="1" height="16" fill="#000"/>
<rect x="1140" y="149" width="4" height="3" fill="#000"/>
<rect x="1146" y="187" width="1" height="101" fill="#000"/>
<rect x="1145" y="187" width="4" height="95" fill="#000"/>
<rect x="1151" y="282" width="1" height="74" fill="#000"/>
<rect x="1150" y="284" width="4" height="63" fill="#000"/>
<rect x="1156" y="347" width="1" height="101" fill="#000"/>
<rect x="1155.5" y="415.5" width="3" height="11" fill="#fff" stroke="#000" stroke-width="1"/>
<rect x="1161" y="383" width="1" height="33" fill="#000"/>
<rect x="1160" y="383" width="4" height="26" fill="#000"/>
<rect x="1166" y="426" width="1" height="53" fill="#000"/>
<rect x="1165" y="444" width="4" height="25" fill="#000"/>
<rect x="1171" y="342" width="1" height="110" fill="#000"/>
<rect x="1170" y="352" width="4" height="99" fill="#000"/>
<rect x="1176" y="453" width="1" height="23" fill="#000"/>
<rect x="1175" y="457" width="4" height="13" fill="#000"/>
<rect x="1181" y="424" width="1" height="27" fill="#000"/>
<rect x="1180" y="430" width="3" height="13" fill="#000"/>
<rect x="1186" y="423" width="1" height="20" fill="#000"/>
<rect x="1185.5" y="430.5" width="2" height="9" fill="#fff" stroke="#000" stroke-width="1"/>
<rect x="1190" y="408" width="1" height="47" fill="#000"/>
<rect x="1189.5" y="410.5" width="3" height="41" fill="#fff" stroke="#000" stroke-width="1"/>
<rect x="1195" y="406" width="1" height="23" fill="#000"/>
<rect x="1194" y="412" width="4" height="2" fill="#000"/>
<rect x="1200" y="407" width="1" height="25" fill="#000"/>
<rect x="1198" y="415" width="5" height="1" fill="#000"/>
<rect x="1205" y="386" width="1" height="33" fill="#000"/>
<rect x="1204" y="401" width="4" height="14" fill="#000"/>
<rect x="1210" y="398" width="1" height="17" fill="#000"/>
<rect x="1209.5" y="404.5" width="3" height="2" fill="#fff" stroke="#000" stroke-width="1"/>
<rect x="1215" y="385" width="1" height="24" fill="#000"/>
<rect x="1214" y="389" width="4" height="9" fill="#000"/>
<rect x="1220" y="384" width="1" height="17" fill="#000"/>
<rect x="1219" y="385" width="4" height="10" fill="#000"/>
<rect x="1225" y="389" width="1" height="17" fill="#000"/>
<rect x="1224" y="396" width="4" height="3" fill="#000"/>
<rect x="1230" y="390" width="1" height="30" fill="#000"/>
<rect x="1229" y="391" width="3" height="14" fill="#000"/>
<rect x="1235" y="379" width="1" height="45" fill="#000"/>
<rect x="1234" y="392" width="3" height="9" fill="#000"/>
<rect x="1239" y="397" width="1" height="18" fill="#000"/>
<rect x="1238.5" y="400.5" width="3" height="6" fill="#fff" stroke="#000" stroke-width="1"/>
<rect x="1244" y="385" width="1" height="19" fill="#000"/>
<rect x="1243.5" y="388.5" width="3" height="2" fill="#fff" stroke="#000" stroke-width="1"/>
<rect x="1249" y="394" width="1" height="22" fill="#000"/>
<rect x="1248" y="397" width="4" height="9" fill="#000"/>
<rect x="1254" y="382" width="1" height="23" fill="#000"/>
<rect x="1253.5" y="384.5" width="3" height="15" fill="#fff" stroke="#000" stroke-width="1"/>
<rect x="1259" y="361" width="1" height="19" fill="#000"/>
<rect x="1258.5" y="374.5" width="3" height="4" fill="#fff" stroke="#000" stroke-width="1"/>
<rect x="1264" y="324" width="1" height="32" fill="#000"/>
<rect x="1263.5" y="338.5" width="3" height="16" fill="#fff" stroke="#000" stroke-width="1"/>
<rect x="1269" y="330" width="1" height="12" fill="#000"/>
<rect x="1268.5" y="335.5" width="3" height="2" fill="#fff" stroke="#000" stroke-width="1"/>
<rect x="1274" y="329" width="1" height="20" fill="#000"/>
<rect x="1272" y="336" width="5" height="1" fill="#000"/>
<rect x="1279" y="348" width="1" height="17" fill="#000"/>
<rect x="1278" y="348" width="4" height="10" fill="#000"/>
<rect x="1284" y="349" width="1" height="21" fill="#000"/>
<rect x="1283" y="351" width="3" height="14" fill="#000"/>
<rect x="1289" y="387" width="1" height="28" fill="#000"/>
<rect x="1288" y="401" width="3" height="5" fill="#000"/>
<rect x="1293" y="395" width="1" height="21" fill="#000"/>
<rect x="1292.5" y="395.5" width="3" height="8" fill="#fff" stroke="#000" stroke-width="1"/>
<rect x="1298" y="392" width="1" height="19" fill="#000"/>
<rect x="1297" y="395" width="4" height="13" fill="#000"/>
<rect x="1303" y="418" width="1" height="22" fill="#000"/>
<rect x="1302" y="421" width="4" height="9" fill="#000"/>
<rect x="1308" y="420" width="1" height="32" fill="#000"/>
<rect x="1307" y="427" width="4" height="6" fill="#000"/>
<rect x="1313" y="406" width="1" height="13" fill="#000"/>
<rect x="1312" y="409" width="4" height="5" fill="#000"/>
<rect x="1318" y="409" width="1" height="21" fill="#000"/>
<rect x="1317" y="414" width="4" height="15" fill="#000"/>
<rect x="1323" y="361" width="1" height="47" fill="#000"/>
<rect x="1322.5" y="388.5" width="3" height="14" fill="#fff" stroke="#000" stroke-width="1"/>
<rect x="1328" y="384" width="1" height="18" fill="#000"/>
<rect x="1327" y="385" width="4" height="9" fill="#000"/>
<rect x="1333" y="372" width="1" height="27" fill="#000"/>
<rect x="1332" y="394" width="3" height="5" fill="#000"/>
<rect x="1338" y="340" width="1" height="59" fill="#000"/>
<rect x="1337.5" y="344.5" width="2" height="53" fill="#fff" stroke="#000" stroke-width="1"/>
<rect x="1342" y="343" width="1" height="28" fill="#000"/>
<rect x="1341.5" y="344.5" width="3" height="6" fill="#fff" stroke="#000" stroke-width="1"/>
<rect x="1347" y="337" width="1" height="32" fill="#000"/>
<rect x="1346" y="348" width="4" height="18" fill="#000"/>
<rect x="1352" y="360" width="1" height="15" fill="#000"/>
<rect x="1350" y="367" width="5" height="1" fill="#000"/>
<rect x="1357" y="361" width="1" height="13" fill="#000"/>
<rect x="1355" y="365" width="5" height="1" fill="#000"/>
<rect x="1362" y="347" width="1" height="21" fill="#000"/>
<rect x="1361.5" y="348.5" width="3" height="17" fill="#fff" stroke="#000" stroke-width="1"/>
<rect x="1367" y="319" width="1" height="26" fill="#000"/>
<rect x="1366.5" y="320.5" width="3" height="19" fill="#fff" stroke="#000" stroke-width="1"/>
<rect x="1372" y="317" width="1" height="19" fill="#000"/>
<rect x="1371" y="320" width="4" height="15" fill="#000"/>
<rect x="1377" y="330" width="1" height="15" fill="#000"/>
<rect x="1376" y="334" width="4" height="8" fill="#000"/>
<rect x="1382" y="318" width="1" height="30" fill="#000"/>
<rect x="1381" y="338" width="4" height="3" fill="#000"/>
<rect x="1387" y="323" width="1" height="26" fill="#000"/>
<rect x="1385" y="333" width="5" height="1" fill="#000"/>
<rect x="1392" y="311" width="1" height="25" fill="#000"/>
<rect x="1391.5" y="314.5" width="2" height="20" fill="#fff" stroke="#000" stroke-width="1"/>
<rect x="1396" y="304" width="1" height="24" fill="#000"/>
<rect x="1395" y="307" width="4" height="18" fill="#000"/>
<rect x="1401" y="310" width="1" height="20" fill="#000"/>
<rect x="1400" y="322" width="4" height="8" fill="#000"/>
<rect x="1406" y="316" width="1" height="22" fill="#000"/>
<rect x="1405.5" y="324.5" width="3" height="7" fill="#fff" stroke="#000" stroke-width="1"/>
<rect x="1411" y="306" width="1" height="21" fill="#000"/>
<rect x="1410" y="317" width="4" height="7" fill="#000"/>
<rect x="1416" y="339" width="1" height="30" fill="#000"/>
<rect x="1415" y="341" width="4" height="11" fill="#000"/>
<rect x="1421" y="341" width="1" height="16" fill="#000"/>
<rect x="1419" y="349" width="5" height="1" fill="#000"/>
<rect x="1426" y="337" width="1" height="26" fill="#000"/>
<rect x="1425.5" y="341.5" width="3" height="20" fill="#fff" stroke="#000" stroke-width="1"/>
<rect x="1431" y="322" width="1" height="20" fill="#000"/>
<rect x="1430.5" y="325.5" width="3" height="13" fill="#fff" stroke="#000" stroke-width="1"/>
<rect x="1436" y="304" width="1" height="17" fill="#000"/>
<rect x="1435.5" y="310.5" width="2" height="7" fill="#fff" stroke="#000" stroke-width="1"/>
<rect x="1441" y="312" width="1" height="23" fill="#000"/>
<rect x="1440" y="312" width="3" height="15" fill="#000"/>
<rect x="1445" y="284" width="1" height="45" fill="#000"/>
<rect x="1444.5" y="290.5" width="3" height="35" fill="#fff" stroke="#000" stroke-width="1"/>
<rect x="1450" y="274" width="1" height="15" fill="#000"/>
<rect x="1449" y="274" width="4" height="11" fill="#000"/>
<rect x="1455" y="284" width="1" height="12" fill="#000"/>
<rect x="1454" y="284" width="4" height="10" fill="#000"/>
<rect x="1460" y="278" width="1" height="33" fill="#000"/>
<rect x="1459.5" y="293.5" width="3" height="3" fill="#fff" stroke="#000" stroke-width="1"/>
<rect x="1465" y="271" width="1" height="18" fill="#000"/>
<rect x="1464.5" y="275.5" width="3" height="6" fill="#fff" stroke="#000" stroke-width="1"/>
<rect x="1470" y="260" width="1" height="13" fill="#000"/>
<rect x="1469" y="268" width="4" height="3" fill="#000"/>
<rect x="1475" y="271" width="1" height="21" fill="#000"/>
<rect x="1474" y="273" width="4" height="7" fill="#000"/>
<rect x="1480" y="270" width="1" height="24" fill="#000"/>
<rect x="1479.5" y="270.5" width="3" height="18" fill="#fff" stroke="#000" stroke-width="1"/>
<rect x="1485" y="269" width="1" height="20" fill="#000"/>
<rect x="1484" y="271" width="3" height="16" fill="#000"/>
<rect x="1490" y="275" width="1" height="27" fill="#000"/>
<rect x="1489" y="281" width="3" height="17" fill="#000"/>
<rect x="1495" y="298" width="1" height="14" fill="#000"/>
<rect x="1494" y="303" width="3" height="8" fill="#000"/>
<rect x="1499" y="302" width="1" height="11" fill="#000"/>
<rect x="1497" y="306" width="5" height="1" fill="#000"/>
<rect x="1504" y="303" width="1" height="25" fill="#000"/>
<rect x="1503" y="308" width="4" height="15" fill="#000"/>
<rect x="1509" y="290" width="1" height="25" fill="#000"/>
<rect x="1508" y="301" width="4" height="12" fill="#000"/>
<rect x="1514" y="303" width="1" height="15" fill="#000"/>
<rect x="1513.5" y="303.5" width="3" height="12" fill="#fff" stroke="#000" stroke-width="1"/>
<rect x="1519" y="276" width="1" height="22" fill="#000"/>
<rect x="1518.5" y="277.5" width="3" height="14" fill="#fff" stroke="#000" stroke-width="1"/>
<rect x="1524" y="267" width="1" height="27" fill="#000"/>
<rect x="1523" y="267" width="4" height="25" fill="#000"/>
<rect x="1529" y="289" width="1" height="19" fill="#000"/>
<rect x="1528.5" y="293.5" width="3" height="4" fill="#fff" stroke="#000" stroke-width="1"/>
<rect x="1534" y="271" width="1" height="15" fill="#000"/>
<rect x="1533.5" y="275.5" width="3" height="4" fill="#fff" stroke="#000" stroke-width="1"/>
<rect x="1539" y="267" width="1" height="12" fill="#000"/>
<rect x="1538" y="272" width="3" height="6" fill="#000"/>
<rect x="1544" y="263" width="1" height="18" fill="#000"/>
<rect x="1543" y="264" width="3" height="11" fill="#000"/>
<rect x="1548" y="303" width="1" height="51" fill="#000"/>
<rect x="1547" y="330" width="4" height="19" fill="#000"/>
<rect x="1553" y="350" width="1" height="35" fill="#000"/>
<rect x="1552" y="367" width="4" height="12" fill="#000"/>
<rect x="1558" y="364" width="1" height="22" fill="#000"/>
<rect x="1557.5" y="377.5" width="3" height="2" fill="#fff" stroke="#000" stroke-width="1"/>
<rect x="1563" y="352" width="1" height="27" fill="#000"/>
<rect x="1562.5" y="353.5" width="3" height="20" fill="#fff" stroke="#000" stroke-width="1"/>
<rect x="1568" y="336" width="1" height="15" fill="#000"/>
<rect x="1567" y="341" width="4" height="7" fill="#000"/>
<rect x="1573" y="339" width="1" height="27" fill="#000"/>
<rect x="1572.5" y="359.5" width="3" height="5" fill="#fff" stroke="#000" stroke-width="1"/>
<rect x="1578" y="346" width="1" height="14" fill="#000"/>
<rect x="1577.5" y="352.5" width="3" height="6" fill="#fff" stroke="#000" stroke-width="1"/>
<rect x="1583" y="349" width="1" height="14" fill="#000"/>
<rect x="1582" y="352" width="4" height="11" fill="#000"/>
<rect x="1588" y="345" width="1" height="18" fill="#000"/>
<rect x="1587.5" y="349.5" width="2" height="12" fill="#fff" stroke="#000" stroke-width="1"/>
<rect x="1593" y="349" width="1" height="11" fill="#000"/>
<rect x="1592" y="350" width="3" height="9" fill="#000"/>
<rect x="1597" y="342" width="1" height="17" fill="#000"/>
<rect x="1596.5" y="348.5" width="3" height="7" fill="#fff" stroke="#000" stroke-width="1"/>
<rect x="1602" y="353" width="1" height="14" fill="#000"/>
<rect x="1601.5" y="355.5" width="3" height="4" fill="#fff" stroke="#000" stroke-width="1"/>
<rect x="1607" y="341" width="1" height="15" fill="#000"/>
<rect x="1606.5" y="342.5" width="3" height="12" fill="#fff" stroke="#000" stroke-width="1"/>
<rect x="1612" y="348" width="1" height="13" fill="#000"/>
<rect x="1611" y="350" width="4" height="6" fill="#000"/>
<rect x="1617" y="349" width="1" height="9" fill="#000"/>
<rect x="1616.5" y="350.5" width="3" height="4" fill="#fff" stroke="#000" stroke-width="1"/>
<rect x="1622" y="331" width="1" height="16" fill="#000"/>
<rect x="1621.5" y="335.5" width="3" height="10" fill="#fff" stroke="#000" stroke-width="1"/>
<rect x="1627" y="334" width="1" height="10" fill="#000"/>
<rect x="1626" y="336" width="4" height="3" fill="#000"/>
<rect x="1632" y="332" width="1" height="19" fill="#000"/>
<rect x="1631" y="342" width="4" height="4" fill="#000"/>
<rect x="1637" y="329" width="1" height="19" fill="#000"/>
<rect x="1635" y="344" width="5" height="1" fill="#000"/>
<rect x="1642" y="333" width="1" height="14" fill="#000"/>
<rect x="1640" y="342" width="5" height="1" fill="#000"/>
<rect x="1647" y="331" width="1" height="14" fill="#000"/>
<rect x="1646" y="341" width="3" height="3" fill="#000"/>
<rect x="1651" y="343" width="1" height="11" fill="#000"/>
<rect x="1649" y="343" width="5" height="1" fill="#000"/>
<rect x="1656" y="329" width="1" height="34" fill="#000"/>
<rect x="1655" y="343" width="4" height="20" fill="#000"/>
<rect x="1661" y="341" width="1" height="34" fill="#000"/>
<rect x="1660" y="359" width="4" height="14" fill="#000"/>
<rect x="1666" y="348" width="1" height="35" fill="#000"/>
<rect x="1665.5" y="349.5" width="3" height="32" fill="#fff" stroke="#000" stroke-width="1"/>
<rect x="1671" y="348" width="1" height="41" fill="#000"/>
<rect x="1670" y="350" width="4" height="33" fill="#000"/>
<rect x="1676" y="371" width="1" height="27" fill="#000"/>
<rect x="1675" y="382" width="4" height="4" fill="#000"/>
<rect x="1681" y="365" width="1" height="23" fill="#000"/>
<rect x="1680.5" y="372.5" width="3" height="14" fill="#fff" stroke="#000" stroke-width="1"/>
<rect x="1686" y="371" width="1" height="15" fill="#000"/>
<rect x="1685.5" y="373.5" width="3" height="2" fill="#fff" stroke="#000" stroke-width="1"/>
<rect x="1691" y="343" width="1" height="23" fill="#000"/>
<rect x="1690.5" y="359.5" width="2" height="2" fill="#fff" stroke="#000" stroke-width="1"/>
<rect x="1696" y="334" width="1" height="26" fill="#000"/>
<rect x="1695.5" y="353.5" width="2" height="4" fill="#fff" stroke="#000" stroke-width="1"/>
<rect x="1700" y="351" width="1" height="18" fill="#000"/>
<rect x="1699" y="354" width="4" height="9" fill="#000"/>
<rect x="1705" y="355" width="1" height="15" fill="#000"/>
<rect x="1704.5" y="355.5" width="3" height="6" fill="#fff" stroke="#000" stroke-width="1"/>
<rect x="1710" y="366" width="1" height="23" fill="#000"/>
<rect x="1709" y="369" width="4" height="12" fill="#000"/>
<rect x="1715" y="373" width="1" height="16" fill="#000"/>
<rect x="1714" y="379" width="4" height="6" fill="#000"/>
<rect x="1720" y="380" width="1" height="11" fill="#000"/>
<rect x="1718" y="389" width="5" height="1" fill="#000"/>
<rect x="1725" y="388" width="1" height="28" fill="#000"/>
<rect x="1724" y="388" width="4" height="6" fill="#000"/>
<rect x="1730" y="364" width="1" height="37" fill="#000"/>
<rect x="1729.5" y="372.5" width="3" height="21" fill="#fff" stroke="#000" stroke-width="1"/>
<rect x="1735" y="364" width="1" height="25" fill="#000"/>
<rect x="1734.5" y="372.5" width="3" height="5" fill="#fff" stroke="#000" stroke-width="1"/>
<rect x="1740" y="383" width="1" height="18" fill="#000"/>
<rect x="1739.5" y="383.5" width="3" height="5" fill="#fff" stroke="#000" stroke-width="1"/>
<rect x="1745" y="364" width="1" height="21" fill="#000"/>
<rect x="1744.5" y="368.5" width="2" height="12" fill="#fff" stroke="#000" stroke-width="1"/>
<rect x="1750" y="359" width="1" height="16" fill="#000"/>
<rect x="1749.5" y="362.5" width="2" height="4" fill="#fff" stroke="#000" stroke-width="1"/>
<rect x="1754" y="355" width="1" height="18" fill="#000"/>
<rect x="1753" y="362" width="4" height="5" fill="#000"/>
<rect x="1759" y="321" width="1" height="45" fill="#000"/>
<rect x="1758.5" y="321.5" width="3" height="43" fill="#fff" stroke="#000" stroke-width="1"/>
<rect x="1764" y="317" width="1" height="28" fill="#000"/>
<rect x="1763" y="319" width="4" height="26" fill="#000"/>
<rect x="1769" y="336" width="1" height="15" fill="#000"/>
<rect x="1767" y="347" width="5" height="1" fill="#000"/>
<rect x="1774" y="322" width="1" height="20" fill="#000"/>
<rect x="1773" y="322" width="4" height="16" fill="#000"/>
<rect x="1779" y="334" width="1" height="11" fill="#000"/>
<rect x="1777" y="336" width="5" height="1" fill="#000"/>
<rect x="1784" y="318" width="1" height="19" fill="#000"/>
<rect x="1783" y="326" width="4" height="2" fill="#000"/>
<rect x="1789" y="318" width="1" height="26" fill="#000"/>
<rect x="1788" y="323" width="4" height="21" fill="#000"/>
<rect x="1794" y="351" width="1" height="53" fill="#000"/>
<rect x="1793" y="363" width="3" height="40" fill="#000"/>
<rect x="1799" y="393" width="1" height="15" fill="#000"/>
<rect x="1798" y="395" width="3" height="5" fill="#000"/>
</g>
<circle cx="769" cy="87" r="6.2" fill="#ff0000"/>
<text x="769" y="90.4" font-family="Liberation Sans, Arial, sans-serif" font-size="10" font-weight="bold" fill="#fff" text-anchor="middle">4</text>
<circle cx="808.2" cy="90" r="6.2" fill="#0000ff"/>
<text x="808.2" y="93.4" font-family="Liberation Sans, Arial, sans-serif" font-size="10" font-weight="bold" fill="#fff" text-anchor="middle">2</text>
<circle cx="302.9" cy="374.1" r="6.2" fill="#ff0000"/>
<text x="302.9" y="377.5" font-family="Liberation Sans, Arial, sans-serif" font-size="10" font-weight="bold" fill="#fff" text-anchor="middle">3</text>
<circle cx="372.4" cy="601" r="6.2" fill="#0000ff"/>
<text x="372.4" y="604.4" font-family="Liberation Sans, Arial, sans-serif" font-size="10" font-weight="bold" fill="#fff" text-anchor="middle">0</text>
<path d="M77.8 335 L82 331.4 L82 338.6 Z" fill="#ff0000"/>
<rect x="81.5" y="334" width="4.5" height="2" fill="#ff0000"/>
</g>
<line x1="35" y1="653.5" x2="1855" y2="653.5" stroke="#000" stroke-width="1" shape-rendering="crispEdges"/>
<g fill="#000" shape-rendering="crispEdges">
<rect x="35" y="0" width="1" height="880"/>
<rect x="1855" y="0" width="1" height="880"/>
<rect x="35" y="880" width="1820" height="1"/>
<rect x="35" y="891" width="1820" height="1"/>
<rect x="33" y="6" width="2" height="1"/>
<rect x="1856" y="6" width="2" height="1"/>
<rect x="31" y="13" width="4" height="1"/>
<rect x="1856" y="13" width="5" height="1"/>
<rect x="33" y="20" width="2" height="1"/>
<rect x="1856" y="20" width="2" height="1"/>
<rect x="33" y="28" width="2" height="1"/>
<rect x="1856" y="28" width="2" height="1"/>
<rect x="33" y="35" width="2" height="1"/>
<rect x="1856" y="35" width="2" height="1"/>
<rect x="33" y="43" width="2" height="1"/>
<rect x="1856" y="43" width="2" height="1"/>
<rect x="31" y="50" width="4" height="1"/>
<rect x="1856" y="50" width="5" height="1"/>
<rect x="33" y="57" width="2" height="1"/>
<rect x="1856" y="57" width="2" height="1"/>
<rect x="33" y="65" width="2" height="1"/>
<rect x="1856" y="65" width="2" height="1"/>
<rect x="33" y="72" width="2" height="1"/>
<rect x="1856" y="72" width="2" height="1"/>
<rect x="33" y="79" width="2" height="1"/>
<rect x="1856" y="79" width="2" height="1"/>
<rect x="31" y="87" width="4" height="1"/>
<rect x="1856" y="87" width="5" height="1"/>
<rect x="33" y="94" width="2" height="1"/>
<rect x="1856" y="94" width="2" height="1"/>
<rect x="33" y="101" width="2" height="1"/>
<rect x="1856" y="101" width="2" height="1"/>
<rect x="33" y="109" width="2" height="1"/>
<rect x="1856" y="109" width="2" height="1"/>
<rect x="33" y="116" width="2" height="1"/>
<rect x="1856" y="116" width="2" height="1"/>
<rect x="31" y="124" width="4" height="1"/>
<rect x="1856" y="124" width="5" height="1"/>
<rect x="33" y="131" width="2" height="1"/>
<rect x="1856" y="131" width="2" height="1"/>
<rect x="33" y="138" width="2" height="1"/>
<rect x="1856" y="138" width="2" height="1"/>
<rect x="33" y="146" width="2" height="1"/>
<rect x="1856" y="146" width="2" height="1"/>
<rect x="33" y="153" width="2" height="1"/>
<rect x="1856" y="153" width="2" height="1"/>
<rect x="31" y="160" width="4" height="1"/>
<rect x="1856" y="160" width="5" height="1"/>
<rect x="33" y="168" width="2" height="1"/>
<rect x="1856" y="168" width="2" height="1"/>
<rect x="33" y="175" width="2" height="1"/>
<rect x="1856" y="175" width="2" height="1"/>
<rect x="33" y="182" width="2" height="1"/>
<rect x="1856" y="182" width="2" height="1"/>
<rect x="33" y="190" width="2" height="1"/>
<rect x="1856" y="190" width="2" height="1"/>
<rect x="31" y="197" width="4" height="1"/>
<rect x="1856" y="197" width="5" height="1"/>
<rect x="33" y="204" width="2" height="1"/>
<rect x="1856" y="204" width="2" height="1"/>
<rect x="33" y="212" width="2" height="1"/>
<rect x="1856" y="212" width="2" height="1"/>
<rect x="33" y="219" width="2" height="1"/>
<rect x="1856" y="219" width="2" height="1"/>
<rect x="33" y="227" width="2" height="1"/>
<rect x="1856" y="227" width="2" height="1"/>
<rect x="31" y="234" width="4" height="1"/>
<rect x="1856" y="234" width="5" height="1"/>
<rect x="33" y="241" width="2" height="1"/>
<rect x="1856" y="241" width="2" height="1"/>
<rect x="33" y="249" width="2" height="1"/>
<rect x="1856" y="249" width="2" height="1"/>
<rect x="33" y="256" width="2" height="1"/>
<rect x="1856" y="256" width="2" height="1"/>
<rect x="33" y="263" width="2" height="1"/>
<rect x="1856" y="263" width="2" height="1"/>
<rect x="31" y="271" width="4" height="1"/>
<rect x="1856" y="271" width="5" height="1"/>
<rect x="33" y="278" width="2" height="1"/>
<rect x="1856" y="278" width="2" height="1"/>
<rect x="33" y="285" width="2" height="1"/>
<rect x="1856" y="285" width="2" height="1"/>
<rect x="33" y="293" width="2" height="1"/>
<rect x="1856" y="293" width="2" height="1"/>
<rect x="33" y="300" width="2" height="1"/>
<rect x="1856" y="300" width="2" height="1"/>
<rect x="31" y="308" width="4" height="1"/>
<rect x="1856" y="308" width="5" height="1"/>
<rect x="33" y="315" width="2" height="1"/>
<rect x="1856" y="315" width="2" height="1"/>
<rect x="33" y="322" width="2" height="1"/>
<rect x="1856" y="322" width="2" height="1"/>
<rect x="33" y="330" width="2" height="1"/>
<rect x="1856" y="330" width="2" height="1"/>
<rect x="33" y="337" width="2" height="1"/>
<rect x="1856" y="337" width="2" height="1"/>
<rect x="31" y="344" width="4" height="1"/>
<rect x="1856" y="344" width="5" height="1"/>
<rect x="33" y="352" width="2" height="1"/>
<rect x="1856" y="352" width="2" height="1"/>
<rect x="33" y="359" width="2" height="1"/>
<rect x="1856" y="359" width="2" height="1"/>
<rect x="33" y="366" width="2" height="1"/>
<rect x="1856" y="366" width="2" height="1"/>
<rect x="33" y="374" width="2" height="1"/>
<rect x="1856" y="374" width="2" height="1"/>
<rect x="31" y="381" width="4" height="1"/>
<rect x="1856" y="381" width="5" height="1"/>
<rect x="33" y="389" width="2" height="1"/>
<rect x="1856" y="389" width="2" height="1"/>
<rect x="33" y="396" width="2" height="1"/>
<rect x="1856" y="396" width="2" height="1"/>
<rect x="33" y="403" width="2" height="1"/>
<rect x="1856" y="403" width="2" height="1"/>
<rect x="33" y="411" width="2" height="1"/>
<rect x="1856" y="411" width="2" height="1"/>
<rect x="31" y="418" width="4" height="1"/>
<rect x="1856" y="418" width="5" height="1"/>
<rect x="33" y="425" width="2" height="1"/>
<rect x="1856" y="425" width="2" height="1"/>
<rect x="33" y="433" width="2" height="1"/>
<rect x="1856" y="433" width="2" height="1"/>
<rect x="33" y="440" width="2" height="1"/>
<rect x="1856" y="440" width="2" height="1"/>
<rect x="33" y="447" width="2" height="1"/>
<rect x="1856" y="447" width="2" height="1"/>
<rect x="31" y="455" width="4" height="1"/>
<rect x="1856" y="455" width="5" height="1"/>
<rect x="33" y="462" width="2" height="1"/>
<rect x="1856" y="462" width="2" height="1"/>
<rect x="33" y="469" width="2" height="1"/>
<rect x="1856" y="469" width="2" height="1"/>
<rect x="33" y="477" width="2" height="1"/>
<rect x="1856" y="477" width="2" height="1"/>
<rect x="33" y="484" width="2" height="1"/>
<rect x="1856" y="484" width="2" height="1"/>
<rect x="31" y="492" width="4" height="1"/>
<rect x="1856" y="492" width="5" height="1"/>
<rect x="33" y="499" width="2" height="1"/>
<rect x="1856" y="499" width="2" height="1"/>
<rect x="33" y="506" width="2" height="1"/>
<rect x="1856" y="506" width="2" height="1"/>
<rect x="33" y="514" width="2" height="1"/>
<rect x="1856" y="514" width="2" height="1"/>
<rect x="33" y="521" width="2" height="1"/>
<rect x="1856" y="521" width="2" height="1"/>
<rect x="31" y="528" width="4" height="1"/>
<rect x="1856" y="528" width="5" height="1"/>
<rect x="33" y="536" width="2" height="1"/>
<rect x="1856" y="536" width="2" height="1"/>
<rect x="33" y="543" width="2" height="1"/>
<rect x="1856" y="543" width="2" height="1"/>
<rect x="33" y="550" width="2" height="1"/>
<rect x="1856" y="550" width="2" height="1"/>
<rect x="33" y="558" width="2" height="1"/>
<rect x="1856" y="558" width="2" height="1"/>
<rect x="31" y="565" width="4" height="1"/>
<rect x="1856" y="565" width="5" height="1"/>
<rect x="33" y="573" width="2" height="1"/>
<rect x="1856" y="573" width="2" height="1"/>
<rect x="33" y="580" width="2" height="1"/>
<rect x="1856" y="580" width="2" height="1"/>
<rect x="33" y="587" width="2" height="1"/>
<rect x="1856" y="587" width="2" height="1"/>
<rect x="33" y="595" width="2" height="1"/>
<rect x="1856" y="595" width="2" height="1"/>
<rect x="31" y="602" width="4" height="1"/>
<rect x="1856" y="602" width="5" height="1"/>
<rect x="33" y="609" width="2" height="1"/>
<rect x="1856" y="609" width="2" height="1"/>
<rect x="33" y="617" width="2" height="1"/>
<rect x="1856" y="617" width="2" height="1"/>
<rect x="33" y="624" width="2" height="1"/>
<rect x="1856" y="624" width="2" height="1"/>
<rect x="33" y="631" width="2" height="1"/>
<rect x="1856" y="631" width="2" height="1"/>
<rect x="31" y="639" width="4" height="1"/>
<rect x="1856" y="639" width="5" height="1"/>
<rect x="33" y="646" width="2" height="1"/>
<rect x="1856" y="646" width="2" height="1"/>
<rect x="33" y="878" width="2" height="1"/>
<rect x="33" y="876" width="2" height="1"/>
<rect x="33" y="874" width="2" height="1"/>
<rect x="33" y="872" width="2" height="1"/>
<rect x="33" y="870" width="2" height="1"/>
<rect x="33" y="868" width="2" height="1"/>
<rect x="31" y="866" width="4" height="1"/>
<rect x="33" y="864" width="2" height="1"/>
<rect x="33" y="862" width="2" height="1"/>
<rect x="33" y="860" width="2" height="1"/>
<rect x="33" y="858" width="2" height="1"/>
<rect x="31" y="856" width="4" height="1"/>
<rect x="33" y="854" width="2" height="1"/>
<rect x="33" y="852" width="2" height="1"/>
<rect x="33" y="850" width="2" height="1"/>
<rect x="33" y="848" width="2" height="1"/>
<rect x="31" y="846" width="4" height="1"/>
<rect x="33" y="844" width="2" height="1"/>
<rect x="33" y="842" width="2" height="1"/>
<rect x="33" y="840" width="2" height="1"/>
<rect x="33" y="838" width="2" height="1"/>
<rect x="31" y="836" width="4" height="1"/>
<rect x="33" y="834" width="2" height="1"/>
<rect x="33" y="832" width="2" height="1"/>
<rect x="33" y="830" width="2" height="1"/>
<rect x="33" y="828" width="2" height="1"/>
<rect x="31" y="826" width="4" height="1"/>
<rect x="33" y="824" width="2" height="1"/>
<rect x="33" y="822" width="2" height="1"/>
<rect x="33" y="820" width="2" height="1"/>
<rect x="33" y="818" width="2" height="1"/>
<rect x="31" y="816" width="4" height="1"/>
<rect x="33" y="814" width="2" height="1"/>
<rect x="33" y="812" width="2" height="1"/>
<rect x="33" y="810" width="2" height="1"/>
<rect x="33" y="808" width="2" height="1"/>
<rect x="31" y="806" width="4" height="1"/>
<rect x="33" y="804" width="2" height="1"/>
<rect x="33" y="802" width="2" height="1"/>
<rect x="33" y="800" width="2" height="1"/>
<rect x="33" y="798" width="2" height="1"/>
<rect x="31" y="796" width="4" height="1"/>
<rect x="33" y="794" width="2" height="1"/>
<rect x="33" y="792" width="2" height="1"/>
<rect x="33" y="790" width="2" height="1"/>
<rect x="33" y="788" width="2" height="1"/>
<rect x="31" y="786" width="4" height="1"/>
<rect x="33" y="784" width="2" height="1"/>
<rect x="33" y="782" width="2" height="1"/>
<rect x="33" y="780" width="2" height="1"/>
<rect x="33" y="778" width="2" height="1"/>
<rect x="31" y="776" width="4" height="1"/>
<rect x="33" y="774" width="2" height="1"/>
<rect x="33" y="772" width="2" height="1"/>
<rect x="33" y="770" width="2" height="1"/>
<rect x="33" y="768" width="2" height="1"/>
<rect x="31" y="766" width="4" height="1"/>
<rect x="33" y="764" width="2" height="1"/>
<rect x="33" y="762" width="2" height="1"/>
<rect x="33" y="760" width="2" height="1"/>
<rect x="33" y="758" width="2" height="1"/>
<rect x="31" y="756" width="4" height="1"/>
<rect x="33" y="754" width="2" height="1"/>
<rect x="33" y="752" width="2" height="1"/>
<rect x="33" y="750" width="2" height="1"/>
<rect x="33" y="748" width="2" height="1"/>
<rect x="31" y="746" width="4" height="1"/>
<rect x="33" y="744" width="2" height="1"/>
<rect x="33" y="742" width="2" height="1"/>
<rect x="33" y="740" width="2" height="1"/>
<rect x="33" y="738" width="2" height="1"/>
<rect x="31" y="736" width="4" height="1"/>
<rect x="33" y="734" width="2" height="1"/>
<rect x="33" y="732" width="2" height="1"/>
<rect x="33" y="730" width="2" height="1"/>
<rect x="33" y="728" width="2" height="1"/>
<rect x="31" y="726" width="4" height="1"/>
<rect x="33" y="724" width="2" height="1"/>
<rect x="33" y="722" width="2" height="1"/>
<rect x="33" y="720" width="2" height="1"/>
<rect x="33" y="718" width="2" height="1"/>
<rect x="31" y="716" width="4" height="1"/>
<rect x="33" y="714" width="2" height="1"/>
<rect x="33" y="712" width="2" height="1"/>
<rect x="33" y="710" width="2" height="1"/>
<rect x="33" y="708" width="2" height="1"/>
<rect x="31" y="706" width="4" height="1"/>
<rect x="33" y="704" width="2" height="1"/>
<rect x="33" y="702" width="2" height="1"/>
<rect x="33" y="700" width="2" height="1"/>
<rect x="33" y="698" width="2" height="1"/>
<rect x="31" y="696" width="4" height="1"/>
<rect x="33" y="694" width="2" height="1"/>
<rect x="33" y="692" width="2" height="1"/>
<rect x="33" y="690" width="2" height="1"/>
<rect x="33" y="688" width="2" height="1"/>
<rect x="31" y="686" width="4" height="1"/>
<rect x="33" y="684" width="2" height="1"/>
<rect x="33" y="682" width="2" height="1"/>
<rect x="33" y="680" width="2" height="1"/>
<rect x="33" y="678" width="2" height="1"/>
<rect x="31" y="676" width="4" height="1"/>
<rect x="33" y="674" width="2" height="1"/>
<rect x="33" y="672" width="2" height="1"/>
<rect x="33" y="670" width="2" height="1"/>
<rect x="33" y="668" width="2" height="1"/>
<rect x="31" y="666" width="4" height="1"/>
<rect x="33" y="664" width="2" height="1"/>
<rect x="33" y="662" width="2" height="1"/>
<rect x="33" y="660" width="2" height="1"/>
<rect x="1856" y="872" width="2" height="1"/>
<rect x="1856" y="865" width="5" height="1"/>
<rect x="1856" y="858" width="2" height="1"/>
<rect x="1856" y="851" width="5" height="1"/>
<rect x="1856" y="844" width="2" height="1"/>
<rect x="1856" y="837" width="5" height="1"/>
<rect x="1856" y="830" width="2" height="1"/>
<rect x="1856" y="823" width="5" height="1"/>
<rect x="1856" y="816" width="2" height="1"/>
<rect x="1856" y="809" width="5" height="1"/>
<rect x="1856" y="801" width="2" height="1"/>
<rect x="1856" y="794" width="5" height="1"/>
<rect x="1856" y="787" width="2" height="1"/>
<rect x="1856" y="780" width="5" height="1"/>
<rect x="1856" y="773" width="2" height="1"/>
<rect x="1856" y="766" width="5" height="1"/>
<rect x="1856" y="759" width="2" height="1"/>
<rect x="1856" y="752" width="5" height="1"/>
<rect x="1856" y="745" width="2" height="1"/>
<rect x="1856" y="738" width="5" height="1"/>
<rect x="1856" y="731" width="2" height="1"/>
<rect x="1856" y="724" width="5" height="1"/>
<rect x="1856" y="717" width="2" height="1"/>
<rect x="1856" y="710" width="5" height="1"/>
<rect x="1856" y="703" width="2" height="1"/>
<rect x="1856" y="696" width="5" height="1"/>
<rect x="1856" y="688" width="2" height="1"/>
<rect x="1856" y="681" width="5" height="1"/>
<rect x="1856" y="674" width="2" height="1"/>
<rect x="1856" y="667" width="5" height="1"/>
<rect x="1856" y="660" width="2" height="1"/>
</g>
<g font-family="Liberation Sans, Arial, sans-serif" font-size="9" fill="#111" stroke="#111" stroke-width="0.08" letter-spacing="-0.2">
<text x="26.3" y="16.9" text-anchor="end">20.0</text>
<text x="1887.4" y="16.9" text-anchor="end">20.0</text>
<text x="26.3" y="53.7" text-anchor="end">19.5</text>
<text x="1887.4" y="53.7" text-anchor="end">19.5</text>
<text x="26.3" y="90.5" text-anchor="end">19.0</text>
<text x="1887.4" y="90.5" text-anchor="end">19.0</text>
<text x="26.3" y="127.3" text-anchor="end">18.5</text>
<text x="1887.4" y="127.3" text-anchor="end">18.5</text>
<text x="26.3" y="164.1" text-anchor="end">18.0</text>
<text x="1887.4" y="164.1" text-anchor="end">18.0</text>
<text x="26.3" y="200.9" text-anchor="end">17.5</text>
<text x="1887.4" y="200.9" text-anchor="end">17.5</text>
<text x="26.3" y="237.7" text-anchor="end">17.0</text>
<text x="1887.4" y="237.7" text-anchor="end">17.0</text>
<text x="26.3" y="274.5" text-anchor="end">16.5</text>
<text x="1887.4" y="274.5" text-anchor="end">16.5</text>
<text x="26.3" y="311.3" text-anchor="end">16.0</text>
<text x="1887.4" y="311.3" text-anchor="end">16.0</text>
<text x="26.3" y="348.1" text-anchor="end">15.5</text>
<text x="1887.4" y="348.1" text-anchor="end">15.5</text>
<text x="26.3" y="385.0" text-anchor="end">15.0</text>
<text x="1887.4" y="385.0" text-anchor="end">15.0</text>
<text x="26.3" y="421.8" text-anchor="end">14.5</text>
<text x="1887.4" y="421.8" text-anchor="end">14.5</text>
<text x="26.3" y="458.6" text-anchor="end">14.0</text>
<text x="1887.4" y="458.6" text-anchor="end">14.0</text>
<text x="26.3" y="495.4" text-anchor="end">13.5</text>
<text x="1887.4" y="495.4" text-anchor="end">13.5</text>
<text x="26.3" y="532.2" text-anchor="end">13.0</text>
<text x="1887.4" y="532.2" text-anchor="end">13.0</text>
<text x="26.3" y="569.0" text-anchor="end">12.5</text>
<text x="1887.4" y="569.0" text-anchor="end">12.5</text>
<text x="26.3" y="605.8" text-anchor="end">12.0</text>
<text x="1887.4" y="605.8" text-anchor="end">12.0</text>
<text x="26.3" y="642.6" text-anchor="end">11.5</text>
<text x="1887.4" y="642.6" text-anchor="end">11.5</text>
<text x="26.3" y="869.8" text-anchor="end">0</text>
<text x="26.3" y="859.8" text-anchor="end">5</text>
<text x="26.3" y="849.8" text-anchor="end">10</text>
<text x="26.3" y="839.8" text-anchor="end">15</text>
<text x="26.3" y="829.8" text-anchor="end">20</text>
<text x="26.3" y="819.8" text-anchor="end">25</text>
<text x="26.3" y="809.8" text-anchor="end">30</text>
<text x="26.3" y="799.8" text-anchor="end">35</text>
<text x="26.3" y="789.8" text-anchor="end">40</text>
<text x="26.3" y="779.8" text-anchor="end">45</text>
<text x="26.3" y="769.8" text-anchor="end">50</text>
<text x="26.3" y="759.8" text-anchor="end">55</text>
<text x="26.3" y="749.8" text-anchor="end">60</text>
<text x="26.3" y="739.8" text-anchor="end">65</text>
<text x="26.3" y="729.8" text-anchor="end">70</text>
<text x="26.3" y="719.8" text-anchor="end">75</text>
<text x="26.3" y="709.8" text-anchor="end">80</text>
<text x="26.3" y="699.8" text-anchor="end">85</text>
<text x="26.3" y="689.8" text-anchor="end">90</text>
<text x="26.3" y="679.8" text-anchor="end">95</text>
<text x="26.3" y="669.8" text-anchor="end">100</text>
<text x="1887.4" y="868.9" text-anchor="end">1000</text>
<text x="1887.4" y="854.7" text-anchor="end">2000</text>
<text x="1887.4" y="840.6" text-anchor="end">3000</text>
<text x="1887.4" y="826.5" text-anchor="end">4000</text>
<text x="1887.4" y="812.4" text-anchor="end">5000</text>
<text x="1887.4" y="798.2" text-anchor="end">6000</text>
<text x="1887.4" y="784.1" text-anchor="end">7000</text>
<text x="1887.4" y="770.0" text-anchor="end">8000</text>
<text x="1887.4" y="755.8" text-anchor="end">9000</text>
<text x="1887.4" y="741.7" text-anchor="end">10000</text>
<text x="1887.4" y="727.6" text-anchor="end">11000</text>
<text x="1887.4" y="713.4" text-anchor="end">12000</text>
<text x="1887.4" y="699.3" text-anchor="end">13000</text>
<text x="1887.4" y="685.2" text-anchor="end">14000</text>
<text x="1887.4" y="671.0" text-anchor="end">15000</text>
<clipPath id="cb"><rect x="36" y="881" width="1819" height="22"/></clipPath>
<g clip-path="url(#cb)">
<text x="36" y="889">13</text>
<text x="60" y="889">20</text>
<text x="84" y="889">27</text>
<text x="109" y="889">3</text>
<text x="133" y="889">10</text>
<text x="158" y="889">17</text>
<text x="182" y="889">24</text>
<text x="207" y="889">1</text>
<text x="231" y="889">8</text>
<text x="256" y="889">15</text>
<text x="280" y="889">22</text>
<text x="305" y="889">29</text>
<text x="329" y="889">5</text>
<text x="354" y="889">12</text>
<text x="373" y="889">19</text>
<text x="398" y="889">26</text>
<text x="422" y="889">2</text>
<text x="447" y="889">9</text>
<text x="472" y="889">16</text>
<text x="496" y="889">23</text>
<text x="521" y="889">30</text>
<text x="545" y="889">7</text>
<text x="569" y="889">14</text>
<text x="594" y="889">21</text>
<text x="619" y="889">28</text>
<text x="643" y="889">4</text>
<text x="668" y="889">11</text>
<text x="692" y="889">18</text>
<text x="717" y="889">25</text>
<text x="741" y="889">2</text>
<text x="766" y="889">9</text>
<text x="790" y="889">16</text>
<text x="815" y="889">23</text>
<text x="839" y="889">6</text>
<text x="864" y="889">13</text>
<text x="888" y="889">20</text>
<text x="913" y="889">27</text>
<text x="937" y="889">3</text>
<text x="962" y="889">10</text>
<text x="986" y="889">17</text>
<text x="1011" y="889">24</text>
<text x="1036" y="889">3</text>
<text x="1060" y="889">10</text>
<text x="1085" y="889">17</text>
<text x="1109" y="889">24</text>
<text x="1134" y="889">31</text>
<text x="1158" y="889">7</text>
<text x="1183" y="889">14</text>
<text x="1202" y="889">22</text>
<text x="1222" y="889">28</text>
<text x="1241" y="889">5</text>
<text x="1266" y="889">12</text>
<text x="1291" y="889">19</text>
<text x="1315" y="889">26</text>
<text x="1340" y="889">2</text>
<text x="1364" y="889">9</text>
<text x="1389" y="889">16</text>
<text x="1413" y="889">23</text>
<text x="1438" y="889">30</text>
<text x="1462" y="889">7</text>
<text x="1487" y="889">14</text>
<text x="1511" y="889">21</text>
<text x="1536" y="889">28</text>
<text x="1560" y="889">4</text>
<text x="1585" y="889">11</text>
<text x="1604" y="889">18</text>
<text x="1629" y="889">25</text>
<text x="1653" y="889">1</text>
<text x="1678" y="889">8</text>
<text x="1702" y="889">15</text>
<text x="1727" y="889">22</text>
<text x="1752" y="889">29</text>
<text x="1776" y="889">6</text>
<text x="1801" y="889">13</text>
<text x="1825" y="889">20</text>
<text x="1849" y="889">27</text>
<text x="109" y="900">June</text>
<text x="207" y="900">July</text>
<text x="319" y="900">August</text>
<text x="422" y="900">September</text>
<text x="525" y="900">October</text>
<text x="638" y="900">November</text>
<text x="741" y="900">December</text>
<text x="830" y="900">2025</text>
<text x="937" y="900">February</text>
<text x="1036" y="900">March</text>
<text x="1138" y="900">April</text>
<text x="1237" y="900">May</text>
<text x="1340" y="900">June</text>
<text x="1443" y="900">July</text>
<text x="1555" y="900">August</text>
<text x="1653" y="900">September</text>
<text x="1761" y="900">October</text>
</g>
</g>
<g fill="#000" shape-rendering="crispEdges">
<rect x="58" y="880" width="1" height="12"/>
<rect x="82" y="880" width="1" height="12"/>
<rect x="107" y="880" width="1" height="12"/>
<rect x="131" y="880" width="1" height="12"/>
<rect x="156" y="880" width="1" height="12"/>
<rect x="180" y="880" width="1" height="12"/>
<rect x="205" y="880" width="1" height="12"/>
<rect x="229" y="880" width="1" height="12"/>
<rect x="254" y="880" width="1" height="12"/>
<rect x="278" y="880" width="1" height="12"/>
<rect x="303" y="880" width="1" height="12"/>
<rect x="327" y="880" width="1" height="12"/>
<rect x="352" y="880" width="1" height="12"/>
<rect x="371" y="880" width="1" height="12"/>
<rect x="396" y="880" width="1" height="12"/>
<rect x="420" y="880" width="1" height="12"/>
<rect x="445" y="880" width="1" height="12"/>
<rect x="470" y="880" width="1" height="12"/>
<rect x="494" y="880" width="1" height="12"/>
<rect x="519" y="880" width="1" height="12"/>
<rect x="543" y="880" width="1" height="12"/>
<rect x="567" y="880" width="1" height="12"/>
<rect x="592" y="880" width="1" height="12"/>
<rect x="617" y="880" width="1" height="12"/>
<rect x="641" y="880" width="1" height="12"/>
<rect x="666" y="880" width="1" height="12"/>
<rect x="690" y="880" width="1" height="12"/>
<rect x="715" y="880" width="1" height="12"/>
<rect x="739" y="880" width="1" height="12"/>
<rect x="764" y="880" width="1" height="12"/>
<rect x="788" y="880" width="1" height="12"/>
<rect x="813" y="880" width="1" height="12"/>
<rect x="822" y="880" width="1" height="12"/>
<rect x="837" y="880" width="1" height="12"/>
<rect x="862" y="880" width="1" height="12"/>
<rect x="886" y="880" width="1" height="12"/>
<rect x="911" y="880" width="1" height="12"/>
<rect x="935" y="880" width="1" height="12"/>
<rect x="960" y="880" width="1" height="12"/>
<rect x="984" y="880" width="1" height="12"/>
<rect x="1009" y="880" width="1" height="12"/>
<rect x="1034" y="880" width="1" height="12"/>
<rect x="1058" y="880" width="1" height="12"/>
<rect x="1083" y="880" width="1" height="12"/>
<rect x="1107" y="880" width="1" height="12"/>
<rect x="1132" y="880" width="1" height="12"/>
<rect x="1156" y="880" width="1" height="12"/>
<rect x="1181" y="880" width="1" height="12"/>
<rect x="1200" y="880" width="1" height="12"/>
<rect x="1220" y="880" width="1" height="12"/>
<rect x="1239" y="880" width="1" height="12"/>
<rect x="1264" y="880" width="1" height="12"/>
<rect x="1289" y="880" width="1" height="12"/>
<rect x="1313" y="880" width="1" height="12"/>
<rect x="1338" y="880" width="1" height="12"/>
<rect x="1362" y="880" width="1" height="12"/>
<rect x="1387" y="880" width="1" height="12"/>
<rect x="1411" y="880" width="1" height="12"/>
<rect x="1436" y="880" width="1" height="12"/>
<rect x="1460" y="880" width="1" height="12"/>
<rect x="1485" y="880" width="1" height="12"/>
<rect x="1509" y="880" width="1" height="12"/>
<rect x="1534" y="880" width="1" height="12"/>
<rect x="1558" y="880" width="1" height="12"/>
<rect x="1583" y="880" width="1" height="12"/>
<rect x="1602" y="880" width="1" height="12"/>
<rect x="1627" y="880" width="1" height="12"/>
<rect x="1651" y="880" width="1" height="12"/>
<rect x="1676" y="880" width="1" height="12"/>
<rect x="1700" y="880" width="1" height="12"/>
<rect x="1725" y="880" width="1" height="12"/>
<rect x="1750" y="880" width="1" height="12"/>
<rect x="1774" y="880" width="1" height="12"/>
<rect x="1799" y="880" width="1" height="12"/>
<rect x="1823" y="880" width="1" height="12"/>
<rect x="1847" y="880" width="1" height="12"/>
<rect x="107" y="880" width="1" height="22"/>
<rect x="205" y="880" width="1" height="22"/>
<rect x="317" y="880" width="1" height="22"/>
<rect x="420" y="880" width="1" height="22"/>
<rect x="523" y="880" width="1" height="22"/>
<rect x="636" y="880" width="1" height="22"/>
<rect x="739" y="880" width="1" height="22"/>
<rect x="828" y="880" width="1" height="22"/>
<rect x="935" y="880" width="1" height="22"/>
<rect x="1034" y="880" width="1" height="22"/>
<rect x="1136" y="880" width="1" height="22"/>
<rect x="1235" y="880" width="1" height="22"/>
<rect x="1338" y="880" width="1" height="22"/>
<rect x="1441" y="880" width="1" height="22"/>
<rect x="1553" y="880" width="1" height="22"/>
<rect x="1651" y="880" width="1" height="22"/>
<rect x="1759" y="880" width="1" height="22"/>
</g>
<g fill="#000" shape-rendering="crispEdges"><rect x="1856" y="872" width="21" height="1"/><rect x="1857" y="872" width="1" height="8"/><rect x="1876" y="872" width="1" height="8"/></g>
<text x="1858.5" y="878.3" font-family="Liberation Sans, Arial, sans-serif" font-size="6" fill="#333">x1000</text>
<rect x="834" y="0" width="222" height="13" fill="#fff"/>
<text x="836" y="11" font-family="Liberation Sans, Arial, sans-serif" font-size="9" fill="#111" textLength="218" lengthAdjust="spacingAndGlyphs">Tenaris (14.8200, 14.8450, 14.6500, 14.7600, +0.05000)</text>
<rect x="1191.5" y="26.5" width="412" height="128" fill="#ffff00" stroke="#000" stroke-width="1" shape-rendering="crispEdges"/>
<g font-family="Liberation Sans, Arial, sans-serif" font-size="13.5" font-weight="bold" fill="#000">
<text transform="translate(1194.5,38.4) scale(0.9,1)" x="0" y="0" textLength="388.9" lengthAdjust="spacing">Small white doji sui 14,76 per Tenaris che tocca i 14,65</text>
<text transform="translate(1194.5,54.6) scale(0.9,1)" x="0" y="0" textLength="322.2" lengthAdjust="spacing">e chiude appena positiva con scambi in calo.</text>
<text transform="translate(1194.5,70.8) scale(0.9,1)" x="0" y="0" textLength="370.0" lengthAdjust="spacing">Prova a salvarsi sopra i minimi di settembre ma non</text>
<text transform="translate(1194.5,87.0) scale(0.9,1)" x="0" y="0" textLength="392.2" lengthAdjust="spacing">prendo posizione dopo il piccolo stop profit di venerdì.</text>
<text transform="translate(1194.5,103.2) scale(0.9,1)" x="0" y="0" textLength="425.6" lengthAdjust="spacing">Interessante se dovesse fare i 14,55 e ripartire velocemente</text>
<text transform="translate(1194.5,119.4) scale(0.9,1)" x="0" y="0" textLength="451.1" lengthAdjust="spacing">insieme ai volumi. In quel caso dovremo essere bravi a leggere</text>
<text transform="translate(1194.5,135.6) scale(0.9,1)" x="0" y="0" textLength="342.2" lengthAdjust="spacing">l'intraday e buttarci dentro con stop sotto i 14,5.</text>
<text transform="translate(1194.5,151.8) scale(0.9,1)" x="0" y="0" textLength="434.4" lengthAdjust="spacing">Senza questo segnale l'aspetteremo più in basso con calma.</text>
</g>
<rect x="1470.5" y="591.5" width="206" height="12" fill="#fff" stroke="#000" stroke-width="1" shape-rendering="crispEdges"/>
<text x="1472" y="600.9" font-family="Liberation Sans, Arial, sans-serif" font-size="9" font-weight="bold" fill="#000" stroke="#000" stroke-width="0.35" textLength="203" lengthAdjust="spacingAndGlyphs">COPYRIGHT@ LABORSADEIPICCOLI.COM</text>
</svg>
</body></html>
